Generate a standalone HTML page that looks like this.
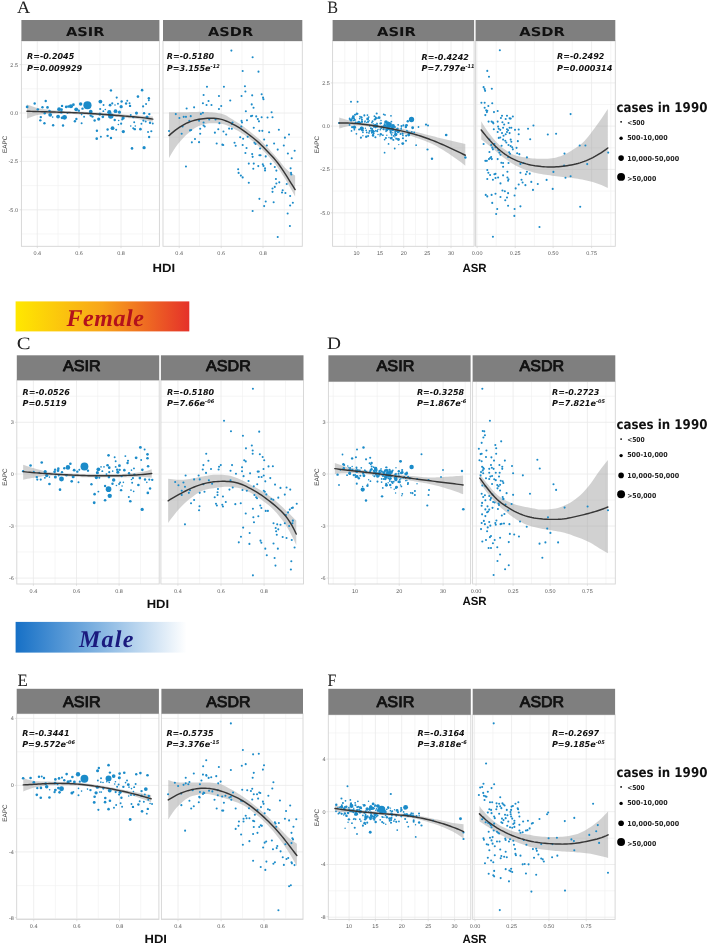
<!DOCTYPE html>
<html lang="en"><head><meta charset="utf-8"><title>EAPC vs HDI and ASR</title>
<style>html,body{margin:0;padding:0;background:#fff}body{width:708px;height:945px;overflow:hidden}svg{display:block}</style></head>
<body>
<svg width="708" height="945" viewBox="0 0 708 945" text-rendering="geometricPrecision">
<defs><linearGradient id="gf" x1="0" x2="1" y1="0" y2="0"><stop offset="0" stop-color="#ffe800"/><stop offset="0.5" stop-color="#f8a51a"/><stop offset="1" stop-color="#e5312a"/></linearGradient><linearGradient id="gm" x1="0" x2="1" y1="0" y2="0"><stop offset="0" stop-color="#1670c6"/><stop offset="0.5" stop-color="#86b6e2"/><stop offset="1" stop-color="#ffffff"/></linearGradient></defs>
<rect width="708" height="945" fill="#fff"/>
<g>
<rect x="21.4" y="41" width="138" height="205.3" fill="#fff"/>
<path d="M58.1 41V246.3M100 41V246.3M142.5 41V246.3M21.4 88.8H159.4M21.4 137.2H159.4M21.4 185.6H159.4M21.4 234H159.4" stroke="#f2f2f2" stroke-width="0.7" fill="none"/>
<path d="M37.3 41V246.3M79 41V246.3M121 41V246.3M21.4 64.6H159.4M21.4 113H159.4M21.4 161.4H159.4M21.4 209.8H159.4" stroke="#eaeaea" stroke-width="0.8" fill="none"/>
<path d="M26.95 104.41 L29.08 105.28 L31.22 106.1 L33.35 106.86 L35.48 107.53 L37.62 108.1 L39.75 108.54 L41.88 108.92 L44.02 109.26 L46.15 109.57 L48.28 109.84 L50.42 110.08 L52.55 110.29 L54.68 110.47 L56.82 110.62 L58.95 110.76 L61.08 110.88 L63.22 110.99 L65.35 111.09 L67.49 111.19 L69.62 111.28 L71.75 111.36 L73.89 111.44 L76.02 111.52 L78.15 111.6 L80.29 111.68 L82.42 111.77 L84.55 111.86 L86.69 111.96 L88.82 112.08 L90.95 112.19 L93.09 112.32 L95.22 112.45 L97.35 112.58 L99.49 112.71 L101.62 112.85 L103.75 113 L105.89 113.14 L108.02 113.29 L110.16 113.44 L112.29 113.59 L114.42 113.74 L116.56 113.89 L118.69 114.04 L120.82 114.2 L122.96 114.35 L125.09 114.5 L127.22 114.66 L129.36 114.82 L131.49 114.98 L133.62 115.14 L135.76 115.3 L137.89 115.46 L140.02 115.63 L142.16 115.79 L144.29 115.95 L146.42 116.12 L148.56 116.28 L150.69 116.44 L152.82 116.61 L152.82 121.81 L150.69 121.34 L148.56 120.89 L146.42 120.46 L144.29 120.07 L142.16 119.71 L140.02 119.4 L137.89 119.11 L135.76 118.85 L133.62 118.6 L131.49 118.36 L129.36 118.14 L127.22 117.92 L125.09 117.71 L122.96 117.51 L120.82 117.31 L118.69 117.1 L116.56 116.9 L114.42 116.7 L112.29 116.51 L110.16 116.31 L108.02 116.12 L105.89 115.94 L103.75 115.76 L101.62 115.6 L99.49 115.44 L97.35 115.28 L95.22 115.14 L93.09 115.01 L90.95 114.89 L88.82 114.79 L86.69 114.69 L84.55 114.59 L82.42 114.49 L80.29 114.39 L78.15 114.29 L76.02 114.2 L73.89 114.11 L71.75 114.02 L69.62 113.95 L67.49 113.88 L65.35 113.82 L63.22 113.76 L61.08 113.72 L58.95 113.69 L56.82 113.68 L54.68 113.67 L52.55 113.71 L50.42 113.8 L48.28 113.93 L46.15 114.09 L44.02 114.29 L41.88 114.52 L39.75 114.76 L37.62 115.08 L35.48 115.57 L33.35 116.2 L31.22 116.95 L29.08 117.77 L26.95 118.64Z" fill="#999" fill-opacity="0.45"/>
<g fill="#1b8bc9"><circle cx="27.14" cy="106.89" r="1.36"/><circle cx="34.66" cy="103.43" r="1.2"/><circle cx="45.73" cy="101.06" r="1.2"/><circle cx="42.47" cy="107.19" r="1.2"/><circle cx="37.82" cy="109.37" r="1.2"/><circle cx="47.51" cy="107.39" r="1.31"/><circle cx="49.49" cy="110.85" r="1.2"/><circle cx="44.74" cy="113.32" r="1.2"/><circle cx="40.79" cy="117.08" r="1.2"/><circle cx="40.29" cy="120.34" r="1.2"/><circle cx="44.44" cy="123.21" r="1.2"/><circle cx="50.18" cy="114.8" r="1.9"/><circle cx="52.65" cy="117.08" r="0.82"/><circle cx="53.14" cy="125.28" r="1.2"/><circle cx="58.09" cy="116.58" r="1.9"/><circle cx="59.08" cy="109.17" r="1.9"/><circle cx="61.55" cy="109.66" r="1.36"/><circle cx="62.04" cy="105.9" r="1.2"/><circle cx="61.35" cy="112.43" r="1.36"/><circle cx="63.03" cy="125.48" r="1.2"/><circle cx="64.52" cy="117.37" r="2.45"/><circle cx="62.04" cy="117.77" r="1.36"/><circle cx="66.2" cy="106.89" r="1.36"/><circle cx="68.47" cy="106.5" r="1.36"/><circle cx="70.94" cy="106.2" r="2.07"/><circle cx="73.41" cy="104.72" r="1.36"/><circle cx="67.48" cy="113.12" r="0.82"/><circle cx="76.18" cy="109.37" r="1.9"/><circle cx="78.85" cy="110.65" r="1.2"/><circle cx="74.9" cy="121.23" r="1.2"/><circle cx="76.38" cy="119.05" r="1.2"/><circle cx="80.63" cy="104.03" r="1.74"/><circle cx="82.51" cy="108.67" r="1.2"/><circle cx="81.62" cy="114.61" r="0.82"/><circle cx="84.09" cy="116.78" r="0.98"/><circle cx="81.62" cy="123.31" r="0.98"/><circle cx="87.45" cy="105.21" r="4.08"/><circle cx="90.72" cy="111.64" r="1.9"/><circle cx="90.72" cy="115.59" r="1.2"/><circle cx="110.96" cy="90.38" r="1.2"/><circle cx="142.11" cy="90.18" r="1.31"/><circle cx="116.7" cy="97.6" r="1.09"/><circle cx="137.95" cy="96.61" r="1.31"/><circle cx="148.83" cy="98.29" r="1.2"/><circle cx="148.83" cy="100.27" r="0.98"/><circle cx="100.38" cy="101.55" r="1.9"/><circle cx="121.64" cy="101.55" r="1.2"/><circle cx="127.28" cy="100.76" r="0.98"/><circle cx="126.09" cy="103.43" r="1.2"/><circle cx="129.55" cy="103.24" r="0.98"/><circle cx="130.04" cy="105.9" r="1.2"/><circle cx="112.25" cy="103.43" r="1.09"/><circle cx="110.07" cy="105.21" r="1.36"/><circle cx="103.55" cy="105.01" r="0.98"/><circle cx="115.01" cy="105.01" r="0.82"/><circle cx="117.98" cy="103.73" r="0.98"/><circle cx="146.06" cy="104.03" r="0.98"/><circle cx="143.09" cy="106.4" r="1.09"/><circle cx="121.14" cy="106.7" r="1.63"/><circle cx="100.18" cy="108.97" r="1.09"/><circle cx="105.33" cy="109.46" r="0.82"/><circle cx="103.35" cy="111.14" r="0.98"/><circle cx="115.51" cy="111.14" r="1.9"/><circle cx="119.46" cy="112.13" r="1.52"/><circle cx="109.28" cy="112.13" r="2.07"/><circle cx="110.76" cy="116.09" r="2.72"/><circle cx="99.89" cy="114.11" r="1.52"/><circle cx="92.47" cy="116.58" r="1.2"/><circle cx="94.65" cy="120.54" r="1.2"/><circle cx="98.7" cy="119.05" r="1.63"/><circle cx="102.85" cy="116.78" r="1.36"/><circle cx="114.72" cy="120.04" r="1.2"/><circle cx="118.67" cy="120.54" r="0.82"/><circle cx="123.12" cy="118.07" r="1.63"/><circle cx="122.13" cy="119.55" r="0.98"/><circle cx="136.47" cy="113.12" r="1.52"/><circle cx="130.74" cy="115.1" r="0.98"/><circle cx="133.21" cy="117.08" r="1.2"/><circle cx="144.08" cy="113.32" r="1.2"/><circle cx="149.32" cy="114.11" r="1.2"/><circle cx="147.05" cy="117.08" r="1.52"/><circle cx="134.2" cy="122.22" r="0.98"/><circle cx="121.14" cy="123.7" r="1.09"/><circle cx="118.38" cy="124.49" r="0.82"/><circle cx="141.41" cy="123.8" r="0.98"/><circle cx="143.39" cy="120.54" r="1.09"/><circle cx="145.67" cy="121.53" r="0.98"/><circle cx="150.02" cy="122.71" r="1.2"/><circle cx="152.78" cy="123.5" r="0.98"/><circle cx="130.74" cy="125.98" r="0.82"/><circle cx="133.21" cy="128.15" r="0.98"/><circle cx="135.28" cy="125.98" r="0.82"/><circle cx="134.79" cy="129.14" r="1.2"/><circle cx="140.43" cy="129.14" r="1.31"/><circle cx="112.54" cy="128.15" r="1.9"/><circle cx="107.6" cy="129.44" r="1.2"/><circle cx="116.2" cy="129.73" r="0.98"/><circle cx="123.32" cy="131.61" r="1.63"/><circle cx="96.92" cy="130.72" r="1.2"/><circle cx="148.04" cy="131.91" r="0.98"/><circle cx="151.3" cy="131.22" r="1.09"/><circle cx="149.13" cy="137.05" r="1.2"/><circle cx="107.6" cy="135.86" r="1.2"/><circle cx="110.96" cy="138.04" r="1.2"/><circle cx="100.88" cy="136.85" r="0.98"/><circle cx="96.72" cy="138.63" r="1.31"/><circle cx="132.02" cy="148.42" r="1.31"/><circle cx="144.08" cy="147.73" r="1.63"/></g>
<path d="M26.95 111.19 L29.08 111.28 L31.22 111.36 L33.35 111.44 L35.48 111.51 L37.62 111.58 L39.75 111.65 L41.88 111.71 L44.02 111.78 L46.15 111.84 L48.28 111.9 L50.42 111.96 L52.55 112.02 L54.68 112.08 L56.82 112.14 L58.95 112.2 L61.08 112.26 L63.22 112.33 L65.35 112.4 L67.49 112.47 L69.62 112.55 L71.75 112.63 L73.89 112.71 L76.02 112.8 L78.15 112.89 L80.29 112.99 L82.42 113.09 L84.55 113.2 L86.69 113.31 L88.82 113.43 L90.95 113.56 L93.09 113.69 L95.22 113.83 L97.35 113.97 L99.49 114.12 L101.62 114.28 L103.75 114.43 L105.89 114.59 L108.02 114.76 L110.16 114.92 L112.29 115.09 L114.42 115.26 L116.56 115.42 L118.69 115.59 L120.82 115.76 L122.96 115.93 L125.09 116.1 L127.22 116.26 L129.36 116.43 L131.49 116.61 L133.62 116.79 L135.76 116.98 L137.89 117.19 L140.02 117.4 L142.16 117.63 L144.29 117.88 L146.42 118.15 L148.56 118.44 L150.69 118.76 L152.82 119.1" stroke="#363636" stroke-width="1.45" fill="none" stroke-linecap="round"/>
<rect x="21.4" y="41" width="138" height="205.3" fill="none" stroke="#d4d4d4" stroke-width="0.9"/>
<rect x="21.4" y="20" width="138" height="21" fill="#7f7f7f"/>
<text x="65.9" y="35.5" font-family='"DejaVu Sans", sans-serif' font-weight="bold" font-size="12.2" textLength="38.5" lengthAdjust="spacingAndGlyphs" fill="#111">ASIR</text>
<text x="27" y="59.3" font-family='"DejaVu Sans", sans-serif' font-weight="bold" font-style="italic" font-size="8.1" fill="#111" textLength="47.3" lengthAdjust="spacingAndGlyphs">R=-0.2045</text>
<text x="27" y="70.9" font-family='"DejaVu Sans", sans-serif' font-weight="bold" font-style="italic" font-size="8.1" fill="#111" textLength="55.25" lengthAdjust="spacingAndGlyphs">P=0.009929</text>
<text x="37.3" y="254.6" text-anchor="middle" font-family='"Liberation Sans", sans-serif' font-size="5.5" fill="#5c5c5c">0.4</text>
<path d="M37.3 246.3v1.8" stroke="#d4d4d4" stroke-width="0.7"/>
<text x="79" y="254.6" text-anchor="middle" font-family='"Liberation Sans", sans-serif' font-size="5.5" fill="#5c5c5c">0.6</text>
<path d="M79 246.3v1.8" stroke="#d4d4d4" stroke-width="0.7"/>
<text x="121" y="254.6" text-anchor="middle" font-family='"Liberation Sans", sans-serif' font-size="5.5" fill="#5c5c5c">0.8</text>
<path d="M121 246.3v1.8" stroke="#d4d4d4" stroke-width="0.7"/>
<text x="18" y="66.5" text-anchor="end" font-family='"Liberation Sans", sans-serif' font-size="5.5" fill="#5c5c5c">2.5</text>
<path d="M21.4 64.6h-1.8" stroke="#d4d4d4" stroke-width="0.7"/>
<text x="18" y="114.9" text-anchor="end" font-family='"Liberation Sans", sans-serif' font-size="5.5" fill="#5c5c5c">0.0</text>
<path d="M21.4 113h-1.8" stroke="#d4d4d4" stroke-width="0.7"/>
<text x="18" y="163.3" text-anchor="end" font-family='"Liberation Sans", sans-serif' font-size="5.5" fill="#5c5c5c">-2.5</text>
<path d="M21.4 161.4h-1.8" stroke="#d4d4d4" stroke-width="0.7"/>
<text x="18" y="211.7" text-anchor="end" font-family='"Liberation Sans", sans-serif' font-size="5.5" fill="#5c5c5c">-5.0</text>
<path d="M21.4 209.8h-1.8" stroke="#d4d4d4" stroke-width="0.7"/>
</g>
<g>
<rect x="163" y="41" width="139.3" height="205.3" fill="#fff"/>
<path d="M199.5 41V246.3M242 41V246.3M284.3 41V246.3M163 88.8H302.3M163 137.2H302.3M163 185.6H302.3M163 234H302.3" stroke="#f2f2f2" stroke-width="0.7" fill="none"/>
<path d="M179.2 41V246.3M221.2 41V246.3M263 41V246.3M163 64.6H302.3M163 113H302.3M163 161.4H302.3M163 209.8H302.3" stroke="#eaeaea" stroke-width="0.8" fill="none"/>
<path d="M169.01 112.32 L171.15 112.32 L173.29 112.32 L175.42 112.32 L177.56 112.32 L179.7 112.32 L181.84 112.3 L183.97 112.27 L186.11 112.22 L188.25 112.16 L190.38 112.11 L192.52 112.05 L194.66 111.99 L196.8 111.92 L198.93 111.87 L201.07 111.87 L203.21 111.91 L205.35 111.98 L207.48 112.08 L209.62 112.2 L211.76 112.33 L213.89 112.52 L216.03 112.78 L218.17 113.13 L220.31 113.54 L222.44 114.04 L224.58 114.75 L226.72 115.87 L228.86 117.21 L230.99 118.59 L233.13 119.86 L235.27 121.14 L237.41 122.47 L239.54 123.85 L241.68 125.3 L243.82 126.84 L245.95 128.44 L248.09 130.1 L250.23 131.77 L252.37 133.46 L254.5 135.18 L256.64 136.96 L258.78 138.82 L260.92 140.81 L263.05 142.92 L265.19 145.1 L267.33 147.32 L269.47 149.58 L271.6 151.88 L273.74 154.24 L275.88 156.64 L278.01 159.13 L280.15 161.83 L282.29 164.58 L284.43 167.13 L286.56 169.26 L288.7 171.13 L290.84 172.84 L292.98 174.34 L295.11 175.59 L295.11 196.38 L292.98 192.48 L290.84 188.67 L288.7 184.97 L286.56 181.37 L284.43 177.86 L282.29 174.4 L280.15 171.06 L278.01 167.91 L275.88 165.02 L273.74 162.31 L271.6 159.76 L269.47 157.33 L267.33 154.98 L265.19 152.73 L263.05 150.57 L260.92 148.5 L258.78 146.5 L256.64 144.58 L254.5 142.71 L252.37 140.93 L250.23 139.23 L248.09 137.6 L245.95 136.04 L243.82 134.56 L241.68 133.16 L239.54 131.84 L237.41 130.59 L235.27 129.4 L233.13 128.3 L230.99 127.28 L228.86 126.23 L226.72 125.24 L224.58 124.46 L222.44 124.02 L220.31 123.75 L218.17 123.52 L216.03 123.33 L213.89 123.21 L211.76 123.16 L209.62 123.25 L207.48 123.54 L205.35 123.98 L203.21 124.53 L201.07 125.16 L198.93 125.89 L196.8 126.97 L194.66 128.33 L192.52 129.85 L190.38 131.43 L188.25 133.16 L186.11 135.08 L183.97 137.18 L181.84 139.45 L179.7 141.88 L177.56 144.57 L175.42 147.56 L173.29 150.8 L171.15 154.28 L169.01 157.97Z" fill="#999" fill-opacity="0.45"/>
<g fill="#1b8bc9"><circle cx="231.38" cy="50.62" r="1.04"/><circle cx="252.63" cy="57.18" r="1.04"/><circle cx="242.68" cy="70.96" r="1.04"/><circle cx="258.5" cy="71.64" r="1.04"/><circle cx="206.98" cy="86.78" r="1.04"/><circle cx="223.93" cy="86.78" r="1.04"/><circle cx="244.94" cy="86.33" r="1.04"/><circle cx="245.4" cy="91.53" r="1.04"/><circle cx="203.59" cy="94.92" r="1.04"/><circle cx="218.95" cy="96.05" r="1.04"/><circle cx="241.55" cy="96.05" r="1.04"/><circle cx="252.18" cy="95.37" r="1.04"/><circle cx="261.67" cy="94.24" r="1.04"/><circle cx="263.02" cy="97.63" r="1.04"/><circle cx="263.47" cy="99.21" r="1.04"/><circle cx="208.56" cy="101.02" r="1.04"/><circle cx="230.25" cy="100.56" r="1.04"/><circle cx="202.91" cy="103.28" r="1.04"/><circle cx="206.53" cy="105.08" r="1.04"/><circle cx="211.5" cy="105.08" r="1.04"/><circle cx="221.21" cy="105.99" r="1.04"/><circle cx="251.72" cy="104.41" r="1.04"/><circle cx="253.53" cy="107.8" r="1.04"/><circle cx="194.1" cy="107.34" r="1.04"/><circle cx="186.64" cy="108.47" r="1.04"/><circle cx="218.95" cy="108.93" r="1.04"/><circle cx="245.85" cy="111.19" r="1.04"/><circle cx="271.61" cy="112.32" r="1.04"/><circle cx="175.79" cy="114.12" r="1.04"/><circle cx="183.7" cy="116.84" r="1.04"/><circle cx="185.96" cy="116.84" r="1.04"/><circle cx="190.71" cy="116.16" r="1.04"/><circle cx="200.88" cy="113.9" r="1.04"/><circle cx="202.91" cy="112.77" r="1.04"/><circle cx="179.41" cy="117.97" r="1.04"/><circle cx="189.35" cy="120.68" r="1.04"/><circle cx="199.07" cy="120.68" r="1.04"/><circle cx="203.59" cy="122.49" r="1.04"/><circle cx="209.24" cy="119.55" r="1.04"/><circle cx="215.56" cy="119.55" r="1.04"/><circle cx="219.41" cy="123.16" r="1.04"/><circle cx="232.51" cy="122.49" r="1.04"/><circle cx="231.84" cy="124.07" r="1.04"/><circle cx="241.55" cy="120.9" r="1.04"/><circle cx="242.01" cy="122.49" r="1.04"/><circle cx="246.98" cy="120.23" r="1.04"/><circle cx="251.05" cy="116.16" r="1.04"/><circle cx="252.18" cy="115.71" r="1.04"/><circle cx="256.24" cy="116.38" r="1.04"/><circle cx="257.82" cy="119.1" r="1.04"/><circle cx="258.95" cy="121.36" r="1.04"/><circle cx="261.67" cy="117.29" r="1.04"/><circle cx="267.54" cy="117.51" r="1.04"/><circle cx="272.51" cy="117.29" r="1.04"/><circle cx="169.01" cy="131.07" r="1.04"/><circle cx="182.57" cy="126.55" r="1.04"/><circle cx="181.67" cy="133.79" r="1.04"/><circle cx="190.03" cy="130.4" r="1.04"/><circle cx="191.16" cy="129.94" r="1.04"/><circle cx="200.2" cy="128.81" r="1.04"/><circle cx="203.59" cy="125.42" r="1.04"/><circle cx="204.72" cy="126.55" r="1.04"/><circle cx="214.89" cy="132.66" r="1.04"/><circle cx="218.28" cy="129.27" r="1.04"/><circle cx="223.47" cy="131.53" r="1.04"/><circle cx="226.19" cy="134.46" r="1.04"/><circle cx="229.12" cy="128.59" r="1.04"/><circle cx="231.84" cy="128.81" r="1.04"/><circle cx="241.33" cy="126.55" r="1.04"/><circle cx="253.76" cy="127.68" r="1.04"/><circle cx="259.41" cy="130.85" r="1.04"/><circle cx="262.34" cy="130.85" r="1.04"/><circle cx="269.12" cy="132.2" r="1.04"/><circle cx="278.84" cy="129.72" r="1.04"/><circle cx="289.01" cy="134.46" r="1.04"/><circle cx="284.94" cy="137.63" r="1.04"/><circle cx="191.84" cy="142.37" r="1.04"/><circle cx="195" cy="138.98" r="1.04"/><circle cx="199.07" cy="142.15" r="1.04"/><circle cx="200.2" cy="133.79" r="1.04"/><circle cx="216.69" cy="143.5" r="1.04"/><circle cx="222.34" cy="144.63" r="1.04"/><circle cx="223.25" cy="145.08" r="1.04"/><circle cx="234.55" cy="142.82" r="1.04"/><circle cx="235.68" cy="145.76" r="1.04"/><circle cx="240.2" cy="137.18" r="1.04"/><circle cx="243.14" cy="138.76" r="1.04"/><circle cx="247.66" cy="136.72" r="1.04"/><circle cx="242.68" cy="145.08" r="1.04"/><circle cx="246.53" cy="148.02" r="1.04"/><circle cx="254.44" cy="142.82" r="1.04"/><circle cx="255.56" cy="143.95" r="1.04"/><circle cx="260.08" cy="148.47" r="1.04"/><circle cx="264.15" cy="139.44" r="1.04"/><circle cx="266.86" cy="145.54" r="1.04"/><circle cx="274.1" cy="143.5" r="1.04"/><circle cx="283.81" cy="145.54" r="1.04"/><circle cx="277.71" cy="149.6" r="1.04"/><circle cx="294.66" cy="150.73" r="1.04"/><circle cx="245.4" cy="152.99" r="1.04"/><circle cx="252.18" cy="154.12" r="1.04"/><circle cx="252.63" cy="156.84" r="1.04"/><circle cx="259.41" cy="155.25" r="1.04"/><circle cx="260.54" cy="155.25" r="1.04"/><circle cx="265.73" cy="156.38" r="1.04"/><circle cx="287.88" cy="153.45" r="1.04"/><circle cx="291.72" cy="158.19" r="1.04"/><circle cx="185.96" cy="166.55" r="1.04"/><circle cx="248.79" cy="163.62" r="1.04"/><circle cx="253.76" cy="163.62" r="1.04"/><circle cx="253.31" cy="168.81" r="1.04"/><circle cx="258.28" cy="166.1" r="1.04"/><circle cx="262.8" cy="164.29" r="1.04"/><circle cx="263.47" cy="165.88" r="1.04"/><circle cx="265.06" cy="168.36" r="1.04"/><circle cx="265.06" cy="170.4" r="1.04"/><circle cx="270.71" cy="163.84" r="1.04"/><circle cx="274.77" cy="167.01" r="1.04"/><circle cx="276.36" cy="170.62" r="1.04"/><circle cx="290.59" cy="168.36" r="1.04"/><circle cx="291.05" cy="172.88" r="1.04"/><circle cx="291.27" cy="174.46" r="1.04"/><circle cx="238.16" cy="169.27" r="1.04"/><circle cx="238.62" cy="172.88" r="1.04"/><circle cx="240.88" cy="175.59" r="1.04"/><circle cx="242.68" cy="177.4" r="1.04"/><circle cx="248.79" cy="182.82" r="1.04"/><circle cx="275.9" cy="178.98" r="1.04"/><circle cx="276.36" cy="183.5" r="1.04"/><circle cx="279.29" cy="182.37" r="1.04"/><circle cx="274.77" cy="186.89" r="1.04"/><circle cx="272.51" cy="188.47" r="1.04"/><circle cx="272.51" cy="191.86" r="1.04"/><circle cx="282.68" cy="190.28" r="1.04"/><circle cx="282.01" cy="192.54" r="1.04"/><circle cx="285.4" cy="192.99" r="1.04"/><circle cx="286.75" cy="183.95" r="1.04"/><circle cx="290.14" cy="195.93" r="1.04"/><circle cx="259.41" cy="198.87" r="1.04"/><circle cx="265.73" cy="201.58" r="1.04"/><circle cx="273.64" cy="202.26" r="1.04"/><circle cx="292.85" cy="202.71" r="1.04"/><circle cx="290.14" cy="205.42" r="1.04"/><circle cx="264.15" cy="206.1" r="1.04"/><circle cx="252.63" cy="211.07" r="1.04"/><circle cx="287.66" cy="213.56" r="1.04"/><circle cx="289.92" cy="225.99" r="1.04"/><circle cx="277.71" cy="237.06" r="1.04"/></g>
<path d="M169.01 135.59 L171.15 133.66 L173.29 131.84 L175.42 130.14 L177.56 128.57 L179.7 127.11 L181.84 125.77 L183.97 124.56 L186.11 123.46 L188.25 122.49 L190.38 121.64 L192.52 120.9 L194.66 120.28 L196.8 119.76 L198.93 119.32 L201.07 118.96 L203.21 118.66 L205.35 118.44 L207.48 118.28 L209.62 118.2 L211.76 118.2 L213.89 118.27 L216.03 118.44 L218.17 118.72 L220.31 119.12 L222.44 119.67 L224.58 120.37 L226.72 121.21 L228.86 122.15 L230.99 123.19 L233.13 124.29 L235.27 125.44 L237.41 126.66 L239.54 127.96 L241.68 129.35 L243.82 130.82 L245.95 132.37 L248.09 133.97 L250.23 135.61 L252.37 137.27 L254.5 138.99 L256.64 140.78 L258.78 142.66 L260.92 144.67 L263.05 146.77 L265.19 148.95 L267.33 151.17 L269.47 153.41 L271.6 155.69 L273.74 158.07 L275.88 160.59 L278.01 163.31 L280.15 166.23 L282.29 169.33 L284.43 172.57 L286.56 175.92 L288.7 179.32 L290.84 182.77 L292.98 186.2 L295.11 189.6" stroke="#363636" stroke-width="1.45" fill="none" stroke-linecap="round"/>
<rect x="163" y="41" width="139.3" height="205.3" fill="none" stroke="#d4d4d4" stroke-width="0.9"/>
<rect x="163" y="20" width="139.3" height="21" fill="#7f7f7f"/>
<text x="208.1" y="35.5" font-family='"DejaVu Sans", sans-serif' font-weight="bold" font-size="12.2" textLength="45.1" lengthAdjust="spacingAndGlyphs" fill="#111">ASDR</text>
<text x="166.8" y="59.3" font-family='"DejaVu Sans", sans-serif' font-weight="bold" font-style="italic" font-size="8.1" fill="#111" textLength="47.3" lengthAdjust="spacingAndGlyphs">R=-0.5180</text>
<text x="166.8" y="70.9" font-family='"DejaVu Sans", sans-serif' font-weight="bold" font-style="italic" font-size="8.1" fill="#111" textLength="52.87" lengthAdjust="spacingAndGlyphs">P=3.155e<tspan dy="-3.1" font-size="5">-12</tspan></text>
<text x="179.2" y="254.6" text-anchor="middle" font-family='"Liberation Sans", sans-serif' font-size="5.5" fill="#5c5c5c">0.4</text>
<path d="M179.2 246.3v1.8" stroke="#d4d4d4" stroke-width="0.7"/>
<text x="221.2" y="254.6" text-anchor="middle" font-family='"Liberation Sans", sans-serif' font-size="5.5" fill="#5c5c5c">0.6</text>
<path d="M221.2 246.3v1.8" stroke="#d4d4d4" stroke-width="0.7"/>
<text x="263" y="254.6" text-anchor="middle" font-family='"Liberation Sans", sans-serif' font-size="5.5" fill="#5c5c5c">0.8</text>
<path d="M263 246.3v1.8" stroke="#d4d4d4" stroke-width="0.7"/>
</g>
<text x="16.9" y="13.1" font-family='"Liberation Serif", serif' font-size="17.4" fill="#222" textLength="13.2" lengthAdjust="spacingAndGlyphs">A</text>
<text transform="translate(6.9 144.3) rotate(-90)" text-anchor="middle" font-family='"Liberation Sans", sans-serif' font-size="6.4" fill="#333">EAPC</text>
<text x="152.6" y="271.7" font-family='"Liberation Sans", sans-serif' font-weight="bold" font-size="11.9" textLength="22.6" lengthAdjust="spacingAndGlyphs" fill="#111">HDI</text>
<g>
<rect x="332.6" y="41" width="141.5" height="205.3" fill="#fff"/>
<path d="M344.8 41V246.3M368.3 41V246.3M391.9 41V246.3M415.5 41V246.3M439.1 41V246.3M462.8 41V246.3M332.6 61.4H474.1M332.6 104.5H474.1M332.6 147.8H474.1M332.6 191.1H474.1M332.6 234.4H474.1" stroke="#f2f2f2" stroke-width="0.7" fill="none"/>
<path d="M356.6 41V246.3M380.1 41V246.3M403.7 41V246.3M427.3 41V246.3M451 41V246.3M332.6 82.9H474.1M332.6 126.1H474.1M332.6 169.4H474.1M332.6 212.8H474.1" stroke="#eaeaea" stroke-width="0.8" fill="none"/>
<path d="M339.21 117.51 L341.35 118.15 L343.48 118.77 L345.62 119.38 L347.76 119.95 L349.9 120.49 L352.03 120.98 L354.17 121.41 L356.31 121.79 L358.44 122.15 L360.58 122.48 L362.72 122.79 L364.86 123.08 L366.99 123.35 L369.13 123.62 L371.27 123.88 L373.41 124.14 L375.54 124.39 L377.68 124.66 L379.82 124.93 L381.96 125.22 L384.09 125.52 L386.23 125.85 L388.37 126.2 L390.5 126.57 L392.64 126.95 L394.78 127.35 L396.92 127.77 L399.05 128.2 L401.19 128.63 L403.33 129.08 L405.47 129.54 L407.6 130.01 L409.74 130.48 L411.88 130.96 L414.02 131.46 L416.15 131.97 L418.29 132.5 L420.43 133.04 L422.56 133.59 L424.7 134.14 L426.84 134.7 L428.98 135.25 L431.11 135.8 L433.25 136.34 L435.39 136.87 L437.53 137.42 L439.66 137.96 L441.8 138.51 L443.94 139.05 L446.07 139.58 L448.21 140.11 L450.35 140.62 L452.49 141.12 L454.62 141.61 L456.76 142.1 L458.9 142.57 L461.04 143.04 L463.17 143.5 L465.31 143.95 L465.31 165.65 L463.17 163.98 L461.04 162.35 L458.9 160.75 L456.76 159.19 L454.62 157.67 L452.49 156.2 L450.35 154.78 L448.21 153.36 L446.07 151.96 L443.94 150.59 L441.8 149.25 L439.66 147.97 L437.53 146.74 L435.39 145.59 L433.25 144.53 L431.11 143.54 L428.98 142.6 L426.84 141.69 L424.7 140.82 L422.56 139.99 L420.43 139.19 L418.29 138.42 L416.15 137.68 L414.02 136.97 L411.88 136.28 L409.74 135.62 L407.6 134.96 L405.47 134.32 L403.33 133.7 L401.19 133.09 L399.05 132.51 L396.92 131.95 L394.78 131.42 L392.64 130.92 L390.5 130.47 L388.37 130.05 L386.23 129.66 L384.09 129.26 L381.96 128.87 L379.82 128.47 L377.68 128.08 L375.54 127.7 L373.41 127.33 L371.27 126.99 L369.13 126.66 L366.99 126.37 L364.86 126.1 L362.72 125.88 L360.58 125.69 L358.44 125.55 L356.31 125.46 L354.17 125.42 L352.03 125.5 L349.9 125.75 L347.76 126.14 L345.62 126.65 L343.48 127.25 L341.35 127.91 L339.21 128.59Z" fill="#999" fill-opacity="0.45"/>
<g fill="#1b8bc9"><circle cx="361" cy="137.33" r="0.72"/><circle cx="407.93" cy="132.21" r="1.04"/><circle cx="375.75" cy="130.45" r="0.72"/><circle cx="397.05" cy="131.37" r="1.04"/><circle cx="414.18" cy="132.47" r="0.88"/><circle cx="387.05" cy="122.54" r="0.72"/><circle cx="381.15" cy="123.19" r="0.88"/><circle cx="362.18" cy="130.49" r="0.88"/><circle cx="353.35" cy="116.76" r="1.43"/><circle cx="391.93" cy="128.33" r="1.71"/><circle cx="380.77" cy="134.21" r="1.21"/><circle cx="386.89" cy="122.99" r="0.72"/><circle cx="352.08" cy="127.13" r="1.04"/><circle cx="365.12" cy="121.01" r="0.72"/><circle cx="398.17" cy="124.76" r="0.88"/><circle cx="393.48" cy="139.89" r="0.88"/><circle cx="368.95" cy="132.93" r="0.88"/><circle cx="372.4" cy="129" r="0.88"/><circle cx="368.15" cy="136.05" r="1.04"/><circle cx="391.67" cy="137.85" r="1.04"/><circle cx="361.93" cy="121.83" r="1.21"/><circle cx="353.66" cy="120.46" r="0.72"/><circle cx="368.11" cy="121.85" r="1.04"/><circle cx="362.92" cy="132.31" r="0.88"/><circle cx="354.06" cy="118.42" r="0.88"/><circle cx="389.34" cy="128.33" r="0.88"/><circle cx="406.48" cy="125.36" r="1.43"/><circle cx="406" cy="140.8" r="1.04"/><circle cx="361.94" cy="119.79" r="1.04"/><circle cx="398.14" cy="131.95" r="0.88"/><circle cx="361.57" cy="117.64" r="1.04"/><circle cx="387.53" cy="124.65" r="1.04"/><circle cx="370.93" cy="128.2" r="1.04"/><circle cx="383.69" cy="114.31" r="0.88"/><circle cx="385.13" cy="125.44" r="1.21"/><circle cx="389.05" cy="128.98" r="1.04"/><circle cx="373.98" cy="126.5" r="1.21"/><circle cx="391.58" cy="134.79" r="0.88"/><circle cx="385.9" cy="126.43" r="1.04"/><circle cx="398.04" cy="130.73" r="1.21"/><circle cx="375.88" cy="117.76" r="0.88"/><circle cx="401.5" cy="126.09" r="1.04"/><circle cx="382.77" cy="126.43" r="0.72"/><circle cx="349.56" cy="118.29" r="0.72"/><circle cx="416.12" cy="145.15" r="0.88"/><circle cx="392.79" cy="129.93" r="1.21"/><circle cx="395.7" cy="134.48" r="1.71"/><circle cx="357.81" cy="113.72" r="0.72"/><circle cx="355.63" cy="122.62" r="1.04"/><circle cx="352.8" cy="118.18" r="1.43"/><circle cx="375.51" cy="127.36" r="1.04"/><circle cx="375.53" cy="119.12" r="1.04"/><circle cx="398.45" cy="139.55" r="1.43"/><circle cx="402.92" cy="135.46" r="0.88"/><circle cx="364.35" cy="115.38" r="1.04"/><circle cx="382.9" cy="135.17" r="0.88"/><circle cx="362.91" cy="135.84" r="0.72"/><circle cx="387.16" cy="127.65" r="0.88"/><circle cx="386.68" cy="129.84" r="1.43"/><circle cx="397.81" cy="132.46" r="0.88"/><circle cx="354.4" cy="129.66" r="0.88"/><circle cx="392.99" cy="139.81" r="0.72"/><circle cx="349.52" cy="124.94" r="0.88"/><circle cx="396.92" cy="128.98" r="0.88"/><circle cx="356.85" cy="113.81" r="1.21"/><circle cx="375.55" cy="117.11" r="0.88"/><circle cx="372.58" cy="121.31" r="1.04"/><circle cx="394.72" cy="148.5" r="0.88"/><circle cx="366.31" cy="136.66" r="1.21"/><circle cx="406.92" cy="130.64" r="0.88"/><circle cx="391.44" cy="130.11" r="0.72"/><circle cx="390.98" cy="115.76" r="0.88"/><circle cx="371.19" cy="130.35" r="0.88"/><circle cx="351.51" cy="130.98" r="0.88"/><circle cx="371.9" cy="129.08" r="0.72"/><circle cx="376.92" cy="118.19" r="0.88"/><circle cx="369.74" cy="125.86" r="0.88"/><circle cx="392.82" cy="132.79" r="0.72"/><circle cx="395.21" cy="132.28" r="0.88"/><circle cx="361.29" cy="127.77" r="1.04"/><circle cx="376.7" cy="113.51" r="1.04"/><circle cx="408.7" cy="135.05" r="1.43"/><circle cx="377.24" cy="131.14" r="1.04"/><circle cx="398.42" cy="131.84" r="1.04"/><circle cx="362.41" cy="130.19" r="0.72"/><circle cx="384" cy="126.09" r="1.04"/><circle cx="373.05" cy="134.72" r="0.88"/><circle cx="381.57" cy="126.61" r="0.88"/><circle cx="402.76" cy="143.59" r="1.43"/><circle cx="396.07" cy="138.73" r="0.88"/><circle cx="388.94" cy="126.77" r="0.88"/><circle cx="405.85" cy="127.05" r="1.21"/><circle cx="411.8" cy="131.89" r="0.88"/><circle cx="360.19" cy="122.79" r="0.88"/><circle cx="388.56" cy="143.88" r="0.88"/><circle cx="384.49" cy="124.13" r="0.88"/><circle cx="373.02" cy="135.56" r="1.21"/><circle cx="349.71" cy="119.05" r="1.04"/><circle cx="393.53" cy="135.97" r="0.88"/><circle cx="383.71" cy="129.46" r="0.88"/><circle cx="354.84" cy="119.9" r="1.04"/><circle cx="396.95" cy="138.63" r="0.88"/><circle cx="362.86" cy="130.51" r="1.04"/><circle cx="354.38" cy="127.3" r="1.71"/><circle cx="383.36" cy="129.19" r="0.88"/><circle cx="403.42" cy="125.39" r="1.04"/><circle cx="412.63" cy="127.72" r="1.43"/><circle cx="391.39" cy="121.55" r="0.88"/><circle cx="381.21" cy="128.14" r="0.88"/><circle cx="359.68" cy="118.6" r="0.88"/><circle cx="407.77" cy="121.21" r="1.21"/><circle cx="367.67" cy="119.01" r="1.43"/><circle cx="394.88" cy="136.9" r="0.72"/><circle cx="401.31" cy="127.92" r="0.72"/><circle cx="351.06" cy="120.14" r="1.43"/><circle cx="399.06" cy="131.52" r="1.04"/><circle cx="357.95" cy="122.65" r="1.21"/><circle cx="381" cy="120.48" r="0.72"/><circle cx="369.13" cy="120.66" r="0.72"/><circle cx="379.91" cy="135.89" r="0.72"/><circle cx="364.88" cy="121.82" r="0.88"/><circle cx="366.82" cy="122.43" r="0.72"/><circle cx="358.88" cy="121.87" r="1.21"/><circle cx="392.91" cy="126.17" r="0.88"/><circle cx="375.42" cy="137.27" r="1.04"/><circle cx="386" cy="131.58" r="0.72"/><circle cx="385.89" cy="138" r="1.04"/><circle cx="395.26" cy="130.85" r="0.88"/><circle cx="375.14" cy="124.89" r="1.04"/><circle cx="394.88" cy="126.95" r="1.04"/><circle cx="400.56" cy="133.94" r="1.04"/><circle cx="360.89" cy="137.68" r="1.04"/><circle cx="374.4" cy="116.19" r="0.88"/><circle cx="360.03" cy="116.68" r="0.88"/><circle cx="402.95" cy="138.18" r="1.04"/><circle cx="371.89" cy="132.68" r="1.04"/><circle cx="366.22" cy="136.88" r="0.72"/><circle cx="380.36" cy="129.61" r="0.88"/><circle cx="401.17" cy="128.92" r="0.88"/><circle cx="374.64" cy="119.58" r="1.04"/><circle cx="376.98" cy="126.33" r="1.43"/><circle cx="387.95" cy="129.11" r="1.21"/><circle cx="397.79" cy="128.27" r="0.88"/><circle cx="398.77" cy="144.61" r="0.72"/><circle cx="390.73" cy="131.99" r="1.21"/><circle cx="365.41" cy="128.21" r="0.72"/><circle cx="406.17" cy="135.71" r="1.04"/><circle cx="377.07" cy="123.82" r="0.88"/><circle cx="388.97" cy="137.46" r="0.72"/><circle cx="376.91" cy="123.14" r="0.72"/><circle cx="359.5" cy="123.04" r="1.04"/><circle cx="367.43" cy="115.07" r="0.88"/><circle cx="386.7" cy="130.43" r="1.04"/><circle cx="386.46" cy="127.31" r="1.04"/><circle cx="384.65" cy="139.54" r="0.88"/><circle cx="390.21" cy="130.06" r="1.04"/><circle cx="373.78" cy="133.44" r="0.88"/><circle cx="366.2" cy="130.29" r="0.88"/><circle cx="356.41" cy="133.83" r="0.88"/><circle cx="380.36" cy="123.42" r="1.04"/><circle cx="366.75" cy="132.43" r="0.88"/><circle cx="386.82" cy="135.29" r="0.72"/><circle cx="368.66" cy="117.03" r="0.88"/><circle cx="359.12" cy="129.42" r="1.04"/><circle cx="388.43" cy="122.21" r="0.72"/><circle cx="391.01" cy="133.41" r="0.72"/><circle cx="385.74" cy="122.24" r="0.88"/><circle cx="384.59" cy="152.71" r="0.88"/><circle cx="377.94" cy="129.38" r="0.72"/><circle cx="389.55" cy="123.35" r="0.88"/><circle cx="371.92" cy="122.61" r="0.88"/><circle cx="409.29" cy="133.16" r="1.43"/><circle cx="402.59" cy="133.65" r="1.04"/><circle cx="379.1" cy="117.67" r="1.43"/><circle cx="372.81" cy="131.46" r="1.71"/><circle cx="355.01" cy="114.67" r="1.04"/><circle cx="361.36" cy="117.24" r="0.88"/><circle cx="395.4" cy="131.35" r="0.88"/><circle cx="373.28" cy="124.04" r="0.72"/><circle cx="384.98" cy="114.89" r="0.88"/><circle cx="369.61" cy="131.09" r="1.04"/><circle cx="391.15" cy="138.2" r="1.21"/><circle cx="378.06" cy="134.52" r="0.72"/><circle cx="374.87" cy="131.42" r="0.72"/><circle cx="376.69" cy="125.36" r="1.04"/><circle cx="411.5" cy="119.5" r="2.64"/><circle cx="389" cy="124.8" r="2.86"/><circle cx="361.8" cy="128.6" r="2.09"/><circle cx="393" cy="126" r="1.98"/><circle cx="386" cy="122" r="1.87"/><circle cx="446.2" cy="135" r="1.32"/><circle cx="465.4" cy="157.5" r="1.21"/><circle cx="432" cy="158.7" r="1.21"/><circle cx="427.5" cy="149.5" r="1.1"/><circle cx="426" cy="124.6" r="1.1"/><circle cx="428" cy="125.5" r="0.99"/><circle cx="418.5" cy="127" r="0.88"/><circle cx="351" cy="101.8" r="0.99"/><circle cx="357.6" cy="101.8" r="0.99"/><circle cx="339" cy="123" r="0.99"/></g>
<path d="M339.21 122.94 L341.35 122.92 L343.48 122.93 L345.62 122.98 L347.76 123.05 L349.9 123.14 L352.03 123.26 L354.17 123.41 L356.31 123.58 L358.44 123.77 L360.58 123.98 L362.72 124.22 L364.86 124.47 L366.99 124.74 L369.13 125.03 L371.27 125.34 L373.41 125.66 L375.54 125.99 L377.68 126.34 L379.82 126.7 L381.96 127.07 L384.09 127.45 L386.23 127.84 L388.37 128.24 L390.5 128.65 L392.64 129.07 L394.78 129.49 L396.92 129.93 L399.05 130.39 L401.19 130.86 L403.33 131.35 L405.47 131.85 L407.6 132.38 L409.74 132.93 L411.88 133.51 L414.02 134.11 L416.15 134.73 L418.29 135.38 L420.43 136.06 L422.56 136.76 L424.7 137.49 L426.84 138.24 L428.98 139.02 L431.11 139.83 L433.25 140.67 L435.39 141.53 L437.53 142.41 L439.66 143.32 L441.8 144.25 L443.94 145.2 L446.07 146.17 L448.21 147.14 L450.35 148.14 L452.49 149.14 L454.62 150.15 L456.76 151.17 L458.9 152.19 L461.04 153.21 L463.17 154.23 L465.31 155.25" stroke="#363636" stroke-width="1.45" fill="none" stroke-linecap="round"/>
<rect x="332.6" y="41" width="141.5" height="205.3" fill="none" stroke="#d4d4d4" stroke-width="0.9"/>
<rect x="332.6" y="20" width="141.5" height="21" fill="#7f7f7f"/>
<text x="377.1" y="35.6" font-family='"DejaVu Sans", sans-serif' font-weight="bold" font-size="12.2" textLength="38.8" lengthAdjust="spacingAndGlyphs" fill="#111">ASIR</text>
<text x="421.6" y="59.5" font-family='"DejaVu Sans", sans-serif' font-weight="bold" font-style="italic" font-size="8.1" fill="#111" textLength="47.3" lengthAdjust="spacingAndGlyphs">R=-0.4242</text>
<text x="421.6" y="71.1" font-family='"DejaVu Sans", sans-serif' font-weight="bold" font-style="italic" font-size="8.1" fill="#111" textLength="52.87" lengthAdjust="spacingAndGlyphs">P=7.797e<tspan dy="-3.1" font-size="5">-11</tspan></text>
<text x="356.6" y="254.6" text-anchor="middle" font-family='"Liberation Sans", sans-serif' font-size="5.5" fill="#5c5c5c">10</text>
<path d="M356.6 246.3v1.8" stroke="#d4d4d4" stroke-width="0.7"/>
<text x="380.1" y="254.6" text-anchor="middle" font-family='"Liberation Sans", sans-serif' font-size="5.5" fill="#5c5c5c">15</text>
<path d="M380.1 246.3v1.8" stroke="#d4d4d4" stroke-width="0.7"/>
<text x="403.7" y="254.6" text-anchor="middle" font-family='"Liberation Sans", sans-serif' font-size="5.5" fill="#5c5c5c">20</text>
<path d="M403.7 246.3v1.8" stroke="#d4d4d4" stroke-width="0.7"/>
<text x="427.3" y="254.6" text-anchor="middle" font-family='"Liberation Sans", sans-serif' font-size="5.5" fill="#5c5c5c">25</text>
<path d="M427.3 246.3v1.8" stroke="#d4d4d4" stroke-width="0.7"/>
<text x="451" y="254.6" text-anchor="middle" font-family='"Liberation Sans", sans-serif' font-size="5.5" fill="#5c5c5c">30</text>
<path d="M451 246.3v1.8" stroke="#d4d4d4" stroke-width="0.7"/>
<text x="329.8" y="84.8" text-anchor="end" font-family='"Liberation Sans", sans-serif' font-size="5.5" fill="#5c5c5c">2.5</text>
<path d="M332.6 82.9h-1.8" stroke="#d4d4d4" stroke-width="0.7"/>
<text x="329.8" y="128" text-anchor="end" font-family='"Liberation Sans", sans-serif' font-size="5.5" fill="#5c5c5c">0.0</text>
<path d="M332.6 126.1h-1.8" stroke="#d4d4d4" stroke-width="0.7"/>
<text x="329.8" y="171.3" text-anchor="end" font-family='"Liberation Sans", sans-serif' font-size="5.5" fill="#5c5c5c">-2.5</text>
<path d="M332.6 169.4h-1.8" stroke="#d4d4d4" stroke-width="0.7"/>
<text x="329.8" y="214.7" text-anchor="end" font-family='"Liberation Sans", sans-serif' font-size="5.5" fill="#5c5c5c">-5.0</text>
<path d="M332.6 212.8h-1.8" stroke="#d4d4d4" stroke-width="0.7"/>
</g>
<g>
<rect x="475.6" y="41" width="139.7" height="205.3" fill="#fff"/>
<path d="M496.2 41V246.3M534.4 41V246.3M572.3 41V246.3M610.8 41V246.3M475.6 61.4H615.3M475.6 104.5H615.3M475.6 147.8H615.3M475.6 191.1H615.3M475.6 234.4H615.3" stroke="#f2f2f2" stroke-width="0.7" fill="none"/>
<path d="M476.8 41V246.3M515.2 41V246.3M553.1 41V246.3M591.6 41V246.3M475.6 82.9H615.3M475.6 126.1H615.3M475.6 169.4H615.3M475.6 212.8H615.3" stroke="#eaeaea" stroke-width="0.8" fill="none"/>
<path d="M481.27 121.36 L483.42 124.89 L485.56 128.24 L487.71 131.4 L489.85 134.34 L492 137.03 L494.14 139.53 L496.29 141.9 L498.43 144.11 L500.58 146.13 L502.72 147.94 L504.87 149.56 L507.01 151.11 L509.16 152.56 L511.3 153.81 L513.45 154.81 L515.59 155.51 L517.74 156.06 L519.88 156.52 L522.03 156.92 L524.17 157.26 L526.32 157.55 L528.46 157.85 L530.61 158.14 L532.75 158.39 L534.9 158.57 L537.04 158.64 L539.19 158.64 L541.33 158.64 L543.48 158.64 L545.62 158.64 L547.77 158.64 L549.91 158.6 L552.06 158.35 L554.2 157.93 L556.35 157.4 L558.49 156.79 L560.64 156.16 L562.78 155.34 L564.93 154.31 L567.07 153.15 L569.22 151.91 L571.36 150.65 L573.51 149.37 L575.65 148.02 L577.8 146.56 L579.94 144.96 L582.09 143.2 L584.23 141.18 L586.38 138.82 L588.52 136.2 L590.67 133.42 L592.81 130.59 L594.95 127.76 L597.1 124.85 L599.24 121.85 L601.39 118.76 L603.53 115.57 L605.68 112.29 L607.82 108.93 L607.82 188.02 L605.68 186.99 L603.53 186.01 L601.39 185.09 L599.24 184.23 L597.1 183.44 L594.95 182.72 L592.81 182.08 L590.67 181.49 L588.52 180.95 L586.38 180.46 L584.23 180 L582.09 179.58 L579.94 179.18 L577.8 178.81 L575.65 178.47 L573.51 178.15 L571.36 177.87 L569.22 177.63 L567.07 177.42 L564.93 177.22 L562.78 177.02 L560.64 176.8 L558.49 176.55 L556.35 176.27 L554.2 175.97 L552.06 175.66 L549.91 175.34 L547.77 175.02 L545.62 174.71 L543.48 174.4 L541.33 174.07 L539.19 173.7 L537.04 173.27 L534.9 172.77 L532.75 172.17 L530.61 171.51 L528.46 170.8 L526.32 170.05 L524.17 169.26 L522.03 168.41 L519.88 167.48 L517.74 166.49 L515.59 165.43 L513.45 164.27 L511.3 162.99 L509.16 161.6 L507.01 160.12 L504.87 158.58 L502.72 156.99 L500.58 155.27 L498.43 153.45 L496.29 151.58 L494.14 149.72 L492 147.92 L489.85 146.19 L487.71 144.47 L485.56 142.77 L483.42 141.09 L481.27 139.44Z" fill="#999" fill-opacity="0.45"/>
<g fill="#1b8bc9"><circle cx="499.84" cy="50.32" r="1.04"/><circle cx="487.27" cy="70.91" r="1.04"/><circle cx="489" cy="76.76" r="1.04"/><circle cx="483.59" cy="87.16" r="1.04"/><circle cx="484.67" cy="89.11" r="1.04"/><circle cx="485.1" cy="90.85" r="1.04"/><circle cx="491.82" cy="88.68" r="1.04"/><circle cx="481.42" cy="102.77" r="1.04"/><circle cx="484.67" cy="102.77" r="1.04"/><circle cx="492.25" cy="103.2" r="1.04"/><circle cx="488.35" cy="106.02" r="1.04"/><circle cx="484.67" cy="107.75" r="1.04"/><circle cx="486.19" cy="110.35" r="1.04"/><circle cx="487.27" cy="110.79" r="1.04"/><circle cx="486.84" cy="112.09" r="1.04"/><circle cx="497.67" cy="111" r="1.04"/><circle cx="493.99" cy="112.09" r="1.04"/><circle cx="485.32" cy="115.12" r="1.04"/><circle cx="502.01" cy="115.77" r="1.04"/><circle cx="506.99" cy="115.77" r="1.04"/><circle cx="512.84" cy="116.42" r="1.04"/><circle cx="500.92" cy="117.94" r="1.04"/><circle cx="505.69" cy="119.02" r="1.04"/><circle cx="509.59" cy="118.37" r="1.04"/><circle cx="510.68" cy="118.59" r="1.04"/><circle cx="488.57" cy="121.62" r="1.04"/><circle cx="491.6" cy="121.62" r="1.04"/><circle cx="492.91" cy="122.27" r="1.04"/><circle cx="493.34" cy="123.36" r="1.04"/><circle cx="497.67" cy="121.62" r="1.04"/><circle cx="502.44" cy="122.27" r="1.04"/><circle cx="508.51" cy="122.92" r="1.04"/><circle cx="504.18" cy="124.44" r="1.04"/><circle cx="498.11" cy="126.61" r="1.04"/><circle cx="493.77" cy="129.21" r="1.04"/><circle cx="498.76" cy="128.78" r="1.04"/><circle cx="500.27" cy="129.86" r="1.04"/><circle cx="503.09" cy="127.69" r="1.04"/><circle cx="506.99" cy="129.21" r="1.04"/><circle cx="508.08" cy="130.29" r="1.04"/><circle cx="509.59" cy="127.69" r="1.04"/><circle cx="511.33" cy="127.69" r="1.04"/><circle cx="515.01" cy="129.86" r="1.04"/><circle cx="518.7" cy="129.43" r="1.04"/><circle cx="528.02" cy="128.78" r="1.04"/><circle cx="533.43" cy="125.53" r="1.04"/><circle cx="497.67" cy="132.03" r="1.04"/><circle cx="502.01" cy="133.11" r="1.04"/><circle cx="503.52" cy="135.71" r="1.04"/><circle cx="505.69" cy="134.19" r="1.04"/><circle cx="506.99" cy="132.03" r="1.04"/><circle cx="509.59" cy="133.11" r="1.04"/><circle cx="518.7" cy="134.19" r="1.04"/><circle cx="530.18" cy="139.18" r="1.04"/><circle cx="483.59" cy="143.95" r="1.04"/><circle cx="489.44" cy="139.61" r="1.04"/><circle cx="498.76" cy="137.88" r="1.04"/><circle cx="500.27" cy="137.45" r="1.04"/><circle cx="503.09" cy="139.61" r="1.04"/><circle cx="505.26" cy="140.7" r="1.04"/><circle cx="506.34" cy="142.43" r="1.04"/><circle cx="510.68" cy="139.61" r="1.04"/><circle cx="511.33" cy="141.78" r="1.04"/><circle cx="517.83" cy="141.13" r="1.04"/><circle cx="491.17" cy="145.03" r="1.04"/><circle cx="492.25" cy="147.63" r="1.04"/><circle cx="494.42" cy="143.95" r="1.04"/><circle cx="495.51" cy="147.2" r="1.04"/><circle cx="501.57" cy="145.68" r="1.04"/><circle cx="508.51" cy="145.03" r="1.04"/><circle cx="510.68" cy="146.11" r="1.04"/><circle cx="512.19" cy="147.2" r="1.04"/><circle cx="512.84" cy="149.37" r="1.04"/><circle cx="516.53" cy="147.85" r="1.04"/><circle cx="489.44" cy="151.97" r="1.04"/><circle cx="492.91" cy="149.37" r="1.04"/><circle cx="498.32" cy="150.02" r="1.04"/><circle cx="499.41" cy="152.62" r="1.04"/><circle cx="500.49" cy="154.78" r="1.04"/><circle cx="509.16" cy="152.18" r="1.04"/><circle cx="510.03" cy="153.7" r="1.04"/><circle cx="517.18" cy="153.27" r="1.04"/><circle cx="519.35" cy="154.13" r="1.04"/><circle cx="485.32" cy="160.85" r="1.04"/><circle cx="486.84" cy="160.85" r="1.04"/><circle cx="489" cy="159.12" r="1.04"/><circle cx="490.09" cy="158.04" r="1.04"/><circle cx="491.17" cy="156.95" r="1.04"/><circle cx="491.82" cy="159.12" r="1.04"/><circle cx="497.67" cy="159.12" r="1.04"/><circle cx="508.08" cy="156.95" r="1.04"/><circle cx="526.93" cy="157.38" r="1.04"/><circle cx="501.36" cy="162.8" r="1.04"/><circle cx="503.09" cy="163.02" r="1.04"/><circle cx="508.51" cy="163.02" r="1.04"/><circle cx="520.43" cy="163.89" r="1.04"/><circle cx="523.25" cy="163.02" r="1.04"/><circle cx="503.09" cy="166.7" r="1.04"/><circle cx="487.27" cy="169.96" r="1.04"/><circle cx="488.35" cy="172.77" r="1.04"/><circle cx="507.43" cy="171.69" r="1.04"/><circle cx="526.93" cy="171.69" r="1.04"/><circle cx="490.09" cy="174.94" r="1.04"/><circle cx="494.42" cy="174.29" r="1.04"/><circle cx="495.51" cy="173.86" r="1.04"/><circle cx="503.09" cy="175.37" r="1.04"/><circle cx="520.43" cy="172.77" r="1.04"/><circle cx="525.85" cy="174.29" r="1.04"/><circle cx="529.75" cy="173.64" r="1.04"/><circle cx="487.27" cy="179.06" r="1.04"/><circle cx="492.91" cy="179.71" r="1.04"/><circle cx="495.51" cy="177.97" r="1.04"/><circle cx="498.11" cy="177.54" r="1.04"/><circle cx="507.43" cy="177.54" r="1.04"/><circle cx="508.51" cy="179.27" r="1.04"/><circle cx="508.08" cy="180.79" r="1.04"/><circle cx="521.51" cy="179.71" r="1.04"/><circle cx="500.49" cy="183.39" r="1.04"/><circle cx="522.6" cy="182.53" r="1.04"/><circle cx="518.7" cy="184.48" r="1.04"/><circle cx="525.41" cy="185.13" r="1.04"/><circle cx="531.27" cy="181.88" r="1.04"/><circle cx="537.77" cy="184.04" r="1.04"/><circle cx="515.66" cy="188.38" r="1.04"/><circle cx="533" cy="189.89" r="1.04"/><circle cx="502.44" cy="190.54" r="1.04"/><circle cx="504.83" cy="191.2" r="1.04"/><circle cx="508.08" cy="193.15" r="1.04"/><circle cx="485.75" cy="194.88" r="1.04"/><circle cx="487.27" cy="196.4" r="1.04"/><circle cx="491.6" cy="194.88" r="1.04"/><circle cx="495.51" cy="193.8" r="1.04"/><circle cx="500.49" cy="197.05" r="1.04"/><circle cx="506.99" cy="197.48" r="1.04"/><circle cx="514.58" cy="195.53" r="1.04"/><circle cx="505.26" cy="200.3" r="1.04"/><circle cx="492.25" cy="202.9" r="1.04"/><circle cx="508.08" cy="205.72" r="1.04"/><circle cx="520.43" cy="206.37" r="1.04"/><circle cx="497.24" cy="208.97" r="1.04"/><circle cx="514.58" cy="208.97" r="1.04"/><circle cx="496.16" cy="213.95" r="1.04"/><circle cx="514.36" cy="215.9" r="1.04"/><circle cx="539.5" cy="226.96" r="1.04"/><circle cx="492.91" cy="236.71" r="1.04"/><circle cx="570.6" cy="114.1" r="1.04"/><circle cx="547.8" cy="134.5" r="1.04"/><circle cx="556.1" cy="133.8" r="1.04"/><circle cx="579.7" cy="145.5" r="1.04"/><circle cx="585.4" cy="145.5" r="1.04"/><circle cx="564.5" cy="153.6" r="1.04"/><circle cx="608.2" cy="152.6" r="1.04"/><circle cx="587.2" cy="164.1" r="1.04"/><circle cx="564.1" cy="165.5" r="1.04"/><circle cx="553.4" cy="171.9" r="1.04"/><circle cx="570.6" cy="176.3" r="1.04"/><circle cx="565.5" cy="177.8" r="1.04"/><circle cx="546.6" cy="179.9" r="1.04"/><circle cx="552.7" cy="188.9" r="1.04"/><circle cx="580.2" cy="206.8" r="1.04"/></g>
<path d="M481.27 129.94 L483.42 132.72 L485.56 135.39 L487.71 137.94 L489.85 140.38 L492 142.7 L494.14 144.9 L496.29 146.97 L498.43 148.93 L500.58 150.76 L502.72 152.47 L504.87 154.05 L507.01 155.5 L509.16 156.83 L511.3 158.05 L513.45 159.16 L515.59 160.17 L517.74 161.09 L519.88 161.91 L522.03 162.65 L524.17 163.32 L526.32 163.92 L528.46 164.46 L530.61 164.94 L532.75 165.36 L534.9 165.74 L537.04 166.06 L539.19 166.34 L541.33 166.58 L543.48 166.76 L545.62 166.9 L547.77 166.99 L549.91 167.02 L552.06 167 L554.2 166.94 L556.35 166.83 L558.49 166.68 L560.64 166.49 L562.78 166.26 L564.93 165.99 L567.07 165.68 L569.22 165.33 L571.36 164.94 L573.51 164.51 L575.65 164.02 L577.8 163.47 L579.94 162.86 L582.09 162.18 L584.23 161.42 L586.38 160.58 L588.52 159.66 L590.67 158.66 L592.81 157.59 L594.95 156.44 L597.1 155.22 L599.24 153.92 L601.39 152.55 L603.53 151.11 L605.68 149.6 L607.82 148.02" stroke="#363636" stroke-width="1.45" fill="none" stroke-linecap="round"/>
<rect x="475.6" y="41" width="139.7" height="205.3" fill="none" stroke="#d4d4d4" stroke-width="0.9"/>
<rect x="475.6" y="20" width="139.7" height="21" fill="#7f7f7f"/>
<text x="519.3" y="35.6" font-family='"DejaVu Sans", sans-serif' font-weight="bold" font-size="12.2" textLength="45.6" lengthAdjust="spacingAndGlyphs" fill="#111">ASDR</text>
<text x="557.1" y="59.3" font-family='"DejaVu Sans", sans-serif' font-weight="bold" font-style="italic" font-size="8.1" fill="#111" textLength="47.3" lengthAdjust="spacingAndGlyphs">R=-0.2492</text>
<text x="557.1" y="70.9" font-family='"DejaVu Sans", sans-serif' font-weight="bold" font-style="italic" font-size="8.1" fill="#111" textLength="55.25" lengthAdjust="spacingAndGlyphs">P=0.000314</text>
<text x="477.1" y="254.6" text-anchor="middle" font-family='"Liberation Sans", sans-serif' font-size="5.5" fill="#5c5c5c">0.00</text>
<path d="M477.1 246.3v1.8" stroke="#d4d4d4" stroke-width="0.7"/>
<text x="515.2" y="254.6" text-anchor="middle" font-family='"Liberation Sans", sans-serif' font-size="5.5" fill="#5c5c5c">0.25</text>
<path d="M515.2 246.3v1.8" stroke="#d4d4d4" stroke-width="0.7"/>
<text x="553.1" y="254.6" text-anchor="middle" font-family='"Liberation Sans", sans-serif' font-size="5.5" fill="#5c5c5c">0.50</text>
<path d="M553.1 246.3v1.8" stroke="#d4d4d4" stroke-width="0.7"/>
<text x="591.6" y="254.6" text-anchor="middle" font-family='"Liberation Sans", sans-serif' font-size="5.5" fill="#5c5c5c">0.75</text>
<path d="M591.6 246.3v1.8" stroke="#d4d4d4" stroke-width="0.7"/>
</g>
<text x="327.2" y="12.8" font-family='"Liberation Serif", serif' font-size="17.4" fill="#222" textLength="10.8" lengthAdjust="spacingAndGlyphs">B</text>
<text transform="translate(318.6 144.5) rotate(-90)" text-anchor="middle" font-family='"Liberation Sans", sans-serif' font-size="6.4" fill="#333">EAPC</text>
<text x="462.4" y="271.7" font-family='"Liberation Sans", sans-serif' font-weight="bold" font-size="11.9" textLength="24.2" lengthAdjust="spacingAndGlyphs" fill="#111">ASR</text>
<text x="616.4" y="111.9" font-family='"DejaVu Sans", sans-serif' font-weight="bold" font-size="13.4" textLength="91" lengthAdjust="spacingAndGlyphs" fill="#111">cases in 1990</text>
<circle cx="621.1" cy="121.8" r="0.9" fill="#000"/>
<text x="627.2" y="124.6" font-family='"DejaVu Sans", sans-serif' font-weight="bold" font-size="6.9" textLength="17.5" lengthAdjust="spacingAndGlyphs" fill="#222">&lt;500</text>
<circle cx="621.1" cy="138.3" r="1.7" fill="#000"/>
<text x="627.2" y="140.1" font-family='"DejaVu Sans", sans-serif' font-weight="bold" font-size="6.9" textLength="40.5" lengthAdjust="spacingAndGlyphs" fill="#222">500-10,000</text>
<circle cx="621.1" cy="158.1" r="2.8" fill="#000"/>
<text x="627.2" y="160.9" font-family='"DejaVu Sans", sans-serif' font-weight="bold" font-size="6.9" textLength="52" lengthAdjust="spacingAndGlyphs" fill="#222">10,000-50,000</text>
<circle cx="621.1" cy="176.9" r="3.95" fill="#000"/>
<text x="627.2" y="181.1" font-family='"DejaVu Sans", sans-serif' font-weight="bold" font-size="6.9" textLength="29" lengthAdjust="spacingAndGlyphs" fill="#222">&gt;50,000</text>
<rect x="15.6" y="301.4" width="173.7" height="30" fill="url(#gf)"/>
<text x="66.4" y="325.5" font-family='"Liberation Serif", serif' font-weight="bold" font-style="italic" font-size="24" textLength="77.6" lengthAdjust="spacing" fill="#b3121c">Female</text>
<rect x="15.6" y="621.9" width="171" height="30.7" fill="url(#gm)"/>
<text x="78.9" y="646.8" font-family='"Liberation Serif", serif' font-weight="bold" font-style="italic" font-size="24" textLength="54.5" lengthAdjust="spacing" fill="#1a1a7e">Male</text>
<g>
<rect x="16.8" y="380.2" width="142.4" height="203.8" fill="#fff"/>
<path d="M55.1 380.2V584M97.7 380.2V584M140.5 380.2V584M16.8 396.2H159.2M16.8 448H159.2M16.8 500.1H159.2M16.8 552H159.2" stroke="#f2f2f2" stroke-width="0.7" fill="none"/>
<path d="M33.4 380.2V584M76.5 380.2V584M119.1 380.2V584M16.8 422.3H159.2M16.8 474H159.2M16.8 526H159.2M16.8 578.1H159.2" stroke="#eaeaea" stroke-width="0.8" fill="none"/>
<path d="M23.16 464.66 L25.34 465.45 L27.52 466.22 L29.7 466.95 L31.88 467.64 L34.06 468.28 L36.24 468.88 L38.42 469.5 L40.6 470.11 L42.77 470.7 L44.95 471.24 L47.13 471.71 L49.31 472.08 L51.49 472.34 L53.67 472.52 L55.85 472.69 L58.03 472.85 L60.21 473.01 L62.38 473.15 L64.56 473.29 L66.74 473.41 L68.92 473.52 L71.1 473.62 L73.28 473.71 L75.46 473.79 L77.64 473.85 L79.81 473.91 L81.99 473.94 L84.17 473.97 L86.35 473.98 L88.53 473.98 L90.71 473.98 L92.89 473.98 L95.07 473.98 L97.25 473.98 L99.42 473.98 L101.6 473.98 L103.78 473.98 L105.96 473.98 L108.14 473.98 L110.32 473.98 L112.5 473.98 L114.68 473.98 L116.85 473.98 L119.03 473.98 L121.21 473.98 L123.39 473.95 L125.57 473.87 L127.75 473.73 L129.93 473.56 L132.11 473.34 L134.29 473.09 L136.46 472.82 L138.64 472.54 L140.82 472.23 L143 471.82 L145.18 471.3 L147.36 470.69 L149.54 470.02 L151.72 469.32 L151.72 477.7 L149.54 477.51 L147.36 477.33 L145.18 477.18 L143 477.06 L140.82 477.01 L138.64 477.01 L136.46 477.03 L134.29 477.06 L132.11 477.09 L129.93 477.13 L127.75 477.17 L125.57 477.21 L123.39 477.23 L121.21 477.24 L119.03 477.24 L116.85 477.24 L114.68 477.24 L112.5 477.24 L110.32 477.24 L108.14 477.24 L105.96 477.24 L103.78 477.24 L101.6 477.24 L99.42 477.24 L97.25 477.24 L95.07 477.24 L92.89 477.24 L90.71 477.24 L88.53 477.24 L86.35 477.24 L84.17 477.21 L81.99 477.16 L79.81 477.08 L77.64 476.97 L75.46 476.85 L73.28 476.71 L71.1 476.56 L68.92 476.41 L66.74 476.26 L64.56 476.11 L62.38 475.98 L60.21 475.85 L58.03 475.75 L55.85 475.67 L53.67 475.62 L51.49 475.61 L49.31 475.66 L47.13 475.82 L44.95 476.05 L42.77 476.33 L40.6 476.65 L38.42 476.99 L36.24 477.33 L34.06 477.65 L31.88 478.02 L29.7 478.42 L27.52 478.85 L25.34 479.31 L23.16 479.8Z" fill="#999" fill-opacity="0.45"/>
<g fill="#1b8bc9"><circle cx="23.14" cy="471.14" r="1.2"/><circle cx="30.56" cy="465.51" r="1.31"/><circle cx="41.73" cy="462.44" r="1.31"/><circle cx="33.82" cy="471.84" r="0.98"/><circle cx="39.26" cy="472.63" r="0.82"/><circle cx="45.19" cy="471.64" r="1.63"/><circle cx="36.79" cy="477.08" r="1.2"/><circle cx="37.28" cy="479.55" r="1.09"/><circle cx="40.74" cy="479.55" r="1.09"/><circle cx="44.89" cy="477.87" r="0.98"/><circle cx="46.67" cy="475.59" r="1.63"/><circle cx="49.44" cy="477.08" r="0.82"/><circle cx="49.44" cy="484" r="1.31"/><circle cx="55.08" cy="469.66" r="1.2"/><circle cx="54.58" cy="471.84" r="1.36"/><circle cx="55.37" cy="477.08" r="1.52"/><circle cx="58.34" cy="468.67" r="1.31"/><circle cx="58.04" cy="470.65" r="1.36"/><circle cx="62" cy="472.13" r="1.2"/><circle cx="61.5" cy="479.05" r="2.45"/><circle cx="58.74" cy="475.59" r="0.98"/><circle cx="60.02" cy="489.63" r="1.31"/><circle cx="64.27" cy="468.18" r="1.2"/><circle cx="67.93" cy="467.39" r="2.28"/><circle cx="70.4" cy="463.73" r="1.31"/><circle cx="66.45" cy="475.3" r="1.2"/><circle cx="74.16" cy="470.16" r="1.41"/><circle cx="77.32" cy="471.64" r="1.2"/><circle cx="79.3" cy="469.66" r="0.98"/><circle cx="73.17" cy="476.78" r="1.52"/><circle cx="71.69" cy="481.33" r="1.31"/><circle cx="78.51" cy="482.32" r="0.98"/><circle cx="84.44" cy="466.5" r="3.92"/><circle cx="140.38" cy="447.42" r="1.41"/><circle cx="144.63" cy="449.59" r="0.98"/><circle cx="147.5" cy="454.34" r="1.31"/><circle cx="147.5" cy="458.29" r="1.31"/><circle cx="108.54" cy="455.33" r="1.31"/><circle cx="114.67" cy="457.3" r="0.98"/><circle cx="125.35" cy="456.12" r="0.98"/><circle cx="136.13" cy="457.8" r="1.41"/><circle cx="141.17" cy="459.97" r="0.98"/><circle cx="115.66" cy="461.26" r="0.98"/><circle cx="128.02" cy="460.76" r="1.09"/><circle cx="127.53" cy="462.94" r="1.2"/><circle cx="148.09" cy="466.2" r="1.31"/><circle cx="107.55" cy="465.21" r="1.31"/><circle cx="119.42" cy="465.71" r="1.41"/><circle cx="101.03" cy="466.89" r="0.82"/><circle cx="103.99" cy="466.89" r="0.82"/><circle cx="109.24" cy="467.68" r="1.36"/><circle cx="115.66" cy="466.89" r="0.98"/><circle cx="98.36" cy="469.37" r="1.9"/><circle cx="117.14" cy="469.66" r="1.2"/><circle cx="119.62" cy="469.86" r="1.2"/><circle cx="124.36" cy="470.16" r="1.31"/><circle cx="133.95" cy="468.38" r="0.98"/><circle cx="131.48" cy="470.16" r="0.82"/><circle cx="142.36" cy="469.86" r="1.31"/><circle cx="87.98" cy="470.65" r="1.2"/><circle cx="102.31" cy="471.14" r="0.98"/><circle cx="97.37" cy="472.63" r="1.52"/><circle cx="109.24" cy="472.13" r="1.09"/><circle cx="112.7" cy="471.14" r="0.82"/><circle cx="117.84" cy="472.13" r="1.52"/><circle cx="129.01" cy="473.32" r="1.2"/><circle cx="96.38" cy="477.57" r="1.63"/><circle cx="99.35" cy="477.77" r="0.98"/><circle cx="106.47" cy="474.11" r="0.98"/><circle cx="108.94" cy="477.08" r="1.31"/><circle cx="121.59" cy="476.09" r="1.2"/><circle cx="134.45" cy="474.61" r="1.2"/><circle cx="113.68" cy="480.04" r="1.74"/><circle cx="132.96" cy="478.07" r="1.09"/><circle cx="131.48" cy="479.55" r="0.82"/><circle cx="139.89" cy="478.07" r="1.31"/><circle cx="145.03" cy="479.55" r="1.2"/><circle cx="149.28" cy="479.55" r="1.09"/><circle cx="152.24" cy="479.85" r="1.2"/><circle cx="91.44" cy="484.3" r="1.2"/><circle cx="112.5" cy="483.7" r="1.2"/><circle cx="120.11" cy="482.52" r="0.98"/><circle cx="123.37" cy="482.32" r="0.82"/><circle cx="119.12" cy="484" r="0.98"/><circle cx="116.45" cy="485.48" r="0.82"/><circle cx="122.09" cy="485.98" r="0.82"/><circle cx="132.17" cy="482.81" r="0.98"/><circle cx="138.4" cy="484.99" r="1.31"/><circle cx="146.81" cy="482.32" r="0.82"/><circle cx="105.08" cy="485.98" r="1.2"/><circle cx="108.54" cy="489.14" r="2.83"/><circle cx="121.1" cy="490.13" r="1.2"/><circle cx="130.99" cy="490.13" r="0.82"/><circle cx="133.66" cy="491.41" r="0.82"/><circle cx="150.07" cy="488.45" r="1.2"/><circle cx="147.8" cy="492.9" r="1.31"/><circle cx="98.36" cy="491.61" r="0.98"/><circle cx="94.6" cy="494.18" r="1.31"/><circle cx="109.73" cy="495.86" r="2.18"/><circle cx="128.81" cy="497.05" r="0.98"/><circle cx="105.08" cy="500.31" r="1.31"/><circle cx="130.3" cy="501.3" r="1.31"/><circle cx="94.21" cy="502.78" r="1.41"/><circle cx="142.16" cy="509.41" r="1.63"/></g>
<path d="M23.16 471.65 L25.34 471.88 L27.52 472.1 L29.7 472.32 L31.88 472.52 L34.06 472.71 L36.24 472.89 L38.42 473.06 L40.6 473.23 L42.77 473.39 L44.95 473.54 L47.13 473.69 L49.31 473.83 L51.49 473.97 L53.67 474.11 L55.85 474.24 L58.03 474.36 L60.21 474.49 L62.38 474.61 L64.56 474.73 L66.74 474.84 L68.92 474.94 L71.1 475.05 L73.28 475.14 L75.46 475.23 L77.64 475.32 L79.81 475.4 L81.99 475.47 L84.17 475.54 L86.35 475.6 L88.53 475.66 L90.71 475.7 L92.89 475.74 L95.07 475.78 L97.25 475.81 L99.42 475.83 L101.6 475.84 L103.78 475.84 L105.96 475.84 L108.14 475.83 L110.32 475.82 L112.5 475.79 L114.68 475.76 L116.85 475.72 L119.03 475.67 L121.21 475.61 L123.39 475.55 L125.57 475.47 L127.75 475.39 L129.93 475.29 L132.11 475.19 L134.29 475.07 L136.46 474.93 L138.64 474.78 L140.82 474.62 L143 474.43 L145.18 474.23 L147.36 474.01 L149.54 473.77 L151.72 473.51" stroke="#363636" stroke-width="1.45" fill="none" stroke-linecap="round"/>
<rect x="16.8" y="380.2" width="142.4" height="203.8" fill="none" stroke="#d4d4d4" stroke-width="0.9"/>
<rect x="16.8" y="355.3" width="142.4" height="24.9" fill="#7f7f7f"/>
<text x="62.9" y="371" font-family='"Liberation Sans", sans-serif' font-weight="normal" font-size="15.5" textLength="37.7" lengthAdjust="spacingAndGlyphs" fill="#111" stroke="#111" stroke-width="0.85" stroke-linejoin="round">ASIR</text>
<text x="22.6" y="394.8" font-family='"DejaVu Sans", sans-serif' font-weight="bold" font-style="italic" font-size="8.1" fill="#111" textLength="47.3" lengthAdjust="spacingAndGlyphs">R=-0.0526</text>
<text x="22.6" y="406.4" font-family='"DejaVu Sans", sans-serif' font-weight="bold" font-style="italic" font-size="8.1" fill="#111" textLength="43.98" lengthAdjust="spacingAndGlyphs">P=0.5119</text>
<text x="33.4" y="592.9" text-anchor="middle" font-family='"Liberation Sans", sans-serif' font-size="5.5" fill="#5c5c5c">0.4</text>
<path d="M33.4 584v1.8" stroke="#d4d4d4" stroke-width="0.7"/>
<text x="76.5" y="592.9" text-anchor="middle" font-family='"Liberation Sans", sans-serif' font-size="5.5" fill="#5c5c5c">0.6</text>
<path d="M76.5 584v1.8" stroke="#d4d4d4" stroke-width="0.7"/>
<text x="119.1" y="592.9" text-anchor="middle" font-family='"Liberation Sans", sans-serif' font-size="5.5" fill="#5c5c5c">0.8</text>
<path d="M119.1 584v1.8" stroke="#d4d4d4" stroke-width="0.7"/>
<text x="13.8" y="424.2" text-anchor="end" font-family='"Liberation Sans", sans-serif' font-size="5.5" fill="#5c5c5c">3</text>
<path d="M16.8 422.3h-1.8" stroke="#d4d4d4" stroke-width="0.7"/>
<text x="13.8" y="475.9" text-anchor="end" font-family='"Liberation Sans", sans-serif' font-size="5.5" fill="#5c5c5c">0</text>
<path d="M16.8 474h-1.8" stroke="#d4d4d4" stroke-width="0.7"/>
<text x="13.8" y="527.9" text-anchor="end" font-family='"Liberation Sans", sans-serif' font-size="5.5" fill="#5c5c5c">-3</text>
<path d="M16.8 526h-1.8" stroke="#d4d4d4" stroke-width="0.7"/>
<text x="13.8" y="580" text-anchor="end" font-family='"Liberation Sans", sans-serif' font-size="5.5" fill="#5c5c5c">-6</text>
<path d="M16.8 578.1h-1.8" stroke="#d4d4d4" stroke-width="0.7"/>
</g>
<g>
<rect x="160.9" y="380.2" width="142.6" height="203.8" fill="#fff"/>
<path d="M199.6 380.2V584M242.5 380.2V584M285.5 380.2V584M160.9 396.2H303.5M160.9 448H303.5M160.9 500.1H303.5M160.9 552H303.5" stroke="#f2f2f2" stroke-width="0.7" fill="none"/>
<path d="M177.9 380.2V584M221 380.2V584M264.1 380.2V584M160.9 422.3H303.5M160.9 474H303.5M160.9 526H303.5M160.9 578.1H303.5" stroke="#eaeaea" stroke-width="0.8" fill="none"/>
<path d="M168.16 478.63 L170.34 479.02 L172.51 479.33 L174.68 479.55 L176.85 479.71 L179.02 479.79 L181.19 479.79 L183.36 479.68 L185.53 479.47 L187.7 479.21 L189.87 478.91 L192.05 478.62 L194.22 478.26 L196.39 477.82 L198.56 477.33 L200.73 476.85 L202.9 476.42 L205.07 476.04 L207.24 475.64 L209.41 475.24 L211.58 474.92 L213.75 474.72 L215.93 474.68 L218.1 474.71 L220.27 474.77 L222.44 474.87 L224.61 474.99 L226.78 475.13 L228.95 475.42 L231.12 475.95 L233.29 476.66 L235.46 477.47 L237.64 478.31 L239.81 479.16 L241.98 480.14 L244.15 481.23 L246.32 482.39 L248.49 483.57 L250.66 484.73 L252.83 485.89 L255 487.06 L257.17 488.27 L259.34 489.51 L261.52 490.81 L263.69 492.16 L265.86 493.54 L268.03 494.98 L270.2 496.48 L272.37 498.08 L274.54 499.79 L276.71 501.66 L278.88 503.66 L281.05 505.73 L283.22 507.84 L285.4 509.91 L287.57 511.99 L289.74 514.09 L291.91 516.22 L294.08 518.38 L296.25 520.55 L296.25 545 L294.08 540.37 L291.91 535.97 L289.74 531.84 L287.57 528.02 L285.4 524.53 L283.22 521.36 L281.05 518.39 L278.88 515.63 L276.71 513.08 L274.54 510.73 L272.37 508.58 L270.2 506.61 L268.03 504.78 L265.86 503.07 L263.69 501.44 L261.52 499.87 L259.34 498.32 L257.17 496.81 L255 495.38 L252.83 494.06 L250.66 492.87 L248.49 491.79 L246.32 490.72 L244.15 489.72 L241.98 488.86 L239.81 488.21 L237.64 487.81 L235.46 487.49 L233.29 487.2 L231.12 486.98 L228.95 486.83 L226.78 486.78 L224.61 486.85 L222.44 487.02 L220.27 487.26 L218.1 487.55 L215.93 487.85 L213.75 488.15 L211.58 488.48 L209.41 488.86 L207.24 489.32 L205.07 489.85 L202.9 490.49 L200.73 491.43 L198.56 492.64 L196.39 494.06 L194.22 495.6 L192.05 497.17 L189.87 498.81 L187.7 500.61 L185.53 502.55 L183.36 504.61 L181.19 506.79 L179.02 509.09 L176.85 511.54 L174.68 514.16 L172.51 516.93 L170.34 519.84 L168.16 522.88Z" fill="#999" fill-opacity="0.45"/>
<g fill="#1b8bc9"><circle cx="252.9" cy="388.68" r="1.04"/><circle cx="224.03" cy="420.81" r="1.04"/><circle cx="230.98" cy="431.23" r="1.04"/><circle cx="259.2" cy="431.66" r="1.04"/><circle cx="242.92" cy="435.78" r="1.04"/><circle cx="251.82" cy="445.55" r="1.04"/><circle cx="245.96" cy="448.37" r="1.04"/><circle cx="252.69" cy="450.54" r="1.04"/><circle cx="206.23" cy="453.8" r="1.04"/><circle cx="252.69" cy="453.8" r="1.04"/><circle cx="259.85" cy="454.23" r="1.04"/><circle cx="262.67" cy="457.06" r="1.04"/><circle cx="208.4" cy="460.75" r="1.04"/><circle cx="244.22" cy="460.31" r="1.04"/><circle cx="245.74" cy="461.4" r="1.04"/><circle cx="264.19" cy="460.31" r="1.04"/><circle cx="203.41" cy="465.09" r="1.04"/><circle cx="220.78" cy="465.09" r="1.04"/><circle cx="232.06" cy="465.09" r="1.04"/><circle cx="219.04" cy="466.82" r="1.04"/><circle cx="242.05" cy="467.26" r="1.04"/><circle cx="268.53" cy="466.39" r="1.04"/><circle cx="272.87" cy="466.17" r="1.04"/><circle cx="263.54" cy="469" r="1.04"/><circle cx="202.76" cy="469.43" r="1.04"/><circle cx="211.01" cy="469" r="1.04"/><circle cx="218.61" cy="469.43" r="1.04"/><circle cx="230.54" cy="470.73" r="1.04"/><circle cx="242.05" cy="471.17" r="1.04"/><circle cx="257.68" cy="471.6" r="1.04"/><circle cx="258.76" cy="471.6" r="1.04"/><circle cx="206.02" cy="472.9" r="1.04"/><circle cx="235.97" cy="473.77" r="1.04"/><circle cx="250.08" cy="473.34" r="1.04"/><circle cx="185.61" cy="475.51" r="1.04"/><circle cx="198.64" cy="475.51" r="1.04"/><circle cx="243.57" cy="476.16" r="1.04"/><circle cx="258.76" cy="477.03" r="1.04"/><circle cx="261.58" cy="477.03" r="1.04"/><circle cx="263.76" cy="475.51" r="1.04"/><circle cx="270.27" cy="478.11" r="1.04"/><circle cx="194.08" cy="479.41" r="1.04"/><circle cx="199.72" cy="479.41" r="1.04"/><circle cx="208.84" cy="480.28" r="1.04"/><circle cx="230.54" cy="480.28" r="1.04"/><circle cx="248.56" cy="480.93" r="1.04"/><circle cx="265.27" cy="481.37" r="1.04"/><circle cx="175.19" cy="482.02" r="1.04"/><circle cx="183.44" cy="482.45" r="1.04"/><circle cx="178.45" cy="485.27" r="1.04"/><circle cx="184.96" cy="486.79" r="1.04"/><circle cx="203.41" cy="484.19" r="1.04"/><circle cx="212.09" cy="483.76" r="1.04"/><circle cx="257.24" cy="484.19" r="1.04"/><circle cx="275.04" cy="484.62" r="1.04"/><circle cx="286.55" cy="487.45" r="1.04"/><circle cx="280.47" cy="487.88" r="1.04"/><circle cx="181.71" cy="490.7" r="1.04"/><circle cx="189.95" cy="490.27" r="1.04"/><circle cx="188.87" cy="492.87" r="1.04"/><circle cx="199.72" cy="492.87" r="1.04"/><circle cx="204.5" cy="491.79" r="1.04"/><circle cx="217.52" cy="492.22" r="1.04"/><circle cx="217.96" cy="488.96" r="1.04"/><circle cx="229.46" cy="489.62" r="1.04"/><circle cx="232.72" cy="487.45" r="1.04"/><circle cx="242.48" cy="490.05" r="1.04"/><circle cx="246.82" cy="490.7" r="1.04"/><circle cx="253.77" cy="486.36" r="1.04"/><circle cx="263.76" cy="490.7" r="1.04"/><circle cx="264.84" cy="491.79" r="1.04"/><circle cx="266.36" cy="494.39" r="1.04"/><circle cx="290.24" cy="489.62" r="1.04"/><circle cx="284.81" cy="494.61" r="1.04"/><circle cx="181.71" cy="495.04" r="1.04"/><circle cx="217.52" cy="495.04" r="1.04"/><circle cx="222.95" cy="496.56" r="1.04"/><circle cx="214.7" cy="497.21" r="1.04"/><circle cx="254.42" cy="495.04" r="1.04"/><circle cx="256.16" cy="497.21" r="1.04"/><circle cx="257.03" cy="498.3" r="1.04"/><circle cx="271.35" cy="498.95" r="1.04"/><circle cx="273.31" cy="499.82" r="1.04"/><circle cx="278.3" cy="497.65" r="1.04"/><circle cx="194.08" cy="500.03" r="1.04"/><circle cx="191.04" cy="503.29" r="1.04"/><circle cx="225.77" cy="501.99" r="1.04"/><circle cx="216" cy="503.72" r="1.04"/><circle cx="216.87" cy="505.46" r="1.04"/><circle cx="222.3" cy="504.81" r="1.04"/><circle cx="222.95" cy="506.55" r="1.04"/><circle cx="235.32" cy="504.16" r="1.04"/><circle cx="240.75" cy="503.29" r="1.04"/><circle cx="199.51" cy="506.33" r="1.04"/><circle cx="199.07" cy="510.24" r="1.04"/><circle cx="252.9" cy="508.72" r="1.04"/><circle cx="260.28" cy="505.46" r="1.04"/><circle cx="261.37" cy="508.07" r="1.04"/><circle cx="265.71" cy="510.89" r="1.04"/><circle cx="267.88" cy="510.89" r="1.04"/><circle cx="296.75" cy="503.72" r="1.04"/><circle cx="292.84" cy="507.63" r="1.04"/><circle cx="291.76" cy="508.07" r="1.04"/><circle cx="289.8" cy="509.59" r="1.04"/><circle cx="288.07" cy="512.41" r="1.04"/><circle cx="245.74" cy="513.49" r="1.04"/><circle cx="253.34" cy="517.18" r="1.04"/><circle cx="258.33" cy="516.31" r="1.04"/><circle cx="285.9" cy="515.01" r="1.04"/><circle cx="184.96" cy="524.35" r="1.04"/><circle cx="253.99" cy="522.17" r="1.04"/><circle cx="292.84" cy="520.66" r="1.04"/><circle cx="292.41" cy="523.26" r="1.04"/><circle cx="273.52" cy="523.26" r="1.04"/><circle cx="277.21" cy="524.35" r="1.04"/><circle cx="280.47" cy="524.78" r="1.04"/><circle cx="284.81" cy="523.26" r="1.04"/><circle cx="243.13" cy="527.6" r="1.04"/><circle cx="275.69" cy="528.04" r="1.04"/><circle cx="278.3" cy="529.34" r="1.04"/><circle cx="276.13" cy="531.29" r="1.04"/><circle cx="289.15" cy="526.08" r="1.04"/><circle cx="249.65" cy="533.03" r="1.04"/><circle cx="276.78" cy="534.76" r="1.04"/><circle cx="240.96" cy="536.72" r="1.04"/><circle cx="282.64" cy="536.94" r="1.04"/><circle cx="286.55" cy="538.02" r="1.04"/><circle cx="291.76" cy="539.97" r="1.04"/><circle cx="238.79" cy="542.36" r="1.04"/><circle cx="249.43" cy="543.88" r="1.04"/><circle cx="260.5" cy="540.63" r="1.04"/><circle cx="261.37" cy="542.8" r="1.04"/><circle cx="273.52" cy="543.45" r="1.04"/><circle cx="294.58" cy="547.57" r="1.04"/><circle cx="265.27" cy="548.66" r="1.04"/><circle cx="277.86" cy="548.66" r="1.04"/><circle cx="266.79" cy="555.17" r="1.04"/><circle cx="274.61" cy="557.99" r="1.04"/><circle cx="291.32" cy="561.25" r="1.04"/><circle cx="275.48" cy="565.59" r="1.04"/><circle cx="290.89" cy="569.49" r="1.04"/><circle cx="252.9" cy="575.35" r="1.04"/></g>
<path d="M168.16 500.76 L170.34 499.47 L172.51 498.2 L174.68 496.93 L176.85 495.69 L179.02 494.46 L181.19 493.27 L183.36 492.11 L185.53 490.99 L187.7 489.91 L189.87 488.87 L192.05 487.89 L194.22 486.97 L196.39 486.11 L198.56 485.32 L200.73 484.59 L202.9 483.94 L205.07 483.37 L207.24 482.87 L209.41 482.45 L211.58 482.1 L213.75 481.81 L215.93 481.6 L218.1 481.44 L220.27 481.35 L222.44 481.31 L224.61 481.34 L226.78 481.42 L228.95 481.57 L231.12 481.79 L233.29 482.09 L235.46 482.51 L237.64 483.04 L239.81 483.71 L241.98 484.52 L244.15 485.44 L246.32 486.46 L248.49 487.55 L250.66 488.69 L252.83 489.88 L255 491.12 L257.17 492.42 L259.34 493.78 L261.52 495.22 L263.69 496.73 L265.86 498.31 L268.03 499.96 L270.2 501.65 L272.37 503.39 L274.54 505.16 L276.71 506.99 L278.88 508.92 L281.05 511 L283.22 513.29 L285.4 515.82 L287.57 518.67 L289.74 521.86 L291.91 525.46 L294.08 529.51 L296.25 534.06" stroke="#363636" stroke-width="1.45" fill="none" stroke-linecap="round"/>
<rect x="160.9" y="380.2" width="142.6" height="203.8" fill="none" stroke="#d4d4d4" stroke-width="0.9"/>
<rect x="160.9" y="355.3" width="142.6" height="24.9" fill="#7f7f7f"/>
<text x="206.1" y="371" font-family='"Liberation Sans", sans-serif' font-weight="normal" font-size="15.5" textLength="44.7" lengthAdjust="spacingAndGlyphs" fill="#111" stroke="#111" stroke-width="0.85" stroke-linejoin="round">ASDR</text>
<text x="166.9" y="394.8" font-family='"DejaVu Sans", sans-serif' font-weight="bold" font-style="italic" font-size="8.1" fill="#111" textLength="47.3" lengthAdjust="spacingAndGlyphs">R=-0.5180</text>
<text x="166.9" y="406.4" font-family='"DejaVu Sans", sans-serif' font-weight="bold" font-style="italic" font-size="8.1" fill="#111" textLength="47.24" lengthAdjust="spacingAndGlyphs">P=7.66e<tspan dy="-3.1" font-size="5">-06</tspan></text>
<text x="177.9" y="592.9" text-anchor="middle" font-family='"Liberation Sans", sans-serif' font-size="5.5" fill="#5c5c5c">0.4</text>
<path d="M177.9 584v1.8" stroke="#d4d4d4" stroke-width="0.7"/>
<text x="221" y="592.9" text-anchor="middle" font-family='"Liberation Sans", sans-serif' font-size="5.5" fill="#5c5c5c">0.6</text>
<path d="M221 584v1.8" stroke="#d4d4d4" stroke-width="0.7"/>
<text x="264.1" y="592.9" text-anchor="middle" font-family='"Liberation Sans", sans-serif' font-size="5.5" fill="#5c5c5c">0.8</text>
<path d="M264.1 584v1.8" stroke="#d4d4d4" stroke-width="0.7"/>
</g>
<text x="16.8" y="348.5" font-family='"Liberation Serif", serif' font-size="17.4" fill="#222" textLength="13.8" lengthAdjust="spacingAndGlyphs">C</text>
<text transform="translate(6.9 477) rotate(-90)" text-anchor="middle" font-family='"Liberation Sans", sans-serif' font-size="6.4" fill="#333">EAPC</text>
<text x="146.7" y="608" font-family='"Liberation Sans", sans-serif' font-weight="bold" font-size="11.9" textLength="22.4" lengthAdjust="spacingAndGlyphs" fill="#111">HDI</text>
<g>
<rect x="328.4" y="381.6" width="142.2" height="202.4" fill="#fff"/>
<path d="M333.2 381.6V584M377.2 381.6V584M421.3 381.6V584M465.2 381.6V584M328.4 396.2H470.6M328.4 448H470.6M328.4 500.1H470.6M328.4 552H470.6" stroke="#f2f2f2" stroke-width="0.7" fill="none"/>
<path d="M355.1 381.6V584M399.2 381.6V584M443.1 381.6V584M328.4 422.3H470.6M328.4 474H470.6M328.4 526H470.6M328.4 578.1H470.6" stroke="#eaeaea" stroke-width="0.8" fill="none"/>
<path d="M334.8 463.03 L336.97 463.8 L339.14 464.56 L341.32 465.3 L343.49 465.99 L345.67 466.64 L347.84 467.21 L350.02 467.71 L352.19 468.14 L354.37 468.55 L356.54 468.94 L358.72 469.31 L360.89 469.65 L363.07 469.98 L365.24 470.29 L367.42 470.59 L369.59 470.88 L371.77 471.16 L373.94 471.43 L376.12 471.71 L378.29 471.98 L380.47 472.25 L382.64 472.52 L384.82 472.8 L386.99 473.09 L389.17 473.37 L391.34 473.66 L393.52 473.94 L395.69 474.21 L397.87 474.48 L400.04 474.74 L402.22 474.98 L404.39 475.22 L406.57 475.45 L408.74 475.66 L410.92 475.88 L413.09 476.12 L415.27 476.35 L417.44 476.58 L419.62 476.8 L421.79 477 L423.97 477.17 L426.14 477.31 L428.32 477.41 L430.49 477.46 L432.67 477.46 L434.84 477.42 L437.01 477.34 L439.19 477.23 L441.36 477.1 L443.54 476.96 L445.71 476.82 L447.89 476.67 L450.06 476.54 L452.24 476.4 L454.41 476.26 L456.59 476.11 L458.76 475.94 L460.94 475.78 L463.11 475.61 L463.11 494.24 L460.94 493.4 L458.76 492.57 L456.59 491.78 L454.41 491.01 L452.24 490.28 L450.06 489.58 L447.89 488.9 L445.71 488.24 L443.54 487.59 L441.36 486.97 L439.19 486.37 L437.01 485.79 L434.84 485.24 L432.67 484.73 L430.49 484.25 L428.32 483.8 L426.14 483.37 L423.97 482.96 L421.79 482.56 L419.62 482.18 L417.44 481.81 L415.27 481.45 L413.09 481.09 L410.92 480.73 L408.74 480.36 L406.57 479.99 L404.39 479.62 L402.22 479.24 L400.04 478.87 L397.87 478.5 L395.69 478.14 L393.52 477.78 L391.34 477.44 L389.17 477.12 L386.99 476.81 L384.82 476.53 L382.64 476.25 L380.47 475.96 L378.29 475.67 L376.12 475.38 L373.94 475.08 L371.77 474.79 L369.59 474.51 L367.42 474.25 L365.24 474 L363.07 473.77 L360.89 473.56 L358.72 473.39 L356.54 473.25 L354.37 473.14 L352.19 473.07 L350.02 473.04 L347.84 473.06 L345.67 473.13 L343.49 473.23 L341.32 473.37 L339.14 473.54 L336.97 473.75 L334.8 473.98Z" fill="#999" fill-opacity="0.45"/>
<g fill="#1b8bc9"><circle cx="373.68" cy="467.2" r="0.88"/><circle cx="414.83" cy="494.99" r="1.04"/><circle cx="385.98" cy="467.27" r="0.88"/><circle cx="396.51" cy="487.15" r="1.43"/><circle cx="375.05" cy="469.73" r="1.04"/><circle cx="376.36" cy="474.48" r="1.04"/><circle cx="385.23" cy="470.48" r="1.21"/><circle cx="391.88" cy="481.85" r="1.04"/><circle cx="388.38" cy="472.47" r="1.04"/><circle cx="414.92" cy="490.94" r="1.04"/><circle cx="390.46" cy="478.5" r="1.21"/><circle cx="410.75" cy="492.84" r="0.88"/><circle cx="379.37" cy="472.41" r="1.04"/><circle cx="388.41" cy="478.23" r="0.88"/><circle cx="360.35" cy="475.76" r="1.04"/><circle cx="394.69" cy="477.88" r="1.04"/><circle cx="370.59" cy="470.13" r="1.04"/><circle cx="356.73" cy="471.66" r="1.43"/><circle cx="355.87" cy="470.62" r="1.21"/><circle cx="358.8" cy="478.28" r="1.21"/><circle cx="349.28" cy="470.39" r="0.88"/><circle cx="417.01" cy="483.67" r="0.72"/><circle cx="355.26" cy="474.91" r="0.88"/><circle cx="375.28" cy="468.17" r="1.21"/><circle cx="392.33" cy="471.59" r="0.88"/><circle cx="362.62" cy="486.51" r="0.72"/><circle cx="392.3" cy="471.37" r="0.72"/><circle cx="380.83" cy="472.87" r="0.72"/><circle cx="398.81" cy="471.29" r="1.21"/><circle cx="417.13" cy="478.83" r="0.88"/><circle cx="363.94" cy="475.76" r="1.43"/><circle cx="366.06" cy="459.34" r="1.04"/><circle cx="404.34" cy="476.67" r="0.72"/><circle cx="399.44" cy="481.92" r="1.43"/><circle cx="352" cy="469.8" r="0.88"/><circle cx="396.02" cy="473.42" r="0.72"/><circle cx="381.9" cy="471.58" r="1.04"/><circle cx="398.95" cy="476.32" r="1.04"/><circle cx="396.12" cy="480.14" r="1.04"/><circle cx="362.8" cy="473.79" r="0.72"/><circle cx="375.84" cy="473.19" r="1.04"/><circle cx="372.95" cy="475.11" r="0.72"/><circle cx="383.6" cy="473.07" r="1.04"/><circle cx="364.58" cy="470.3" r="0.72"/><circle cx="395.48" cy="474.51" r="1.21"/><circle cx="369.49" cy="463.14" r="0.88"/><circle cx="398.57" cy="473.72" r="1.04"/><circle cx="384.87" cy="472.82" r="0.72"/><circle cx="349.74" cy="469.53" r="1.21"/><circle cx="371.52" cy="469.26" r="1.21"/><circle cx="405.56" cy="473.98" r="0.72"/><circle cx="395.95" cy="487.89" r="1.04"/><circle cx="379.01" cy="475.76" r="0.88"/><circle cx="385.57" cy="479.04" r="0.88"/><circle cx="388.16" cy="482.68" r="0.72"/><circle cx="402.32" cy="493.81" r="0.88"/><circle cx="390.7" cy="478.26" r="0.88"/><circle cx="401.3" cy="473.21" r="1.04"/><circle cx="402.13" cy="469.93" r="1.04"/><circle cx="386.48" cy="470.43" r="1.43"/><circle cx="353.77" cy="475.09" r="1.21"/><circle cx="400.51" cy="485.06" r="0.72"/><circle cx="390.22" cy="484.93" r="1.21"/><circle cx="408.09" cy="476.77" r="1.04"/><circle cx="359.83" cy="470.48" r="0.88"/><circle cx="389.67" cy="479.5" r="1.04"/><circle cx="387.64" cy="470.27" r="1.04"/><circle cx="377.59" cy="476.4" r="1.43"/><circle cx="348.96" cy="467.49" r="0.72"/><circle cx="392.81" cy="470.37" r="0.88"/><circle cx="386.69" cy="467.46" r="0.88"/><circle cx="355.92" cy="457.21" r="1.04"/><circle cx="400.78" cy="472.82" r="0.88"/><circle cx="380.88" cy="470.13" r="0.88"/><circle cx="337.57" cy="474.64" r="1.21"/><circle cx="374.12" cy="471.44" r="0.72"/><circle cx="407.83" cy="484.24" r="0.88"/><circle cx="349.61" cy="473.3" r="1.43"/><circle cx="385.2" cy="476.81" r="1.04"/><circle cx="377.47" cy="481.61" r="1.04"/><circle cx="357.95" cy="470.61" r="0.88"/><circle cx="389.83" cy="481.07" r="0.88"/><circle cx="406.89" cy="472.45" r="0.88"/><circle cx="375.64" cy="472.55" r="0.88"/><circle cx="352.66" cy="469.52" r="0.88"/><circle cx="371.71" cy="466.47" r="1.04"/><circle cx="381.58" cy="482.07" r="0.88"/><circle cx="377.94" cy="473.18" r="0.88"/><circle cx="393.77" cy="481.66" r="0.88"/><circle cx="374.39" cy="476.31" r="1.04"/><circle cx="358.05" cy="470.07" r="0.72"/><circle cx="381.07" cy="468.82" r="0.72"/><circle cx="389.91" cy="471.21" r="0.88"/><circle cx="390.97" cy="487.64" r="0.72"/><circle cx="383.84" cy="478.93" r="1.04"/><circle cx="355.69" cy="477" r="1.04"/><circle cx="374.45" cy="472.01" r="1.04"/><circle cx="395.81" cy="479.56" r="1.71"/><circle cx="386.4" cy="485.21" r="1.43"/><circle cx="381.72" cy="478.93" r="0.88"/><circle cx="390.63" cy="476.32" r="0.72"/><circle cx="374.57" cy="471.8" r="1.04"/><circle cx="394.23" cy="489.23" r="0.72"/><circle cx="395.96" cy="467.71" r="0.72"/><circle cx="391.73" cy="473.13" r="0.72"/><circle cx="379.9" cy="472.29" r="1.04"/><circle cx="410" cy="478.52" r="0.88"/><circle cx="383.29" cy="472.6" r="1.04"/><circle cx="384.35" cy="473.87" r="1.04"/><circle cx="356.46" cy="467.51" r="1.04"/><circle cx="352.12" cy="458.4" r="1.21"/><circle cx="368.65" cy="479.82" r="0.72"/><circle cx="350.33" cy="467.97" r="0.88"/><circle cx="403.23" cy="477.76" r="1.04"/><circle cx="363.38" cy="473.43" r="0.88"/><circle cx="376.52" cy="471.74" r="0.72"/><circle cx="402.19" cy="472.5" r="1.43"/><circle cx="361.28" cy="467.8" r="0.88"/><circle cx="375.75" cy="468.2" r="1.43"/><circle cx="395.6" cy="492.98" r="0.72"/><circle cx="349.32" cy="470.23" r="0.72"/><circle cx="344.2" cy="464.95" r="1.04"/><circle cx="406.83" cy="480.49" r="0.72"/><circle cx="408.01" cy="483.12" r="1.04"/><circle cx="389.59" cy="476.15" r="1.43"/><circle cx="399.75" cy="479.65" r="0.88"/><circle cx="367.76" cy="484.27" r="0.72"/><circle cx="347.05" cy="475.22" r="0.88"/><circle cx="388.11" cy="473.43" r="0.88"/><circle cx="379.4" cy="471.36" r="0.88"/><circle cx="401.77" cy="495.64" r="0.72"/><circle cx="370.2" cy="457.71" r="1.04"/><circle cx="356.62" cy="468.82" r="0.72"/><circle cx="356.77" cy="483.63" r="1.04"/><circle cx="392.6" cy="482.97" r="1.04"/><circle cx="357.06" cy="476.46" r="1.43"/><circle cx="349.85" cy="473.8" r="1.21"/><circle cx="404.13" cy="476.98" r="0.72"/><circle cx="371.61" cy="463.05" r="1.21"/><circle cx="384.39" cy="471.45" r="1.04"/><circle cx="373.64" cy="470.51" r="0.88"/><circle cx="376.29" cy="474.51" r="1.21"/><circle cx="343.4" cy="464.29" r="1.21"/><circle cx="366.15" cy="472.05" r="1.21"/><circle cx="400.54" cy="461.37" r="1.43"/><circle cx="409.61" cy="477.95" r="1.04"/><circle cx="379.36" cy="473.91" r="1.21"/><circle cx="382.77" cy="487.94" r="0.88"/><circle cx="374.84" cy="470.22" r="0.72"/><circle cx="383.01" cy="476.01" r="1.04"/><circle cx="396.26" cy="478.05" r="1.21"/><circle cx="387.53" cy="472.16" r="1.04"/><circle cx="352.14" cy="466.53" r="0.72"/><circle cx="370.08" cy="471.63" r="1.04"/><circle cx="385.21" cy="479.13" r="1.04"/><circle cx="370.72" cy="464.29" r="0.88"/><circle cx="376.26" cy="469.92" r="1.43"/><circle cx="347.78" cy="465.97" r="0.72"/><circle cx="391.84" cy="476.3" r="0.72"/><circle cx="412.5" cy="493.13" r="1.04"/><circle cx="386.12" cy="483.55" r="0.88"/><circle cx="406.01" cy="473.84" r="1.71"/><circle cx="405.63" cy="478.08" r="0.88"/><circle cx="367.44" cy="485.8" r="1.21"/><circle cx="398.68" cy="481.9" r="1.21"/><circle cx="405.64" cy="480.65" r="0.72"/><circle cx="357.23" cy="470.04" r="0.72"/><circle cx="390.82" cy="475.91" r="1.21"/><circle cx="387.26" cy="475.5" r="0.72"/><circle cx="370.44" cy="481.24" r="0.88"/><circle cx="389.72" cy="473.95" r="0.88"/><circle cx="340.32" cy="470" r="0.72"/><circle cx="389.62" cy="469.82" r="1.04"/><circle cx="382.06" cy="496.34" r="1.21"/><circle cx="343.78" cy="468.28" r="1.21"/><circle cx="365" cy="470.44" r="0.88"/><circle cx="379.61" cy="470.71" r="1.04"/><circle cx="400.87" cy="478.8" r="0.72"/><circle cx="401.38" cy="486.49" r="0.88"/><circle cx="407.28" cy="473.26" r="0.88"/><circle cx="373.95" cy="473.33" r="0.88"/><circle cx="356.19" cy="476.09" r="0.88"/><circle cx="385.58" cy="476.65" r="0.88"/><circle cx="363.2" cy="472.37" r="0.88"/><circle cx="382.15" cy="474.86" r="0.88"/><circle cx="388.4" cy="474" r="2.64"/><circle cx="411.6" cy="467" r="2.2"/><circle cx="362.7" cy="489.6" r="2.09"/><circle cx="386" cy="477" r="1.87"/><circle cx="391" cy="472" r="1.76"/><circle cx="463.3" cy="509.3" r="1.32"/><circle cx="462" cy="471" r="1.21"/><circle cx="427.3" cy="505.5" r="1.1"/><circle cx="429" cy="490" r="0.99"/><circle cx="428.5" cy="495" r="0.99"/><circle cx="428.5" cy="480" r="0.99"/><circle cx="443" cy="470" r="0.88"/><circle cx="441" cy="477" r="0.88"/><circle cx="421.5" cy="454.3" r="0.99"/><circle cx="363.5" cy="447.5" r="1.21"/><circle cx="366" cy="500.5" r="1.21"/><circle cx="357" cy="449.5" r="0.99"/><circle cx="339" cy="485" r="0.88"/><circle cx="342.5" cy="454.5" r="0.88"/></g>
<path d="M334.8 468.62 L336.97 468.9 L339.14 469.18 L341.32 469.45 L343.49 469.71 L345.67 469.98 L347.84 470.24 L350.02 470.49 L352.19 470.75 L354.37 471 L356.54 471.25 L358.72 471.5 L360.89 471.75 L363.07 472.01 L365.24 472.26 L367.42 472.51 L369.59 472.77 L371.77 473.03 L373.94 473.29 L376.12 473.56 L378.29 473.83 L380.47 474.1 L382.64 474.38 L384.82 474.67 L386.99 474.96 L389.17 475.26 L391.34 475.56 L393.52 475.87 L395.69 476.17 L397.87 476.48 L400.04 476.79 L402.22 477.1 L404.39 477.41 L406.57 477.71 L408.74 478.02 L410.92 478.31 L413.09 478.6 L415.27 478.89 L417.44 479.18 L419.62 479.46 L421.79 479.74 L423.97 480.02 L426.14 480.29 L428.32 480.57 L430.49 480.84 L432.67 481.12 L434.84 481.39 L437.01 481.66 L439.19 481.93 L441.36 482.2 L443.54 482.48 L445.71 482.75 L447.89 483.02 L450.06 483.29 L452.24 483.56 L454.41 483.83 L456.59 484.1 L458.76 484.38 L460.94 484.65 L463.11 484.92" stroke="#363636" stroke-width="1.45" fill="none" stroke-linecap="round"/>
<rect x="328.4" y="381.6" width="142.2" height="202.4" fill="none" stroke="#d4d4d4" stroke-width="0.9"/>
<rect x="328.4" y="355.3" width="142.2" height="26.3" fill="#7f7f7f"/>
<text x="376.5" y="371" font-family='"Liberation Sans", sans-serif' font-weight="normal" font-size="15.5" textLength="37.9" lengthAdjust="spacingAndGlyphs" fill="#111" stroke="#111" stroke-width="0.85" stroke-linejoin="round">ASIR</text>
<text x="416.9" y="394.8" font-family='"DejaVu Sans", sans-serif' font-weight="bold" font-style="italic" font-size="8.1" fill="#111" textLength="47.3" lengthAdjust="spacingAndGlyphs">R=-0.3258</text>
<text x="416.9" y="406.4" font-family='"DejaVu Sans", sans-serif' font-weight="bold" font-style="italic" font-size="8.1" fill="#111" textLength="49.39" lengthAdjust="spacingAndGlyphs">P=1.867e<tspan dy="-3.1" font-size="5">-6</tspan></text>
<text x="355.1" y="592.9" text-anchor="middle" font-family='"Liberation Sans", sans-serif' font-size="5.5" fill="#5c5c5c">10</text>
<path d="M355.1 584v1.8" stroke="#d4d4d4" stroke-width="0.7"/>
<text x="399.2" y="592.9" text-anchor="middle" font-family='"Liberation Sans", sans-serif' font-size="5.5" fill="#5c5c5c">20</text>
<path d="M399.2 584v1.8" stroke="#d4d4d4" stroke-width="0.7"/>
<text x="443.1" y="592.9" text-anchor="middle" font-family='"Liberation Sans", sans-serif' font-size="5.5" fill="#5c5c5c">30</text>
<path d="M443.1 584v1.8" stroke="#d4d4d4" stroke-width="0.7"/>
<text x="325.6" y="424.2" text-anchor="end" font-family='"Liberation Sans", sans-serif' font-size="5.5" fill="#5c5c5c">3</text>
<path d="M328.4 422.3h-1.8" stroke="#d4d4d4" stroke-width="0.7"/>
<text x="325.6" y="475.9" text-anchor="end" font-family='"Liberation Sans", sans-serif' font-size="5.5" fill="#5c5c5c">0</text>
<path d="M328.4 474h-1.8" stroke="#d4d4d4" stroke-width="0.7"/>
<text x="325.6" y="527.9" text-anchor="end" font-family='"Liberation Sans", sans-serif' font-size="5.5" fill="#5c5c5c">-3</text>
<path d="M328.4 526h-1.8" stroke="#d4d4d4" stroke-width="0.7"/>
<text x="325.6" y="580" text-anchor="end" font-family='"Liberation Sans", sans-serif' font-size="5.5" fill="#5c5c5c">-6</text>
<path d="M328.4 578.1h-1.8" stroke="#d4d4d4" stroke-width="0.7"/>
</g>
<g>
<rect x="472.6" y="381.6" width="142.7" height="202.4" fill="#fff"/>
<path d="M494.5 381.6V584M531.5 381.6V584M568.8 381.6V584M606 381.6V584M472.6 396.2H615.3M472.6 448H615.3M472.6 500.1H615.3M472.6 552H615.3" stroke="#f2f2f2" stroke-width="0.7" fill="none"/>
<path d="M476.3 381.6V584M513.1 381.6V584M550.1 381.6V584M587.4 381.6V584M472.6 422.3H615.3M472.6 474H615.3M472.6 526H615.3M472.6 578.1H615.3" stroke="#eaeaea" stroke-width="0.8" fill="none"/>
<path d="M479.8 473.98 L481.97 476.89 L484.14 479.72 L486.31 482.46 L488.48 485.1 L490.65 487.78 L492.82 490.42 L494.99 492.83 L497.16 494.85 L499.33 496.5 L501.5 497.95 L503.68 499.24 L505.85 500.39 L508.02 501.46 L510.19 502.46 L512.36 503.4 L514.53 504.24 L516.7 504.98 L518.87 505.58 L521.04 506.1 L523.21 506.55 L525.38 506.96 L527.56 507.34 L529.73 507.72 L531.9 508.14 L534.07 508.6 L536.24 509.04 L538.41 509.39 L540.58 509.58 L542.75 509.6 L544.92 509.53 L547.09 509.42 L549.27 509.26 L551.44 509.07 L553.61 508.86 L555.78 508.48 L557.95 507.92 L560.12 507.21 L562.29 506.41 L564.46 505.55 L566.63 504.61 L568.8 503.49 L570.97 502.21 L573.15 500.79 L575.32 499.26 L577.49 497.61 L579.66 495.74 L581.83 493.65 L584 491.39 L586.17 488.99 L588.34 486.48 L590.51 483.72 L592.68 480.67 L594.86 477.48 L597.03 474.28 L599.2 471.2 L601.37 468.31 L603.54 465.48 L605.71 462.72 L607.88 460 L607.88 553.16 L605.71 551.93 L603.54 550.7 L601.37 549.45 L599.2 548.18 L597.03 546.84 L594.86 545.46 L592.68 544.09 L590.51 542.79 L588.34 541.64 L586.17 540.63 L584 539.71 L581.83 538.85 L579.66 538.03 L577.49 537.24 L575.32 536.44 L573.15 535.63 L570.97 534.83 L568.8 534.08 L566.63 533.4 L564.46 532.81 L562.29 532.3 L560.12 531.85 L557.95 531.43 L555.78 531.03 L553.61 530.65 L551.44 530.28 L549.27 529.94 L547.09 529.62 L544.92 529.29 L542.75 528.93 L540.58 528.52 L538.41 528.08 L536.24 527.61 L534.07 527.09 L531.9 526.51 L529.73 525.86 L527.56 525.1 L525.38 524.19 L523.21 523.18 L521.04 522.08 L518.87 520.91 L516.7 519.67 L514.53 518.28 L512.36 516.78 L510.19 515.18 L508.02 513.52 L505.85 511.83 L503.68 510.06 L501.5 508.2 L499.33 506.23 L497.16 504.15 L494.99 501.94 L492.82 499.58 L490.65 497.08 L488.48 494.44 L486.31 491.64 L484.14 488.64 L481.97 485.46 L479.8 482.13Z" fill="#999" fill-opacity="0.45"/>
<g fill="#1b8bc9"><circle cx="482.32" cy="388.67" r="1.04"/><circle cx="489.91" cy="420.75" r="1.04"/><circle cx="482.75" cy="430.93" r="1.04"/><circle cx="484.27" cy="431.37" r="1.04"/><circle cx="484.92" cy="435.27" r="1.04"/><circle cx="483.4" cy="437.43" r="1.04"/><circle cx="481.67" cy="442.85" r="1.04"/><circle cx="501.18" cy="441.34" r="1.04"/><circle cx="495.32" cy="445.02" r="1.04"/><circle cx="496.19" cy="448.27" r="1.04"/><circle cx="478.85" cy="448.7" r="1.04"/><circle cx="486.44" cy="450.44" r="1.04"/><circle cx="480.59" cy="454.12" r="1.04"/><circle cx="481.67" cy="453.69" r="1.04"/><circle cx="496.19" cy="453.69" r="1.04"/><circle cx="486" cy="456.94" r="1.04"/><circle cx="491.42" cy="457.37" r="1.04"/><circle cx="479.5" cy="460.19" r="1.04"/><circle cx="481.67" cy="461.27" r="1.04"/><circle cx="494.02" cy="460.62" r="1.04"/><circle cx="504.86" cy="460.62" r="1.04"/><circle cx="537.37" cy="459.76" r="1.04"/><circle cx="490.99" cy="464.96" r="1.04"/><circle cx="499.44" cy="464.96" r="1.04"/><circle cx="502.26" cy="466.69" r="1.04"/><circle cx="512.01" cy="466.04" r="1.04"/><circle cx="482.1" cy="466.69" r="1.04"/><circle cx="483.19" cy="467.78" r="1.04"/><circle cx="483.84" cy="468.86" r="1.04"/><circle cx="489.25" cy="468.86" r="1.04"/><circle cx="491.86" cy="467.78" r="1.04"/><circle cx="493.59" cy="468.86" r="1.04"/><circle cx="502.26" cy="468.86" r="1.04"/><circle cx="482.75" cy="470.38" r="1.04"/><circle cx="481.02" cy="472.11" r="1.04"/><circle cx="480.59" cy="475.36" r="1.04"/><circle cx="483.19" cy="473.19" r="1.04"/><circle cx="489.25" cy="472.76" r="1.04"/><circle cx="495.76" cy="472.76" r="1.04"/><circle cx="499.66" cy="472.76" r="1.04"/><circle cx="513.1" cy="473.19" r="1.04"/><circle cx="522.85" cy="475.36" r="1.04"/><circle cx="539.75" cy="468.43" r="1.04"/><circle cx="490.34" cy="476.45" r="1.04"/><circle cx="492.07" cy="476.01" r="1.04"/><circle cx="486" cy="478.18" r="1.04"/><circle cx="489.25" cy="479.05" r="1.04"/><circle cx="494.24" cy="479.26" r="1.04"/><circle cx="495.76" cy="480.13" r="1.04"/><circle cx="499.01" cy="476.45" r="1.04"/><circle cx="500.74" cy="480.78" r="1.04"/><circle cx="502.69" cy="481.21" r="1.04"/><circle cx="503.34" cy="482.95" r="1.04"/><circle cx="492.07" cy="484.03" r="1.04"/><circle cx="497.27" cy="485.11" r="1.04"/><circle cx="498.57" cy="486.2" r="1.04"/><circle cx="500.09" cy="484.68" r="1.04"/><circle cx="482.32" cy="485.55" r="1.04"/><circle cx="485.35" cy="486.2" r="1.04"/><circle cx="497.49" cy="488.37" r="1.04"/><circle cx="500.09" cy="490.53" r="1.04"/><circle cx="506.59" cy="493.13" r="1.04"/><circle cx="513.1" cy="494.87" r="1.04"/><circle cx="530" cy="493.78" r="1.04"/><circle cx="481.67" cy="493.78" r="1.04"/><circle cx="483.19" cy="497.04" r="1.04"/><circle cx="484.92" cy="495.3" r="1.04"/><circle cx="489.25" cy="495.95" r="1.04"/><circle cx="490.99" cy="498.12" r="1.04"/><circle cx="492.51" cy="494.43" r="1.04"/><circle cx="502.69" cy="497.04" r="1.04"/><circle cx="503.34" cy="498.77" r="1.04"/><circle cx="485.35" cy="500.29" r="1.04"/><circle cx="490.34" cy="499.85" r="1.04"/><circle cx="482.1" cy="502.89" r="1.04"/><circle cx="493.16" cy="502.02" r="1.04"/><circle cx="494.67" cy="502.45" r="1.04"/><circle cx="498.57" cy="503.54" r="1.04"/><circle cx="499.01" cy="505.05" r="1.04"/><circle cx="503.34" cy="499.2" r="1.04"/><circle cx="505.51" cy="504.62" r="1.04"/><circle cx="511.58" cy="503.97" r="1.04"/><circle cx="481.67" cy="505.7" r="1.04"/><circle cx="487.52" cy="506.35" r="1.04"/><circle cx="492.51" cy="507.87" r="1.04"/><circle cx="485.35" cy="509.39" r="1.04"/><circle cx="489.25" cy="509.61" r="1.04"/><circle cx="497.92" cy="508.96" r="1.04"/><circle cx="508.11" cy="510.47" r="1.04"/><circle cx="487.09" cy="512.21" r="1.04"/><circle cx="488.17" cy="511.56" r="1.04"/><circle cx="504.43" cy="513.94" r="1.04"/><circle cx="482.1" cy="514.37" r="1.04"/><circle cx="501.83" cy="515.46" r="1.04"/><circle cx="485.35" cy="516.11" r="1.04"/><circle cx="496.41" cy="520.44" r="1.04"/><circle cx="483.84" cy="520.88" r="1.04"/><circle cx="489.25" cy="521.96" r="1.04"/><circle cx="520.03" cy="521.53" r="1.04"/><circle cx="481.67" cy="523.04" r="1.04"/><circle cx="484.92" cy="524.13" r="1.04"/><circle cx="490.34" cy="525.64" r="1.04"/><circle cx="495.32" cy="523.04" r="1.04"/><circle cx="495.76" cy="524.78" r="1.04"/><circle cx="500.52" cy="524.13" r="1.04"/><circle cx="501.61" cy="523.69" r="1.04"/><circle cx="503.99" cy="523.48" r="1.04"/><circle cx="509.41" cy="524.13" r="1.04"/><circle cx="526.75" cy="526.73" r="1.04"/><circle cx="481.02" cy="529.11" r="1.04"/><circle cx="487.74" cy="527.38" r="1.04"/><circle cx="487.09" cy="531.28" r="1.04"/><circle cx="509.84" cy="533.88" r="1.04"/><circle cx="514.18" cy="534.53" r="1.04"/><circle cx="518.95" cy="536.48" r="1.04"/><circle cx="490.99" cy="536.05" r="1.04"/><circle cx="489.91" cy="537.13" r="1.04"/><circle cx="500.09" cy="537.78" r="1.04"/><circle cx="482.32" cy="541.47" r="1.04"/><circle cx="486" cy="539.95" r="1.04"/><circle cx="494.67" cy="539.95" r="1.04"/><circle cx="492.94" cy="543.2" r="1.04"/><circle cx="508.76" cy="542.12" r="1.04"/><circle cx="539.54" cy="543.63" r="1.04"/><circle cx="488.6" cy="547.97" r="1.04"/><circle cx="490.99" cy="547.97" r="1.04"/><circle cx="497.27" cy="547.32" r="1.04"/><circle cx="500.09" cy="554.47" r="1.04"/><circle cx="497.49" cy="560.97" r="1.04"/><circle cx="508.76" cy="565.31" r="1.04"/><circle cx="505.08" cy="569.21" r="1.04"/><circle cx="493.59" cy="575.06" r="1.04"/><circle cx="542.35" cy="557.72" r="1.04"/><circle cx="553.5" cy="484.2" r="1.04"/><circle cx="556.1" cy="489.9" r="1.04"/><circle cx="564.6" cy="507.6" r="1.04"/><circle cx="587.6" cy="506.5" r="1.04"/><circle cx="608" cy="510.2" r="1.04"/><circle cx="548" cy="517.2" r="1.04"/><circle cx="547.2" cy="528.6" r="1.04"/><circle cx="550.4" cy="532.9" r="1.04"/><circle cx="545.4" cy="542.4" r="1.04"/><circle cx="558.1" cy="542.4" r="1.04"/></g>
<path d="M479.8 478.17 L481.97 481.14 L484.14 484.09 L486.31 486.99 L488.48 489.79 L490.65 492.48 L492.82 495.01 L494.99 497.36 L497.16 499.5 L499.33 501.41 L501.5 503.11 L503.68 504.66 L505.85 506.11 L508.02 507.49 L510.19 508.82 L512.36 510.09 L514.53 511.28 L516.7 512.38 L518.87 513.39 L521.04 514.3 L523.21 515.11 L525.38 515.83 L527.56 516.47 L529.73 517.03 L531.9 517.51 L534.07 517.93 L536.24 518.29 L538.41 518.59 L540.58 518.83 L542.75 519.03 L544.92 519.18 L547.09 519.28 L549.27 519.35 L551.44 519.38 L553.61 519.39 L555.78 519.35 L557.95 519.28 L560.12 519.16 L562.29 518.98 L564.46 518.73 L566.63 518.41 L568.8 518.02 L570.97 517.59 L573.15 517.11 L575.32 516.62 L577.49 516.12 L579.66 515.62 L581.83 515.11 L584 514.59 L586.17 514.06 L588.34 513.5 L590.51 512.91 L592.68 512.29 L594.86 511.65 L597.03 510.97 L599.2 510.25 L601.37 509.5 L603.54 508.72 L605.71 507.9 L607.88 507.04" stroke="#363636" stroke-width="1.45" fill="none" stroke-linecap="round"/>
<rect x="472.6" y="381.6" width="142.7" height="202.4" fill="none" stroke="#d4d4d4" stroke-width="0.9"/>
<rect x="472.6" y="355.3" width="142.7" height="26.3" fill="#7f7f7f"/>
<text x="519.6" y="371" font-family='"Liberation Sans", sans-serif' font-weight="normal" font-size="15.5" textLength="44.6" lengthAdjust="spacingAndGlyphs" fill="#111" stroke="#111" stroke-width="0.85" stroke-linejoin="round">ASDR</text>
<text x="552.1" y="394.8" font-family='"DejaVu Sans", sans-serif' font-weight="bold" font-style="italic" font-size="8.1" fill="#111" textLength="47.3" lengthAdjust="spacingAndGlyphs">R=-0.2723</text>
<text x="552.1" y="406.4" font-family='"DejaVu Sans", sans-serif' font-weight="bold" font-style="italic" font-size="8.1" fill="#111" textLength="52.87" lengthAdjust="spacingAndGlyphs">P=7.821e<tspan dy="-3.1" font-size="5">-05</tspan></text>
<text x="476" y="592.9" text-anchor="middle" font-family='"Liberation Sans", sans-serif' font-size="5.5" fill="#5c5c5c">0.00</text>
<path d="M476 584v1.8" stroke="#d4d4d4" stroke-width="0.7"/>
<text x="513.1" y="592.9" text-anchor="middle" font-family='"Liberation Sans", sans-serif' font-size="5.5" fill="#5c5c5c">0.25</text>
<path d="M513.1 584v1.8" stroke="#d4d4d4" stroke-width="0.7"/>
<text x="550.1" y="592.9" text-anchor="middle" font-family='"Liberation Sans", sans-serif' font-size="5.5" fill="#5c5c5c">0.50</text>
<path d="M550.1 584v1.8" stroke="#d4d4d4" stroke-width="0.7"/>
<text x="587.4" y="592.9" text-anchor="middle" font-family='"Liberation Sans", sans-serif' font-size="5.5" fill="#5c5c5c">0.75</text>
<path d="M587.4 584v1.8" stroke="#d4d4d4" stroke-width="0.7"/>
</g>
<text x="327.1" y="348.7" font-family='"Liberation Serif", serif' font-size="17.4" fill="#222" textLength="14" lengthAdjust="spacingAndGlyphs">D</text>
<text transform="translate(318.9 477) rotate(-90)" text-anchor="middle" font-family='"Liberation Sans", sans-serif' font-size="6.4" fill="#333">EAPC</text>
<text x="462.4" y="605" font-family='"Liberation Sans", sans-serif' font-weight="bold" font-size="11.9" textLength="24.2" lengthAdjust="spacingAndGlyphs" fill="#111">ASR</text>
<text x="616.4" y="429.2" font-family='"DejaVu Sans", sans-serif' font-weight="bold" font-size="13.4" textLength="91" lengthAdjust="spacingAndGlyphs" fill="#111">cases in 1990</text>
<circle cx="621.1" cy="439.1" r="0.9" fill="#000"/>
<text x="627.2" y="441.9" font-family='"DejaVu Sans", sans-serif' font-weight="bold" font-size="6.9" textLength="17.5" lengthAdjust="spacingAndGlyphs" fill="#222">&lt;500</text>
<circle cx="621.1" cy="455.6" r="1.7" fill="#000"/>
<text x="627.2" y="457.4" font-family='"DejaVu Sans", sans-serif' font-weight="bold" font-size="6.9" textLength="40.5" lengthAdjust="spacingAndGlyphs" fill="#222">500-10,000</text>
<circle cx="621.1" cy="475.4" r="2.8" fill="#000"/>
<text x="627.2" y="478.2" font-family='"DejaVu Sans", sans-serif' font-weight="bold" font-size="6.9" textLength="52" lengthAdjust="spacingAndGlyphs" fill="#222">10,000-50,000</text>
<circle cx="621.1" cy="494.2" r="3.95" fill="#000"/>
<text x="627.2" y="498.4" font-family='"DejaVu Sans", sans-serif' font-weight="bold" font-size="6.9" textLength="29" lengthAdjust="spacingAndGlyphs" fill="#222">&gt;50,000</text>
<g>
<rect x="16.7" y="713.7" width="142.2" height="205.7" fill="#fff"/>
<path d="M55.4 713.7V919.4M98.3 713.7V919.4M140.7 713.7V919.4M16.7 751.8H158.9M16.7 818.7H158.9M16.7 885.6H158.9" stroke="#f2f2f2" stroke-width="0.7" fill="none"/>
<path d="M33.7 713.7V919.4M76.8 713.7V919.4M119.5 713.7V919.4M16.7 718.4H158.9M16.7 785.4H158.9M16.7 851.9H158.9M16.7 918.6H158.9" stroke="#eaeaea" stroke-width="0.8" fill="none"/>
<path d="M23.27 778.06 L25.43 778.77 L27.6 779.44 L29.77 780.06 L31.93 780.58 L34.1 780.97 L36.27 781.21 L38.44 781.31 L40.6 781.4 L42.77 781.46 L44.94 781.51 L47.1 781.56 L49.27 781.6 L51.44 781.65 L53.61 781.71 L55.77 781.78 L57.94 781.85 L60.11 781.92 L62.27 781.99 L64.44 782.07 L66.61 782.14 L68.78 782.23 L70.94 782.32 L73.11 782.42 L75.28 782.53 L77.44 782.65 L79.61 782.8 L81.78 782.98 L83.95 783.2 L86.11 783.45 L88.28 783.72 L90.45 784.02 L92.61 784.34 L94.78 784.66 L96.95 785 L99.12 785.34 L101.28 785.68 L103.45 786.02 L105.62 786.38 L107.78 786.76 L109.95 787.16 L112.12 787.58 L114.29 788 L116.45 788.43 L118.62 788.87 L120.79 789.31 L122.95 789.74 L125.12 790.17 L127.29 790.58 L129.46 790.99 L131.62 791.41 L133.79 791.82 L135.96 792.23 L138.12 792.64 L140.29 793.05 L142.46 793.46 L144.63 793.88 L146.79 794.29 L148.96 794.7 L151.13 795.11 L151.13 802.42 L148.96 801.52 L146.79 800.64 L144.63 799.79 L142.46 798.96 L140.29 798.16 L138.12 797.39 L135.96 796.65 L133.79 795.94 L131.62 795.27 L129.46 794.63 L127.29 794.03 L125.12 793.47 L122.95 792.92 L120.79 792.4 L118.62 791.9 L116.45 791.42 L114.29 790.96 L112.12 790.52 L109.95 790.1 L107.78 789.7 L105.62 789.31 L103.45 788.95 L101.28 788.6 L99.12 788.24 L96.95 787.88 L94.78 787.52 L92.61 787.17 L90.45 786.84 L88.28 786.54 L86.11 786.26 L83.95 786.02 L81.78 785.83 L79.61 785.68 L77.44 785.59 L75.28 785.52 L73.11 785.45 L70.94 785.39 L68.78 785.33 L66.61 785.28 L64.44 785.24 L62.27 785.2 L60.11 785.17 L57.94 785.14 L55.77 785.13 L53.61 785.13 L51.44 785.18 L49.27 785.31 L47.1 785.51 L44.94 785.76 L42.77 786.07 L40.6 786.41 L38.44 786.77 L36.27 787.15 L34.1 787.62 L31.93 788.21 L29.77 788.92 L27.6 789.71 L25.43 790.56 L23.27 791.46Z" fill="#999" fill-opacity="0.45"/>
<g fill="#1b8bc9"><circle cx="23.14" cy="778.24" r="1.31"/><circle cx="30.56" cy="778.04" r="1.31"/><circle cx="38.96" cy="776.75" r="1.2"/><circle cx="41.73" cy="776.55" r="0.98"/><circle cx="44" cy="777.94" r="1.2"/><circle cx="33.82" cy="782.19" r="1.31"/><circle cx="37.28" cy="788.12" r="1.2"/><circle cx="40.94" cy="787.92" r="1.31"/><circle cx="36.79" cy="794.85" r="1.31"/><circle cx="40.74" cy="797.71" r="1.31"/><circle cx="45.68" cy="783.67" r="1.31"/><circle cx="46.67" cy="786.64" r="1.74"/><circle cx="49.64" cy="789.8" r="0.82"/><circle cx="49.44" cy="797.52" r="1.31"/><circle cx="55.37" cy="779.42" r="1.31"/><circle cx="55.08" cy="783.18" r="1.41"/><circle cx="57.55" cy="784.17" r="0.98"/><circle cx="55.37" cy="790.1" r="1.41"/><circle cx="54.58" cy="792.08" r="1.2"/><circle cx="59.03" cy="778.43" r="1.31"/><circle cx="62" cy="777.54" r="1.09"/><circle cx="58.34" cy="788.12" r="1.31"/><circle cx="61.5" cy="788.81" r="2.45"/><circle cx="59.53" cy="792.37" r="1.31"/><circle cx="64.27" cy="780.21" r="1.2"/><circle cx="66.65" cy="774.08" r="1.31"/><circle cx="68.13" cy="781.89" r="1.63"/><circle cx="70.4" cy="780.9" r="1.2"/><circle cx="72.38" cy="776.95" r="1.31"/><circle cx="74.36" cy="781.89" r="1.41"/><circle cx="71.89" cy="793.07" r="1.52"/><circle cx="73.37" cy="792.08" r="0.98"/><circle cx="78.02" cy="774.28" r="2.18"/><circle cx="79.8" cy="781.7" r="1.09"/><circle cx="78.51" cy="788.42" r="0.82"/><circle cx="81.58" cy="791.09" r="0.82"/><circle cx="78.51" cy="795.24" r="0.98"/><circle cx="84.44" cy="778.73" r="3.92"/><circle cx="108.54" cy="765.18" r="1.31"/><circle cx="98.85" cy="768.05" r="1.2"/><circle cx="97.57" cy="770.82" r="1.52"/><circle cx="109.93" cy="772.6" r="1.2"/><circle cx="119.62" cy="773.59" r="1.31"/><circle cx="124.26" cy="772.8" r="1.31"/><circle cx="140.38" cy="773.09" r="1.31"/><circle cx="136.23" cy="774.28" r="1.2"/><circle cx="147.5" cy="775.27" r="1.31"/><circle cx="113.68" cy="776.06" r="1.85"/><circle cx="108.54" cy="778.43" r="2.99"/><circle cx="101.03" cy="778.24" r="0.98"/><circle cx="119.32" cy="777.74" r="1.52"/><circle cx="97.86" cy="780.51" r="0.98"/><circle cx="127.03" cy="780.41" r="0.98"/><circle cx="100.83" cy="782.19" r="0.82"/><circle cx="103.01" cy="782.49" r="0.82"/><circle cx="106.76" cy="781.7" r="0.82"/><circle cx="109.24" cy="782.49" r="0.82"/><circle cx="115.46" cy="781.7" r="0.82"/><circle cx="114.67" cy="783.97" r="0.82"/><circle cx="118.63" cy="784.46" r="0.98"/><circle cx="125.55" cy="782.68" r="0.82"/><circle cx="128.32" cy="784.66" r="1.41"/><circle cx="135.63" cy="783.97" r="0.98"/><circle cx="97.37" cy="787.13" r="1.63"/><circle cx="90.45" cy="790.1" r="1.2"/><circle cx="87.48" cy="789.11" r="0.82"/><circle cx="103.3" cy="788.62" r="1.09"/><circle cx="123.37" cy="786.84" r="1.2"/><circle cx="117.14" cy="786.84" r="0.98"/><circle cx="129.01" cy="787.13" r="0.82"/><circle cx="131.48" cy="788.62" r="0.82"/><circle cx="134.15" cy="787.13" r="0.98"/><circle cx="109.73" cy="790.59" r="1.9"/><circle cx="96.09" cy="792.77" r="1.63"/><circle cx="99.84" cy="792.08" r="0.82"/><circle cx="101.33" cy="792.08" r="0.82"/><circle cx="115.66" cy="792.08" r="1.09"/><circle cx="120.11" cy="792.37" r="1.52"/><circle cx="119.12" cy="794.55" r="1.09"/><circle cx="133.46" cy="791.58" r="0.82"/><circle cx="141.57" cy="791.09" r="1.2"/><circle cx="145.82" cy="789.11" r="1.85"/><circle cx="144.83" cy="794.55" r="0.98"/><circle cx="141.37" cy="795.74" r="1.2"/><circle cx="128.71" cy="796.03" r="0.82"/><circle cx="130.99" cy="795.04" r="0.98"/><circle cx="134.15" cy="795.04" r="0.98"/><circle cx="148.78" cy="796.03" r="1.2"/><circle cx="94.6" cy="796.72" r="1.31"/><circle cx="105.28" cy="798.01" r="1.31"/><circle cx="121.4" cy="797.71" r="1.2"/><circle cx="109.93" cy="800.78" r="1.31"/><circle cx="105.08" cy="802.16" r="1.31"/><circle cx="94.21" cy="802.46" r="1.41"/><circle cx="120.61" cy="803.15" r="0.98"/><circle cx="116.16" cy="804.93" r="0.98"/><circle cx="139.69" cy="801.17" r="0.98"/><circle cx="143.84" cy="801.77" r="0.98"/><circle cx="148.29" cy="799.79" r="0.98"/><circle cx="131.48" cy="803.94" r="0.98"/><circle cx="138.4" cy="804.44" r="1.2"/><circle cx="132.96" cy="806.91" r="1.2"/><circle cx="150.07" cy="803.45" r="0.82"/><circle cx="152.05" cy="803.94" r="0.98"/><circle cx="122.09" cy="806.71" r="0.98"/><circle cx="113.98" cy="807.7" r="0.98"/><circle cx="108.54" cy="809.18" r="1.31"/><circle cx="98.36" cy="809.87" r="1.09"/><circle cx="147.8" cy="808.89" r="1.2"/><circle cx="142.06" cy="811.36" r="1.31"/><circle cx="146.81" cy="813.63" r="0.98"/><circle cx="130.2" cy="819.47" r="1.41"/></g>
<path d="M23.27 784.88 L25.43 784.78 L27.6 784.66 L29.77 784.55 L31.93 784.42 L34.1 784.3 L36.27 784.17 L38.44 784.05 L40.6 783.93 L42.77 783.82 L44.94 783.72 L47.1 783.63 L49.27 783.54 L51.44 783.48 L53.61 783.42 L55.77 783.39 L57.94 783.37 L60.11 783.38 L62.27 783.4 L64.44 783.44 L66.61 783.5 L68.78 783.58 L70.94 783.68 L73.11 783.8 L75.28 783.94 L77.44 784.1 L79.61 784.29 L81.78 784.49 L83.95 784.72 L86.11 784.96 L88.28 785.22 L90.45 785.5 L92.61 785.8 L94.78 786.11 L96.95 786.44 L99.12 786.78 L101.28 787.13 L103.45 787.49 L105.62 787.87 L107.78 788.26 L109.95 788.66 L112.12 789.07 L114.29 789.5 L116.45 789.93 L118.62 790.38 L120.79 790.84 L122.95 791.32 L125.12 791.81 L127.29 792.31 L129.46 792.83 L131.62 793.35 L133.79 793.9 L135.96 794.46 L138.12 795.03 L140.29 795.61 L142.46 796.21 L144.63 796.83 L146.79 797.46 L148.96 798.1 L151.13 798.77" stroke="#363636" stroke-width="1.45" fill="none" stroke-linecap="round"/>
<rect x="16.7" y="713.7" width="142.2" height="205.7" fill="none" stroke="#d4d4d4" stroke-width="0.9"/>
<rect x="16.7" y="688.8" width="142.2" height="24.9" fill="#7f7f7f"/>
<text x="62.9" y="707" font-family='"Liberation Sans", sans-serif' font-weight="normal" font-size="15.5" textLength="37.7" lengthAdjust="spacingAndGlyphs" fill="#111" stroke="#111" stroke-width="0.85" stroke-linejoin="round">ASIR</text>
<text x="22.2" y="736" font-family='"DejaVu Sans", sans-serif' font-weight="bold" font-style="italic" font-size="8.1" fill="#111" textLength="47.3" lengthAdjust="spacingAndGlyphs">R=-0.3441</text>
<text x="22.2" y="746.9" font-family='"DejaVu Sans", sans-serif' font-weight="bold" font-style="italic" font-size="8.1" fill="#111" textLength="52.87" lengthAdjust="spacingAndGlyphs">P=9.572e<tspan dy="-3.1" font-size="5">-06</tspan></text>
<text x="33.7" y="927.6" text-anchor="middle" font-family='"Liberation Sans", sans-serif' font-size="5.5" fill="#5c5c5c">0.4</text>
<path d="M33.7 919.4v1.8" stroke="#d4d4d4" stroke-width="0.7"/>
<text x="76.8" y="927.6" text-anchor="middle" font-family='"Liberation Sans", sans-serif' font-size="5.5" fill="#5c5c5c">0.6</text>
<path d="M76.8 919.4v1.8" stroke="#d4d4d4" stroke-width="0.7"/>
<text x="119.5" y="927.6" text-anchor="middle" font-family='"Liberation Sans", sans-serif' font-size="5.5" fill="#5c5c5c">0.8</text>
<path d="M119.5 919.4v1.8" stroke="#d4d4d4" stroke-width="0.7"/>
<text x="13.8" y="720.3" text-anchor="end" font-family='"Liberation Sans", sans-serif' font-size="5.5" fill="#5c5c5c">4</text>
<path d="M16.7 718.4h-1.8" stroke="#d4d4d4" stroke-width="0.7"/>
<text x="13.8" y="787.3" text-anchor="end" font-family='"Liberation Sans", sans-serif' font-size="5.5" fill="#5c5c5c">0</text>
<path d="M16.7 785.4h-1.8" stroke="#d4d4d4" stroke-width="0.7"/>
<text x="13.8" y="853.8" text-anchor="end" font-family='"Liberation Sans", sans-serif' font-size="5.5" fill="#5c5c5c">-4</text>
<path d="M16.7 851.9h-1.8" stroke="#d4d4d4" stroke-width="0.7"/>
<text x="13.8" y="919.5" text-anchor="end" font-family='"Liberation Sans", sans-serif' font-size="5.5" fill="#5c5c5c">-8</text>
<path d="M16.7 917.6h-1.8" stroke="#d4d4d4" stroke-width="0.7"/>
</g>
<g>
<rect x="161.4" y="713.7" width="141.6" height="205.7" fill="#fff"/>
<path d="M199.9 713.7V919.4M242.5 713.7V919.4M285.7 713.7V919.4M161.4 751.8H303M161.4 818.7H303M161.4 885.6H303" stroke="#f2f2f2" stroke-width="0.7" fill="none"/>
<path d="M178 713.7V919.4M221.1 713.7V919.4M264 713.7V919.4M161.4 718.4H303M161.4 785.4H303M161.4 851.9H303M161.4 918.6H303" stroke="#eaeaea" stroke-width="0.8" fill="none"/>
<path d="M168.27 780.01 L170.45 780.72 L172.63 781.38 L174.8 781.93 L176.98 782.3 L179.16 782.45 L181.34 782.45 L183.52 782.45 L185.7 782.45 L187.88 782.45 L190.06 782.45 L192.24 782.45 L194.42 782.45 L196.6 782.45 L198.78 782.45 L200.96 782.45 L203.14 782.45 L205.32 782.45 L207.5 782.47 L209.68 782.55 L211.86 782.71 L214.04 782.91 L216.22 783.16 L218.4 783.45 L220.57 784 L222.75 784.88 L224.93 785.99 L227.11 787.21 L229.29 788.45 L231.47 789.61 L233.65 790.81 L235.83 792.08 L238.01 793.41 L240.19 794.79 L242.37 796.21 L244.55 797.69 L246.73 799.23 L248.91 800.84 L251.09 802.49 L253.27 804.19 L255.45 805.92 L257.63 807.69 L259.81 809.52 L261.99 811.4 L264.17 813.32 L266.34 815.3 L268.52 817.34 L270.7 819.48 L272.88 821.68 L275.06 823.91 L277.24 826.14 L279.42 828.34 L281.6 830.58 L283.78 832.86 L285.96 835.07 L288.14 837.13 L290.32 838.99 L292.5 840.73 L294.68 842.34 L296.86 843.82 L296.86 866.23 L294.68 862.24 L292.5 858.4 L290.32 854.74 L288.14 851.29 L285.96 847.98 L283.78 844.82 L281.6 841.79 L279.42 838.9 L277.24 836.13 L275.06 833.45 L272.88 830.86 L270.7 828.38 L268.52 826.02 L266.34 823.78 L264.17 821.63 L261.99 819.58 L259.81 817.62 L257.63 815.74 L255.45 813.95 L253.27 812.23 L251.09 810.53 L248.91 808.89 L246.73 807.35 L244.55 805.96 L242.37 804.76 L240.19 803.72 L238.01 802.78 L235.83 801.93 L233.65 801.13 L231.47 800.36 L229.29 799.62 L227.11 798.89 L224.93 798.2 L222.75 797.55 L220.57 796.94 L218.4 796.38 L216.22 795.83 L214.04 795.24 L211.86 794.69 L209.68 794.24 L207.5 793.96 L205.32 793.9 L203.14 794.02 L200.96 794.25 L198.78 794.6 L196.6 795.03 L194.42 795.54 L192.24 796.1 L190.06 796.79 L187.88 797.88 L185.7 799.32 L183.52 801.03 L181.34 802.92 L179.16 804.91 L176.98 807.15 L174.8 809.78 L172.63 812.75 L170.45 816 L168.27 819.47Z" fill="#999" fill-opacity="0.45"/>
<g fill="#1b8bc9"><circle cx="230.87" cy="723.38" r="1.04"/><circle cx="242.86" cy="749.98" r="1.04"/><circle cx="253.11" cy="754.34" r="1.04"/><circle cx="258.78" cy="753.69" r="1.04"/><circle cx="206.23" cy="760.23" r="1.04"/><circle cx="203.17" cy="766.33" r="1.04"/><circle cx="218.87" cy="766.99" r="1.04"/><circle cx="245.7" cy="764.15" r="1.04"/><circle cx="241.77" cy="765.68" r="1.04"/><circle cx="264.01" cy="765.24" r="1.04"/><circle cx="262.92" cy="769.6" r="1.04"/><circle cx="230.87" cy="770.04" r="1.04"/><circle cx="193.8" cy="773.53" r="1.04"/><circle cx="202.96" cy="774.62" r="1.04"/><circle cx="206.23" cy="775.06" r="1.04"/><circle cx="206.45" cy="775.71" r="1.04"/><circle cx="216.26" cy="776.15" r="1.04"/><circle cx="253.76" cy="772.87" r="1.04"/><circle cx="252.67" cy="777.67" r="1.04"/><circle cx="185.73" cy="777.67" r="1.04"/><circle cx="208.63" cy="777.89" r="1.04"/><circle cx="211.24" cy="777.24" r="1.04"/><circle cx="201.43" cy="780.51" r="1.04"/><circle cx="220.62" cy="781.6" r="1.04"/><circle cx="218.22" cy="783.34" r="1.04"/><circle cx="273.39" cy="782.25" r="1.04"/><circle cx="174.83" cy="782.69" r="1.04"/><circle cx="178.1" cy="785.96" r="1.04"/><circle cx="183.55" cy="784.87" r="1.04"/><circle cx="185.73" cy="783.34" r="1.04"/><circle cx="189.44" cy="782.03" r="1.04"/><circle cx="188.35" cy="784.21" r="1.04"/><circle cx="199.9" cy="784.21" r="1.04"/><circle cx="168.07" cy="794.24" r="1.04"/><circle cx="181.15" cy="793.59" r="1.04"/><circle cx="192.71" cy="790.32" r="1.04"/><circle cx="199.9" cy="792.06" r="1.04"/><circle cx="203.61" cy="792.5" r="1.04"/><circle cx="204.27" cy="792.94" r="1.04"/><circle cx="209.06" cy="790.76" r="1.04"/><circle cx="212.33" cy="791.41" r="1.04"/><circle cx="217.78" cy="790.32" r="1.04"/><circle cx="242.21" cy="789.67" r="1.04"/><circle cx="247.22" cy="790.32" r="1.04"/><circle cx="250.93" cy="790.97" r="1.04"/><circle cx="252.24" cy="788.79" r="1.04"/><circle cx="272.3" cy="788.57" r="1.04"/><circle cx="259.22" cy="792.5" r="1.04"/><circle cx="260.31" cy="792.94" r="1.04"/><circle cx="253.76" cy="794.24" r="1.04"/><circle cx="257.03" cy="794.24" r="1.04"/><circle cx="217.78" cy="795.33" r="1.04"/><circle cx="222.15" cy="796.42" r="1.04"/><circle cx="225.42" cy="795.77" r="1.04"/><circle cx="229.34" cy="797.52" r="1.04"/><circle cx="230.87" cy="796.86" r="1.04"/><circle cx="233.05" cy="792.5" r="1.04"/><circle cx="199.25" cy="796.86" r="1.04"/><circle cx="199.69" cy="797.52" r="1.04"/><circle cx="202.96" cy="794.03" r="1.04"/><circle cx="268.37" cy="795.77" r="1.04"/><circle cx="189.44" cy="800.79" r="1.04"/><circle cx="214.51" cy="799.7" r="1.04"/><circle cx="231.3" cy="799.7" r="1.04"/><circle cx="241.12" cy="800.79" r="1.04"/><circle cx="242.42" cy="800.79" r="1.04"/><circle cx="252.24" cy="799.48" r="1.04"/><circle cx="258.12" cy="798.61" r="1.04"/><circle cx="262.92" cy="801.66" r="1.04"/><circle cx="263.58" cy="803.84" r="1.04"/><circle cx="279.93" cy="800.57" r="1.04"/><circle cx="223.89" cy="802.75" r="1.04"/><circle cx="198.81" cy="802.31" r="1.04"/><circle cx="181.37" cy="805.15" r="1.04"/><circle cx="193.8" cy="806.24" r="1.04"/><circle cx="191.18" cy="808.42" r="1.04"/><circle cx="216.69" cy="808.42" r="1.04"/><circle cx="235.67" cy="808.42" r="1.04"/><circle cx="248.97" cy="808.2" r="1.04"/><circle cx="260.96" cy="807.11" r="1.04"/><circle cx="257.47" cy="809.94" r="1.04"/><circle cx="290.18" cy="805.58" r="1.04"/><circle cx="222.15" cy="810.6" r="1.04"/><circle cx="223.24" cy="810.6" r="1.04"/><circle cx="267.94" cy="809.29" r="1.04"/><circle cx="269.68" cy="809.94" r="1.04"/><circle cx="264.67" cy="813.22" r="1.04"/><circle cx="286.04" cy="811.03" r="1.04"/><circle cx="245.7" cy="815.83" r="1.04"/><circle cx="254.85" cy="814.74" r="1.04"/><circle cx="243.52" cy="818.67" r="1.04"/><circle cx="246.57" cy="818.23" r="1.04"/><circle cx="249.4" cy="818.23" r="1.04"/><circle cx="284.95" cy="818.67" r="1.04"/><circle cx="296.28" cy="819.32" r="1.04"/><circle cx="289.09" cy="820.41" r="1.04"/><circle cx="238.94" cy="821.5" r="1.04"/><circle cx="243.52" cy="821.5" r="1.04"/><circle cx="253.11" cy="820.85" r="1.04"/><circle cx="254.2" cy="821.28" r="1.04"/><circle cx="274.91" cy="822.37" r="1.04"/><circle cx="278.84" cy="823.03" r="1.04"/><circle cx="275.57" cy="823.46" r="1.04"/><circle cx="185.08" cy="830.66" r="1.04"/><circle cx="238.5" cy="825.86" r="1.04"/><circle cx="235.67" cy="828.91" r="1.04"/><circle cx="253.76" cy="826.95" r="1.04"/><circle cx="259.22" cy="826.95" r="1.04"/><circle cx="260.74" cy="825.21" r="1.04"/><circle cx="261.83" cy="825.86" r="1.04"/><circle cx="276.22" cy="826.73" r="1.04"/><circle cx="293.45" cy="826.73" r="1.04"/><circle cx="241.12" cy="834.58" r="1.04"/><circle cx="257.47" cy="832.84" r="1.04"/><circle cx="253.11" cy="833.93" r="1.04"/><circle cx="291.49" cy="832.84" r="1.04"/><circle cx="292.36" cy="838.29" r="1.04"/><circle cx="293.01" cy="839.38" r="1.04"/><circle cx="249.4" cy="841.13" r="1.04"/><circle cx="266.19" cy="841.56" r="1.04"/><circle cx="264.67" cy="842.65" r="1.04"/><circle cx="271.86" cy="840.47" r="1.04"/><circle cx="242.86" cy="844.83" r="1.04"/><circle cx="263.14" cy="847.45" r="1.04"/><circle cx="277.31" cy="845.92" r="1.04"/><circle cx="276.66" cy="848.1" r="1.04"/><circle cx="272.95" cy="849.19" r="1.04"/><circle cx="280.58" cy="851.37" r="1.04"/><circle cx="285.38" cy="844.18" r="1.04"/><circle cx="291.49" cy="843.09" r="1.04"/><circle cx="282.76" cy="857.26" r="1.04"/><circle cx="286.47" cy="859.01" r="1.04"/><circle cx="288.22" cy="857.92" r="1.04"/><circle cx="253.11" cy="860.75" r="1.04"/><circle cx="266.41" cy="861.62" r="1.04"/><circle cx="274.91" cy="862.28" r="1.04"/><circle cx="273.39" cy="863.8" r="1.04"/><circle cx="291.49" cy="862.28" r="1.04"/><circle cx="291.92" cy="863.37" r="1.04"/><circle cx="283.86" cy="864.89" r="1.04"/><circle cx="294.54" cy="865.11" r="1.04"/><circle cx="260.74" cy="867.07" r="1.04"/><circle cx="265.32" cy="869.91" r="1.04"/><circle cx="290.83" cy="885.17" r="1.04"/><circle cx="289.09" cy="886.26" r="1.04"/><circle cx="278.4" cy="910.25" r="1.04"/></g>
<path d="M168.27 799.98 L170.45 798.58 L172.63 797.28 L174.8 796.07 L176.98 794.95 L179.16 793.92 L181.34 792.98 L183.52 792.13 L185.7 791.36 L187.88 790.68 L190.06 790.08 L192.24 789.56 L194.42 789.13 L196.6 788.78 L198.78 788.52 L200.96 788.34 L203.14 788.26 L205.32 788.27 L207.5 788.38 L209.68 788.58 L211.86 788.88 L214.04 789.26 L216.22 789.74 L218.4 790.3 L220.57 790.94 L222.75 791.65 L224.93 792.44 L227.11 793.28 L229.29 794.17 L231.47 795.1 L233.65 796.08 L235.83 797.11 L238.01 798.2 L240.19 799.36 L242.37 800.61 L244.55 801.94 L246.73 803.36 L248.91 804.86 L251.09 806.44 L253.27 808.09 L255.45 809.82 L257.63 811.61 L259.81 813.46 L261.99 815.38 L264.17 817.37 L266.34 819.42 L268.52 821.53 L270.7 823.72 L272.88 825.97 L275.06 828.31 L277.24 830.74 L279.42 833.26 L281.6 835.88 L283.78 838.58 L285.96 841.35 L288.14 844.15 L290.32 846.99 L292.5 849.84 L294.68 852.69 L296.86 855.51" stroke="#363636" stroke-width="1.45" fill="none" stroke-linecap="round"/>
<rect x="161.4" y="713.7" width="141.6" height="205.7" fill="none" stroke="#d4d4d4" stroke-width="0.9"/>
<rect x="161.4" y="688.8" width="141.6" height="24.9" fill="#7f7f7f"/>
<text x="206.2" y="707" font-family='"Liberation Sans", sans-serif' font-weight="normal" font-size="15.5" textLength="44.4" lengthAdjust="spacingAndGlyphs" fill="#111" stroke="#111" stroke-width="0.85" stroke-linejoin="round">ASDR</text>
<text x="166.4" y="736" font-family='"DejaVu Sans", sans-serif' font-weight="bold" font-style="italic" font-size="8.1" fill="#111" textLength="47.3" lengthAdjust="spacingAndGlyphs">R=-0.5735</text>
<text x="166.4" y="746.9" font-family='"DejaVu Sans", sans-serif' font-weight="bold" font-style="italic" font-size="8.1" fill="#111" textLength="52.87" lengthAdjust="spacingAndGlyphs">P=3.376e<tspan dy="-3.1" font-size="5">-15</tspan></text>
<text x="178" y="927.6" text-anchor="middle" font-family='"Liberation Sans", sans-serif' font-size="5.5" fill="#5c5c5c">0.4</text>
<path d="M178 919.4v1.8" stroke="#d4d4d4" stroke-width="0.7"/>
<text x="221.1" y="927.6" text-anchor="middle" font-family='"Liberation Sans", sans-serif' font-size="5.5" fill="#5c5c5c">0.6</text>
<path d="M221.1 919.4v1.8" stroke="#d4d4d4" stroke-width="0.7"/>
<text x="264" y="927.6" text-anchor="middle" font-family='"Liberation Sans", sans-serif' font-size="5.5" fill="#5c5c5c">0.8</text>
<path d="M264 919.4v1.8" stroke="#d4d4d4" stroke-width="0.7"/>
</g>
<text x="17.6" y="685.7" font-family='"Liberation Serif", serif' font-size="17.4" fill="#222" textLength="10.3" lengthAdjust="spacingAndGlyphs">E</text>
<text transform="translate(6.9 813) rotate(-90)" text-anchor="middle" font-family='"Liberation Sans", sans-serif' font-size="6.4" fill="#333">EAPC</text>
<text x="144.6" y="942.6" font-family='"Liberation Sans", sans-serif' font-weight="bold" font-size="11.9" textLength="22.4" lengthAdjust="spacingAndGlyphs" fill="#111">HDI</text>
<g>
<rect x="328.3" y="714.8" width="142.5" height="204.6" fill="#fff"/>
<path d="M335.7 714.8V919.4M362.2 714.8V919.4M388.5 714.8V919.4M414.9 714.8V919.4M441.4 714.8V919.4M467.4 714.8V919.4M328.3 733H470.8M328.3 785.4H470.8M328.3 838.2H470.8M328.3 890.8H470.8" stroke="#f2f2f2" stroke-width="0.7" fill="none"/>
<path d="M349.1 714.8V919.4M375.4 714.8V919.4M401.7 714.8V919.4M428.2 714.8V919.4M454.6 714.8V919.4M328.3 759.1H470.8M328.3 811.7H470.8M328.3 864.5H470.8M328.3 917.2H470.8" stroke="#eaeaea" stroke-width="0.8" fill="none"/>
<path d="M334.97 805.34 L337.15 805.86 L339.33 806.36 L341.51 806.85 L343.69 807.33 L345.87 807.77 L348.05 808.18 L350.23 808.55 L352.41 808.88 L354.59 809.18 L356.77 809.47 L358.95 809.74 L361.13 810 L363.3 810.25 L365.48 810.48 L367.66 810.71 L369.84 810.93 L372.02 811.14 L374.2 811.35 L376.38 811.55 L378.56 811.76 L380.74 811.96 L382.92 812.16 L385.1 812.36 L387.28 812.57 L389.46 812.78 L391.64 812.97 L393.82 813.16 L396 813.33 L398.18 813.5 L400.36 813.68 L402.54 813.85 L404.72 814.04 L406.9 814.24 L409.07 814.46 L411.25 814.7 L413.43 814.97 L415.61 815.28 L417.79 815.63 L419.97 816.01 L422.15 816.42 L424.33 816.86 L426.51 817.31 L428.69 817.77 L430.87 818.23 L433.05 818.69 L435.23 819.15 L437.41 819.6 L439.59 820.07 L441.77 820.57 L443.95 821.08 L446.13 821.59 L448.31 822.08 L450.49 822.53 L452.67 822.93 L454.84 823.27 L457.02 823.59 L459.2 823.87 L461.38 824.12 L463.56 824.34 L463.56 838.46 L461.38 836.89 L459.2 835.39 L457.02 833.98 L454.84 832.69 L452.67 831.53 L450.49 830.44 L448.31 829.41 L446.13 828.43 L443.95 827.5 L441.77 826.63 L439.59 825.81 L437.41 825.04 L435.23 824.31 L433.05 823.59 L430.87 822.88 L428.69 822.2 L426.51 821.54 L424.33 820.92 L422.15 820.32 L419.97 819.77 L417.79 819.27 L415.61 818.81 L413.43 818.41 L411.25 818.07 L409.07 817.76 L406.9 817.47 L404.72 817.21 L402.54 816.96 L400.36 816.73 L398.18 816.51 L396 816.3 L393.82 816.1 L391.64 815.9 L389.46 815.7 L387.28 815.5 L385.1 815.3 L382.92 815.1 L380.74 814.9 L378.56 814.71 L376.38 814.53 L374.2 814.34 L372.02 814.16 L369.84 813.99 L367.66 813.82 L365.48 813.65 L363.3 813.48 L361.13 813.32 L358.95 813.16 L356.77 813.01 L354.59 812.85 L352.41 812.71 L350.23 812.56 L348.05 812.42 L345.87 812.29 L343.69 812.16 L341.51 812.03 L339.33 811.91 L337.15 811.79 L334.97 811.67Z" fill="#999" fill-opacity="0.45"/>
<g fill="#1b8bc9"><circle cx="373.71" cy="816.67" r="1.04"/><circle cx="367.62" cy="816.41" r="1.04"/><circle cx="358.63" cy="806.5" r="0.72"/><circle cx="396.28" cy="815.86" r="0.88"/><circle cx="370.72" cy="806.82" r="1.43"/><circle cx="370.89" cy="812.63" r="1.21"/><circle cx="401.28" cy="816.35" r="1.04"/><circle cx="391.17" cy="819.94" r="1.04"/><circle cx="389.73" cy="820.77" r="1.04"/><circle cx="385.76" cy="824.17" r="0.72"/><circle cx="363.1" cy="804.65" r="0.72"/><circle cx="370.87" cy="806.41" r="1.21"/><circle cx="391.01" cy="822.81" r="1.04"/><circle cx="372.42" cy="807.57" r="1.04"/><circle cx="352.03" cy="809.78" r="0.72"/><circle cx="386.76" cy="809.27" r="0.88"/><circle cx="376.72" cy="808.8" r="0.88"/><circle cx="369.35" cy="817.49" r="1.04"/><circle cx="386.87" cy="817.29" r="1.21"/><circle cx="380.54" cy="809.37" r="0.88"/><circle cx="353.75" cy="808.3" r="0.72"/><circle cx="352.11" cy="811.51" r="0.88"/><circle cx="382.12" cy="816.78" r="0.72"/><circle cx="413.64" cy="821.79" r="1.04"/><circle cx="406.74" cy="814.67" r="1.43"/><circle cx="365.78" cy="811.41" r="1.04"/><circle cx="370.23" cy="832.24" r="1.43"/><circle cx="373.33" cy="808.31" r="1.43"/><circle cx="405.14" cy="819.04" r="1.04"/><circle cx="397.25" cy="830.07" r="0.88"/><circle cx="364.96" cy="822.9" r="0.88"/><circle cx="374.78" cy="806.38" r="0.72"/><circle cx="354.74" cy="827.74" r="1.04"/><circle cx="362.91" cy="815.46" r="0.88"/><circle cx="393.91" cy="821.05" r="0.88"/><circle cx="383.68" cy="823.02" r="0.88"/><circle cx="394.54" cy="809.76" r="0.72"/><circle cx="370.56" cy="818.72" r="1.43"/><circle cx="371.74" cy="809.01" r="1.04"/><circle cx="357.86" cy="801.29" r="0.88"/><circle cx="377.23" cy="805.71" r="1.04"/><circle cx="365.59" cy="814.36" r="0.88"/><circle cx="343.65" cy="814.92" r="0.72"/><circle cx="396.25" cy="821.86" r="1.04"/><circle cx="401.14" cy="807.97" r="1.04"/><circle cx="375.42" cy="813.62" r="0.88"/><circle cx="407.1" cy="822.21" r="0.88"/><circle cx="410.49" cy="814.98" r="1.21"/><circle cx="341.22" cy="807.47" r="0.88"/><circle cx="353.51" cy="812.25" r="1.04"/><circle cx="377.51" cy="815.4" r="1.04"/><circle cx="344.96" cy="807.04" r="1.04"/><circle cx="351.96" cy="823.19" r="0.88"/><circle cx="363.92" cy="806.12" r="0.72"/><circle cx="359.09" cy="809.54" r="0.88"/><circle cx="385.6" cy="815.37" r="0.88"/><circle cx="368.34" cy="811.79" r="0.72"/><circle cx="398.95" cy="821.41" r="0.88"/><circle cx="403.58" cy="811.98" r="0.88"/><circle cx="355.41" cy="819.33" r="1.04"/><circle cx="371.13" cy="817.13" r="0.88"/><circle cx="415.72" cy="836.91" r="0.88"/><circle cx="383.95" cy="817.34" r="0.72"/><circle cx="346.8" cy="816.17" r="0.72"/><circle cx="371.22" cy="815.24" r="1.21"/><circle cx="397.95" cy="812.15" r="1.04"/><circle cx="373.23" cy="818.58" r="1.04"/><circle cx="364.42" cy="805.2" r="1.21"/><circle cx="372.29" cy="808.53" r="1.21"/><circle cx="391.92" cy="811.58" r="0.88"/><circle cx="341.83" cy="807.09" r="1.43"/><circle cx="339.54" cy="807.2" r="0.72"/><circle cx="360.88" cy="821.09" r="0.88"/><circle cx="388.06" cy="807.2" r="0.88"/><circle cx="350.08" cy="811.3" r="1.04"/><circle cx="413.01" cy="815.97" r="1.43"/><circle cx="355.4" cy="805.18" r="1.04"/><circle cx="374.71" cy="817.74" r="1.21"/><circle cx="383.37" cy="808.41" r="1.21"/><circle cx="348.9" cy="807.67" r="0.88"/><circle cx="370.94" cy="808.98" r="1.04"/><circle cx="406.8" cy="814.42" r="0.88"/><circle cx="377.99" cy="810.8" r="0.72"/><circle cx="357.16" cy="810.3" r="1.21"/><circle cx="397.09" cy="810.4" r="1.43"/><circle cx="366.02" cy="817.57" r="1.71"/><circle cx="350.81" cy="804.32" r="1.04"/><circle cx="375.18" cy="805.39" r="1.04"/><circle cx="391.09" cy="813.37" r="0.88"/><circle cx="337.93" cy="807.76" r="0.72"/><circle cx="343.9" cy="808.54" r="1.04"/><circle cx="349.37" cy="809.85" r="1.21"/><circle cx="348.07" cy="822.3" r="0.72"/><circle cx="375.69" cy="810.26" r="0.72"/><circle cx="394.91" cy="819.47" r="0.88"/><circle cx="377.85" cy="810.5" r="1.21"/><circle cx="361.25" cy="808.32" r="0.88"/><circle cx="371.66" cy="816.48" r="1.43"/><circle cx="367.18" cy="808.96" r="1.71"/><circle cx="419.03" cy="813.5" r="1.04"/><circle cx="364.36" cy="812.87" r="1.04"/><circle cx="391.45" cy="817.91" r="1.04"/><circle cx="355.17" cy="802.85" r="0.88"/><circle cx="344.87" cy="813.42" r="1.21"/><circle cx="382.52" cy="817.07" r="0.88"/><circle cx="375.65" cy="821.98" r="1.21"/><circle cx="380.2" cy="819.82" r="0.88"/><circle cx="336" cy="811.32" r="0.88"/><circle cx="407.57" cy="816.13" r="0.72"/><circle cx="357.23" cy="807.12" r="1.04"/><circle cx="341.66" cy="813.8" r="1.04"/><circle cx="356.62" cy="814.31" r="1.43"/><circle cx="353.49" cy="819.29" r="0.72"/><circle cx="408.3" cy="826.7" r="0.88"/><circle cx="353.61" cy="809.95" r="1.04"/><circle cx="355.45" cy="814.43" r="1.43"/><circle cx="413.69" cy="820.29" r="1.04"/><circle cx="390.43" cy="810.65" r="0.88"/><circle cx="419.19" cy="815.77" r="0.72"/><circle cx="382.17" cy="822.12" r="1.04"/><circle cx="346.36" cy="806.81" r="1.21"/><circle cx="384.38" cy="811.37" r="0.72"/><circle cx="356.04" cy="812.99" r="1.43"/><circle cx="392.32" cy="811.1" r="0.88"/><circle cx="401.43" cy="810" r="1.21"/><circle cx="365.34" cy="824.16" r="0.88"/><circle cx="374.22" cy="819.74" r="1.04"/><circle cx="365.52" cy="816.1" r="1.21"/><circle cx="345.5" cy="800.81" r="0.88"/><circle cx="376.46" cy="816.56" r="0.88"/><circle cx="362.9" cy="825.66" r="1.04"/><circle cx="390.46" cy="808.11" r="0.72"/><circle cx="370.02" cy="807.66" r="1.04"/><circle cx="389.61" cy="818.57" r="1.43"/><circle cx="371.44" cy="816.5" r="0.72"/><circle cx="350.35" cy="799.97" r="0.88"/><circle cx="363.93" cy="823.49" r="0.72"/><circle cx="360.45" cy="807.46" r="0.72"/><circle cx="345.09" cy="828.28" r="0.72"/><circle cx="381.76" cy="812.03" r="0.88"/><circle cx="367.21" cy="822.66" r="1.04"/><circle cx="415.51" cy="824.69" r="0.72"/><circle cx="379.59" cy="810.49" r="0.72"/><circle cx="360.31" cy="811.54" r="1.71"/><circle cx="338.41" cy="813.71" r="0.88"/><circle cx="368.52" cy="801.21" r="0.72"/><circle cx="344.51" cy="808.64" r="1.04"/><circle cx="348.93" cy="819.37" r="1.21"/><circle cx="404.37" cy="808.82" r="0.72"/><circle cx="369.46" cy="809.11" r="1.21"/><circle cx="359.92" cy="812.24" r="1.21"/><circle cx="411.28" cy="813.25" r="0.88"/><circle cx="374.17" cy="816.58" r="1.04"/><circle cx="360.51" cy="807.66" r="1.43"/><circle cx="348.08" cy="813" r="1.21"/><circle cx="404.69" cy="814.34" r="1.21"/><circle cx="336.28" cy="804.79" r="1.21"/><circle cx="342.92" cy="803.07" r="1.04"/><circle cx="419.15" cy="822.56" r="1.21"/><circle cx="341.56" cy="813.52" r="0.88"/><circle cx="365.17" cy="819.36" r="1.21"/><circle cx="369.93" cy="810.38" r="0.72"/><circle cx="359.85" cy="819.25" r="0.88"/><circle cx="400.76" cy="811.58" r="0.72"/><circle cx="354.07" cy="818.49" r="0.72"/><circle cx="341.45" cy="798.53" r="1.04"/><circle cx="351.96" cy="805.21" r="1.04"/><circle cx="341.79" cy="805.2" r="1.04"/><circle cx="391.83" cy="813.61" r="0.88"/><circle cx="411.13" cy="815.91" r="1.04"/><circle cx="364.46" cy="822.83" r="1.04"/><circle cx="359.21" cy="807.35" r="0.88"/><circle cx="408.18" cy="815.75" r="1.21"/><circle cx="412.94" cy="813.41" r="0.88"/><circle cx="351.12" cy="811.12" r="0.88"/><circle cx="339.56" cy="812.67" r="1.04"/><circle cx="388.3" cy="807.73" r="1.21"/><circle cx="416.52" cy="816.05" r="1.04"/><circle cx="340.69" cy="806.61" r="0.72"/><circle cx="391.95" cy="815.38" r="0.88"/><circle cx="351.04" cy="803.39" r="1.04"/><circle cx="346.4" cy="815.74" r="1.21"/><circle cx="396.27" cy="815.33" r="0.88"/><circle cx="357.18" cy="814" r="0.88"/><circle cx="380.27" cy="813.17" r="0.88"/><circle cx="392.23" cy="814.26" r="0.72"/><circle cx="373.13" cy="803.92" r="1.43"/><circle cx="384.46" cy="810.85" r="1.21"/><circle cx="345.1" cy="809.8" r="0.72"/><circle cx="375.19" cy="814.47" r="1.71"/><circle cx="381.6" cy="809.5" r="3.74"/><circle cx="405.6" cy="807.3" r="2.42"/><circle cx="351.5" cy="806.1" r="1.98"/><circle cx="378" cy="806" r="1.87"/><circle cx="385" cy="812" r="1.76"/><circle cx="460.5" cy="818.7" r="1.43"/><circle cx="463.5" cy="832.5" r="1.1"/><circle cx="463.5" cy="839" r="1.1"/><circle cx="433" cy="820.5" r="0.88"/><circle cx="421.5" cy="825.5" r="1.1"/><circle cx="347.5" cy="786.3" r="0.99"/><circle cx="390.8" cy="794" r="1.1"/><circle cx="357" cy="834" r="0.88"/></g>
<path d="M334.97 808.51 L337.15 808.83 L339.33 809.14 L341.51 809.44 L343.69 809.73 L345.87 810.01 L348.05 810.28 L350.23 810.55 L352.41 810.8 L354.59 811.05 L356.77 811.29 L358.95 811.52 L361.13 811.75 L363.3 811.96 L365.48 812.18 L367.66 812.38 L369.84 812.59 L372.02 812.78 L374.2 812.98 L376.38 813.16 L378.56 813.35 L380.74 813.53 L382.92 813.7 L385.1 813.88 L387.28 814.05 L389.46 814.22 L391.64 814.39 L393.82 814.56 L396 814.73 L398.18 814.92 L400.36 815.12 L402.54 815.33 L404.72 815.56 L406.9 815.8 L409.07 816.08 L411.25 816.37 L413.43 816.7 L415.61 817.06 L417.79 817.44 L419.97 817.86 L422.15 818.3 L424.33 818.76 L426.51 819.26 L428.69 819.78 L430.87 820.32 L433.05 820.88 L435.23 821.47 L437.41 822.08 L439.59 822.71 L441.77 823.37 L443.95 824.05 L446.13 824.76 L448.31 825.49 L450.49 826.26 L452.67 827.06 L454.84 827.9 L457.02 828.78 L459.2 829.69 L461.38 830.65 L463.56 831.64" stroke="#363636" stroke-width="1.45" fill="none" stroke-linecap="round"/>
<rect x="328.3" y="714.8" width="142.5" height="204.6" fill="none" stroke="#d4d4d4" stroke-width="0.9"/>
<rect x="328.3" y="688.8" width="142.5" height="26" fill="#7f7f7f"/>
<text x="376.5" y="707" font-family='"Liberation Sans", sans-serif' font-weight="normal" font-size="15.5" textLength="37.9" lengthAdjust="spacingAndGlyphs" fill="#111" stroke="#111" stroke-width="0.85" stroke-linejoin="round">ASIR</text>
<text x="417.4" y="736" font-family='"DejaVu Sans", sans-serif' font-weight="bold" font-style="italic" font-size="8.1" fill="#111" textLength="47.3" lengthAdjust="spacingAndGlyphs">R=-0.3164</text>
<text x="417.4" y="746.9" font-family='"DejaVu Sans", sans-serif' font-weight="bold" font-style="italic" font-size="8.1" fill="#111" textLength="49.39" lengthAdjust="spacingAndGlyphs">P=3.818e<tspan dy="-3.1" font-size="5">-6</tspan></text>
<text x="349.1" y="927.6" text-anchor="middle" font-family='"Liberation Sans", sans-serif' font-size="5.5" fill="#5c5c5c">10</text>
<path d="M349.1 919.4v1.8" stroke="#d4d4d4" stroke-width="0.7"/>
<text x="375.4" y="927.6" text-anchor="middle" font-family='"Liberation Sans", sans-serif' font-size="5.5" fill="#5c5c5c">15</text>
<path d="M375.4 919.4v1.8" stroke="#d4d4d4" stroke-width="0.7"/>
<text x="401.7" y="927.6" text-anchor="middle" font-family='"Liberation Sans", sans-serif' font-size="5.5" fill="#5c5c5c">20</text>
<path d="M401.7 919.4v1.8" stroke="#d4d4d4" stroke-width="0.7"/>
<text x="428.2" y="927.6" text-anchor="middle" font-family='"Liberation Sans", sans-serif' font-size="5.5" fill="#5c5c5c">25</text>
<path d="M428.2 919.4v1.8" stroke="#d4d4d4" stroke-width="0.7"/>
<text x="454.6" y="927.6" text-anchor="middle" font-family='"Liberation Sans", sans-serif' font-size="5.5" fill="#5c5c5c">30</text>
<path d="M454.6 919.4v1.8" stroke="#d4d4d4" stroke-width="0.7"/>
<text x="325.6" y="761" text-anchor="end" font-family='"Liberation Sans", sans-serif' font-size="5.5" fill="#5c5c5c">4</text>
<path d="M328.3 759.1h-1.8" stroke="#d4d4d4" stroke-width="0.7"/>
<text x="325.6" y="813.6" text-anchor="end" font-family='"Liberation Sans", sans-serif' font-size="5.5" fill="#5c5c5c">0</text>
<path d="M328.3 811.7h-1.8" stroke="#d4d4d4" stroke-width="0.7"/>
<text x="325.6" y="866.4" text-anchor="end" font-family='"Liberation Sans", sans-serif' font-size="5.5" fill="#5c5c5c">-4</text>
<path d="M328.3 864.5h-1.8" stroke="#d4d4d4" stroke-width="0.7"/>
<text x="325.6" y="918.6" text-anchor="end" font-family='"Liberation Sans", sans-serif' font-size="5.5" fill="#5c5c5c">-8</text>
<path d="M328.3 916.7h-1.8" stroke="#d4d4d4" stroke-width="0.7"/>
</g>
<g>
<rect x="472.7" y="714.8" width="142.4" height="204.6" fill="#fff"/>
<path d="M492.9 714.8V919.4M530.1 714.8V919.4M567.6 714.8V919.4M604.9 714.8V919.4M472.7 733H615.1M472.7 785.4H615.1M472.7 838.2H615.1M472.7 890.8H615.1" stroke="#f2f2f2" stroke-width="0.7" fill="none"/>
<path d="M474.6 714.8V919.4M511.6 714.8V919.4M548.9 714.8V919.4M586.2 714.8V919.4M472.7 759.1H615.1M472.7 811.7H615.1M472.7 864.5H615.1M472.7 917.2H615.1" stroke="#eaeaea" stroke-width="0.8" fill="none"/>
<path d="M479.48 806.07 L481.66 808.88 L483.84 811.54 L486.02 814.02 L488.2 816.3 L490.38 818.37 L492.56 820.2 L494.74 821.89 L496.92 823.45 L499.1 824.88 L501.28 826.17 L503.46 827.32 L505.64 828.35 L507.82 829.3 L510 830.18 L512.18 830.97 L514.36 831.67 L516.54 832.27 L518.72 832.78 L520.89 833.24 L523.07 833.66 L525.25 834.05 L527.43 834.43 L529.61 834.83 L531.79 835.25 L533.97 835.66 L536.15 836.03 L538.33 836.33 L540.51 836.52 L542.69 836.66 L544.87 836.78 L547.05 836.88 L549.23 836.96 L551.41 837 L553.59 837 L555.77 836.96 L557.95 836.89 L560.13 836.79 L562.31 836.67 L564.49 836.53 L566.66 836.33 L568.84 836.01 L571.02 835.59 L573.2 835.08 L575.38 834.51 L577.56 833.88 L579.74 833.07 L581.92 832.07 L584.1 830.92 L586.28 829.67 L588.46 828.37 L590.64 827 L592.82 825.49 L595 823.84 L597.18 822.07 L599.36 820.22 L601.54 818.23 L603.72 816.09 L605.9 813.82 L608.08 811.43 L608.08 857.95 L605.9 857.32 L603.72 856.72 L601.54 856.16 L599.36 855.63 L597.18 855.14 L595 854.65 L592.82 854.19 L590.64 853.8 L588.46 853.48 L586.28 853.21 L584.1 852.97 L581.92 852.76 L579.74 852.57 L577.56 852.4 L575.38 852.24 L573.2 852.1 L571.02 851.98 L568.84 851.86 L566.66 851.74 L564.49 851.6 L562.31 851.45 L560.13 851.28 L557.95 851.11 L555.77 850.93 L553.59 850.74 L551.41 850.53 L549.23 850.31 L547.05 850.07 L544.87 849.82 L542.69 849.53 L540.51 849.2 L538.33 848.82 L536.15 848.36 L533.97 847.84 L531.79 847.27 L529.61 846.66 L527.43 846.03 L525.25 845.34 L523.07 844.58 L520.89 843.78 L518.72 842.94 L516.54 842.08 L514.36 841.21 L512.18 840.32 L510 839.39 L507.82 838.43 L505.64 837.41 L503.46 836.32 L501.28 835.13 L499.1 833.86 L496.92 832.52 L494.74 831.14 L492.56 829.77 L490.38 828.41 L488.2 827.05 L486.02 825.66 L483.84 824.26 L481.66 822.85 L479.48 821.42Z" fill="#999" fill-opacity="0.45"/>
<g fill="#1b8bc9"><circle cx="493.7" cy="723.37" r="1.04"/><circle cx="486.07" cy="763.47" r="1.04"/><circle cx="483.46" cy="783.73" r="1.04"/><circle cx="494.14" cy="784.17" r="1.04"/><circle cx="480.19" cy="787.44" r="1.04"/><circle cx="482.15" cy="787" r="1.04"/><circle cx="491.52" cy="788.09" r="1.04"/><circle cx="487.82" cy="791.79" r="1.04"/><circle cx="483.24" cy="792.88" r="1.04"/><circle cx="478.88" cy="795.06" r="1.04"/><circle cx="483.9" cy="795.72" r="1.04"/><circle cx="485.42" cy="796.37" r="1.04"/><circle cx="486.51" cy="796.81" r="1.04"/><circle cx="500.24" cy="797.24" r="1.04"/><circle cx="484.55" cy="800.08" r="1.04"/><circle cx="490" cy="802.25" r="1.04"/><circle cx="492.18" cy="802.25" r="1.04"/><circle cx="496.53" cy="803.34" r="1.04"/><circle cx="499.15" cy="803.78" r="1.04"/><circle cx="502.42" cy="803.34" r="1.04"/><circle cx="503.51" cy="804.43" r="1.04"/><circle cx="515.49" cy="803.78" r="1.04"/><circle cx="518.33" cy="802.25" r="1.04"/><circle cx="496.97" cy="806.61" r="1.04"/><circle cx="500.24" cy="806.18" r="1.04"/><circle cx="489.34" cy="809.23" r="1.04"/><circle cx="491.09" cy="809.88" r="1.04"/><circle cx="496.32" cy="809.23" r="1.04"/><circle cx="501.33" cy="808.14" r="1.04"/><circle cx="504.6" cy="805.52" r="1.04"/><circle cx="506.78" cy="809.88" r="1.04"/><circle cx="511.57" cy="806.61" r="1.04"/><circle cx="512.88" cy="805.96" r="1.04"/><circle cx="517.67" cy="808.36" r="1.04"/><circle cx="518.11" cy="809.23" r="1.04"/><circle cx="511.13" cy="809.88" r="1.04"/><circle cx="487.82" cy="812.5" r="1.04"/><circle cx="491.52" cy="813.15" r="1.04"/><circle cx="499.15" cy="813.8" r="1.04"/><circle cx="505.03" cy="814.68" r="1.04"/><circle cx="507.43" cy="815.33" r="1.04"/><circle cx="510.48" cy="812.06" r="1.04"/><circle cx="510.7" cy="814.24" r="1.04"/><circle cx="511.13" cy="816.42" r="1.04"/><circle cx="518.76" cy="812.5" r="1.04"/><circle cx="519.42" cy="816.42" r="1.04"/><circle cx="548.18" cy="812.5" r="1.04"/><circle cx="547.09" cy="814.24" r="1.04"/><circle cx="483.46" cy="817.51" r="1.04"/><circle cx="494.14" cy="816.42" r="1.04"/><circle cx="494.79" cy="818.16" r="1.04"/><circle cx="501.98" cy="818.6" r="1.04"/><circle cx="505.69" cy="818.16" r="1.04"/><circle cx="503.51" cy="820.12" r="1.04"/><circle cx="508.3" cy="821.43" r="1.04"/><circle cx="512.22" cy="818.6" r="1.04"/><circle cx="514.4" cy="820.78" r="1.04"/><circle cx="527.91" cy="820.78" r="1.04"/><circle cx="539.46" cy="819.03" r="1.04"/><circle cx="482.15" cy="819.25" r="1.04"/><circle cx="485.64" cy="822.3" r="1.04"/><circle cx="488.25" cy="822.96" r="1.04"/><circle cx="490" cy="824.05" r="1.04"/><circle cx="490.87" cy="825.14" r="1.04"/><circle cx="494.14" cy="823.61" r="1.04"/><circle cx="501.33" cy="822.3" r="1.04"/><circle cx="502.42" cy="822.96" r="1.04"/><circle cx="513.31" cy="824.05" r="1.04"/><circle cx="514.4" cy="822.96" r="1.04"/><circle cx="519.42" cy="824.7" r="1.04"/><circle cx="523.12" cy="821.43" r="1.04"/><circle cx="531.84" cy="823.61" r="1.04"/><circle cx="532.93" cy="822.96" r="1.04"/><circle cx="491.52" cy="827.31" r="1.04"/><circle cx="507.21" cy="825.79" r="1.04"/><circle cx="510.05" cy="827.31" r="1.04"/><circle cx="512.22" cy="827.75" r="1.04"/><circle cx="514.4" cy="826.88" r="1.04"/><circle cx="529.66" cy="828.4" r="1.04"/><circle cx="488.69" cy="831.67" r="1.04"/><circle cx="493.7" cy="830.58" r="1.04"/><circle cx="496.97" cy="831.67" r="1.04"/><circle cx="498.06" cy="832.76" r="1.04"/><circle cx="499.15" cy="833.42" r="1.04"/><circle cx="519.42" cy="830.58" r="1.04"/><circle cx="520.5" cy="832.76" r="1.04"/><circle cx="522.68" cy="832.33" r="1.04"/><circle cx="525.95" cy="830.58" r="1.04"/><circle cx="527.48" cy="830.15" r="1.04"/><circle cx="483.46" cy="838.21" r="1.04"/><circle cx="483.9" cy="839.74" r="1.04"/><circle cx="490" cy="837.77" r="1.04"/><circle cx="492.61" cy="837.12" r="1.04"/><circle cx="491.52" cy="840.39" r="1.04"/><circle cx="496.97" cy="841.48" r="1.04"/><circle cx="499.59" cy="841.48" r="1.04"/><circle cx="505.25" cy="838.65" r="1.04"/><circle cx="505.69" cy="839.95" r="1.04"/><circle cx="508.96" cy="841.48" r="1.04"/><circle cx="510.05" cy="839.3" r="1.04"/><circle cx="513.31" cy="840.83" r="1.04"/><circle cx="523.77" cy="839.95" r="1.04"/><circle cx="548.62" cy="838.21" r="1.04"/><circle cx="556.9" cy="837.77" r="1.04"/><circle cx="486.73" cy="844.31" r="1.04"/><circle cx="488.25" cy="844.75" r="1.04"/><circle cx="492.61" cy="843.66" r="1.04"/><circle cx="494.79" cy="846.27" r="1.04"/><circle cx="513.97" cy="844.75" r="1.04"/><circle cx="526.39" cy="844.75" r="1.04"/><circle cx="541.21" cy="844.09" r="1.04"/><circle cx="552.54" cy="844.09" r="1.04"/><circle cx="489.34" cy="850.2" r="1.04"/><circle cx="500.24" cy="849.54" r="1.04"/><circle cx="505.69" cy="851.72" r="1.04"/><circle cx="515.06" cy="849.11" r="1.04"/><circle cx="532.93" cy="849.11" r="1.04"/><circle cx="536.19" cy="848.67" r="1.04"/><circle cx="515.49" cy="853.9" r="1.04"/><circle cx="515.93" cy="855.21" r="1.04"/><circle cx="494.79" cy="855.21" r="1.04"/><circle cx="501.33" cy="856.08" r="1.04"/><circle cx="500.67" cy="858.26" r="1.04"/><circle cx="504.16" cy="856.73" r="1.04"/><circle cx="506.78" cy="857.17" r="1.04"/><circle cx="520.5" cy="855.64" r="1.04"/><circle cx="536.85" cy="850.85" r="1.04"/><circle cx="538.37" cy="854.55" r="1.04"/><circle cx="534.02" cy="857.82" r="1.04"/><circle cx="487.82" cy="857.82" r="1.04"/><circle cx="491.09" cy="860.44" r="1.04"/><circle cx="493.27" cy="862.18" r="1.04"/><circle cx="484.99" cy="863.27" r="1.04"/><circle cx="541.21" cy="858.48" r="1.04"/><circle cx="542.73" cy="859.35" r="1.04"/><circle cx="543.82" cy="861.53" r="1.04"/><circle cx="552.1" cy="857.17" r="1.04"/><circle cx="557.33" cy="855.64" r="1.04"/><circle cx="522.68" cy="864.36" r="1.04"/><circle cx="524.65" cy="863.92" r="1.04"/><circle cx="528.57" cy="864.36" r="1.04"/><circle cx="505.69" cy="869.15" r="1.04"/><circle cx="511.13" cy="868.72" r="1.04"/><circle cx="509.39" cy="870.46" r="1.04"/><circle cx="510.7" cy="871.33" r="1.04"/><circle cx="512.22" cy="871.99" r="1.04"/><circle cx="494.14" cy="870.9" r="1.04"/><circle cx="488.69" cy="873.73" r="1.04"/><circle cx="493.27" cy="875.26" r="1.04"/><circle cx="494.14" cy="876.34" r="1.04"/><circle cx="525.95" cy="873.51" r="1.04"/><circle cx="536.19" cy="874.82" r="1.04"/><circle cx="500.67" cy="878.09" r="1.04"/><circle cx="508.96" cy="881.36" r="1.04"/><circle cx="531.4" cy="891.6" r="1.04"/><circle cx="499.8" cy="910.12" r="1.04"/><circle cx="593.1" cy="803.8" r="1.04"/><circle cx="574.3" cy="817.9" r="1.04"/><circle cx="564.8" cy="821.1" r="1.04"/><circle cx="597.8" cy="825.1" r="1.04"/><circle cx="596.2" cy="831.2" r="1.04"/><circle cx="589.3" cy="834.9" r="1.04"/><circle cx="571.4" cy="839.4" r="1.04"/><circle cx="573.9" cy="841" r="1.04"/><circle cx="599.1" cy="842.9" r="1.04"/><circle cx="574.3" cy="850.3" r="1.04"/><circle cx="608" cy="872.8" r="1.04"/><circle cx="565" cy="890.6" r="1.04"/></g>
<path d="M479.48 813.87 L481.66 816.04 L483.84 818.07 L486.02 819.97 L488.2 821.75 L490.38 823.41 L492.56 824.97 L494.74 826.43 L496.92 827.79 L499.1 829.08 L501.28 830.3 L503.46 831.45 L505.64 832.54 L507.82 833.59 L510 834.57 L512.18 835.5 L514.36 836.37 L516.54 837.19 L518.72 837.95 L520.89 838.66 L523.07 839.31 L525.25 839.92 L527.43 840.47 L529.61 840.98 L531.79 841.45 L533.97 841.87 L536.15 842.24 L538.33 842.58 L540.51 842.86 L542.69 843.11 L544.87 843.32 L547.05 843.49 L549.23 843.64 L551.41 843.76 L553.59 843.87 L555.77 843.97 L557.95 844.04 L560.13 844.08 L562.31 844.1 L564.49 844.07 L566.66 844 L568.84 843.89 L571.02 843.73 L573.2 843.53 L575.38 843.29 L577.56 843 L579.74 842.67 L581.92 842.3 L584.1 841.91 L586.28 841.48 L588.46 841.03 L590.64 840.56 L592.82 840.07 L595 839.53 L597.18 838.95 L599.36 838.3 L601.54 837.57 L603.72 836.76 L605.9 835.84 L608.08 834.81" stroke="#363636" stroke-width="1.45" fill="none" stroke-linecap="round"/>
<rect x="472.7" y="714.8" width="142.4" height="204.6" fill="none" stroke="#d4d4d4" stroke-width="0.9"/>
<rect x="472.7" y="688.8" width="142.4" height="26" fill="#7f7f7f"/>
<text x="519.8" y="707" font-family='"Liberation Sans", sans-serif' font-weight="normal" font-size="15.5" textLength="44.3" lengthAdjust="spacingAndGlyphs" fill="#111" stroke="#111" stroke-width="0.85" stroke-linejoin="round">ASDR</text>
<text x="551.9" y="736" font-family='"DejaVu Sans", sans-serif' font-weight="bold" font-style="italic" font-size="8.1" fill="#111" textLength="47.3" lengthAdjust="spacingAndGlyphs">R=-0.2697</text>
<text x="551.9" y="746.9" font-family='"DejaVu Sans", sans-serif' font-weight="bold" font-style="italic" font-size="8.1" fill="#111" textLength="52.87" lengthAdjust="spacingAndGlyphs">P=9.185e<tspan dy="-3.1" font-size="5">-05</tspan></text>
<text x="475" y="927.6" text-anchor="middle" font-family='"Liberation Sans", sans-serif' font-size="5.5" fill="#5c5c5c">0.00</text>
<path d="M475 919.4v1.8" stroke="#d4d4d4" stroke-width="0.7"/>
<text x="511.6" y="927.6" text-anchor="middle" font-family='"Liberation Sans", sans-serif' font-size="5.5" fill="#5c5c5c">0.25</text>
<path d="M511.6 919.4v1.8" stroke="#d4d4d4" stroke-width="0.7"/>
<text x="548.9" y="927.6" text-anchor="middle" font-family='"Liberation Sans", sans-serif' font-size="5.5" fill="#5c5c5c">0.50</text>
<path d="M548.9 919.4v1.8" stroke="#d4d4d4" stroke-width="0.7"/>
<text x="586.2" y="927.6" text-anchor="middle" font-family='"Liberation Sans", sans-serif' font-size="5.5" fill="#5c5c5c">0.75</text>
<path d="M586.2 919.4v1.8" stroke="#d4d4d4" stroke-width="0.7"/>
</g>
<text x="327.6" y="685.8" font-family='"Liberation Serif", serif' font-size="17.4" fill="#222" textLength="8.9" lengthAdjust="spacingAndGlyphs">F</text>
<text transform="translate(318.9 817.5) rotate(-90)" text-anchor="middle" font-family='"Liberation Sans", sans-serif' font-size="6.4" fill="#333">EAPC</text>
<text x="462.4" y="942.6" font-family='"Liberation Sans", sans-serif' font-weight="bold" font-size="11.9" textLength="24.2" lengthAdjust="spacingAndGlyphs" fill="#111">ASR</text>
<text x="616.4" y="777" font-family='"DejaVu Sans", sans-serif' font-weight="bold" font-size="13.4" textLength="91" lengthAdjust="spacingAndGlyphs" fill="#111">cases in 1990</text>
<circle cx="621.1" cy="786.9" r="0.9" fill="#000"/>
<text x="627.2" y="789.7" font-family='"DejaVu Sans", sans-serif' font-weight="bold" font-size="6.9" textLength="17.5" lengthAdjust="spacingAndGlyphs" fill="#222">&lt;500</text>
<circle cx="621.1" cy="803.4" r="1.7" fill="#000"/>
<text x="627.2" y="805.2" font-family='"DejaVu Sans", sans-serif' font-weight="bold" font-size="6.9" textLength="40.5" lengthAdjust="spacingAndGlyphs" fill="#222">500-10,000</text>
<circle cx="621.1" cy="823.2" r="2.8" fill="#000"/>
<text x="627.2" y="826" font-family='"DejaVu Sans", sans-serif' font-weight="bold" font-size="6.9" textLength="52" lengthAdjust="spacingAndGlyphs" fill="#222">10,000-50,000</text>
<circle cx="621.1" cy="842" r="3.95" fill="#000"/>
<text x="627.2" y="846.2" font-family='"DejaVu Sans", sans-serif' font-weight="bold" font-size="6.9" textLength="29" lengthAdjust="spacingAndGlyphs" fill="#222">&gt;50,000</text>
</svg>
</body></html>
